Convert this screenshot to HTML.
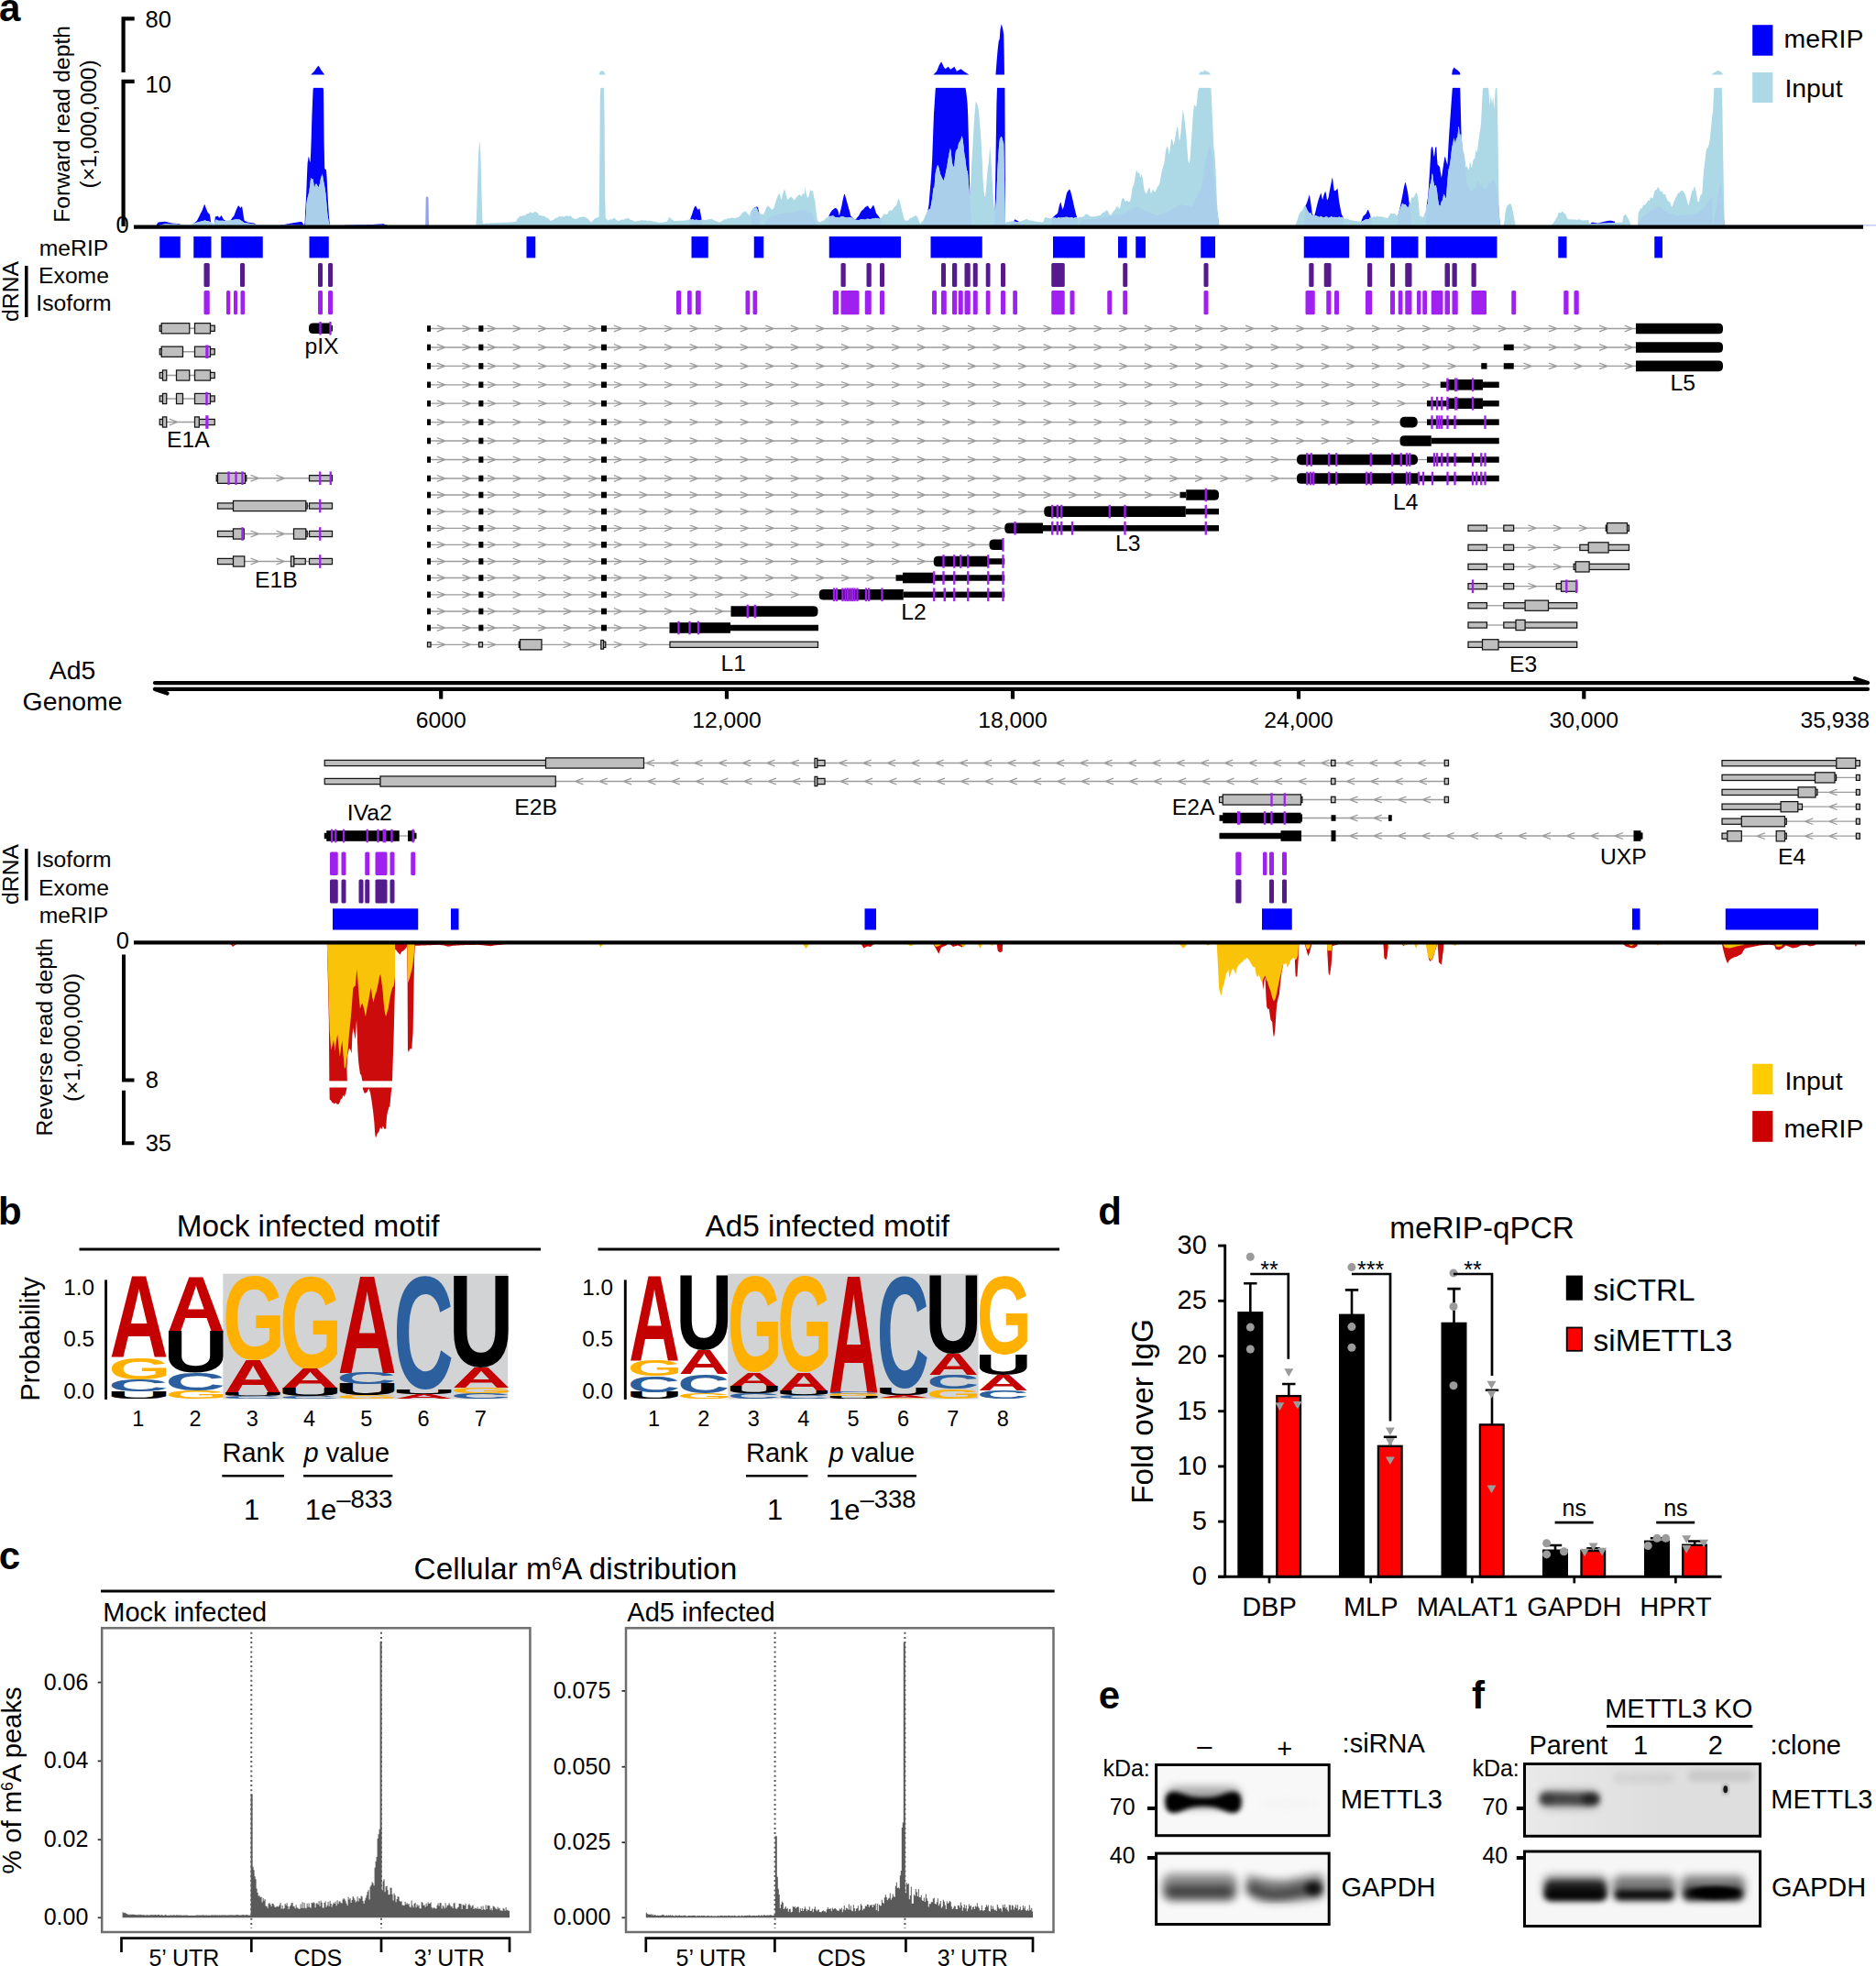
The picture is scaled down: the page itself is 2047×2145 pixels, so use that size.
<!DOCTYPE html>
<html lang="en"><head><meta charset="utf-8"><title>Figure</title>
<style>
html,body{margin:0;padding:0;background:#fff}
svg{display:block;font-family:"Liberation Sans",sans-serif}

</style></head><body>
<svg width="2047" height="2145" viewBox="0 0 2047 2145">
<defs>
<filter id="b2" x="-20%" y="-60%" width="140%" height="220%"><feGaussianBlur stdDeviation="2"/></filter>
<filter id="b25" x="-20%" y="-60%" width="140%" height="220%"><feGaussianBlur stdDeviation="2.4"/></filter>
<filter id="b3" x="-20%" y="-80%" width="140%" height="260%"><feGaussianBlur stdDeviation="3.2"/></filter>
<filter id="b5" x="-20%" y="-100%" width="140%" height="300%"><feGaussianBlur stdDeviation="5"/></filter>
<filter id="b1" x="-5%" y="-5%" width="110%" height="110%"><feGaussianBlur stdDeviation="0.5"/></filter>
</defs>
<g id="fwdcov">
<polygon points="170,246.6 170.6,245.8 171.2,244.86 171.8,243.86 172.4,242.84 173,242.47 173.6,242.41 174.2,242.35 174.8,242.29 175.4,242.23 176,242.17 176.6,242.11 177.2,242.05 177.8,241.99 178.4,241.93 179,241.87 179.6,241.81 180.2,241.79 180.8,241.93 181.4,242.07 182,242.21 182.6,242.35 183.2,242.49 183.8,242.63 184.4,242.77 185,242.91 185.6,243.05 186.2,243.19 186.8,243.33 187.4,243.47 188,243.55 188.6,243.6 189.2,243.65 189.8,243.7 190.4,243.76 191,243.81 191.6,243.86 192.2,243.91 192.8,243.96 193.4,244.01 194,244.06 194.6,244.12 195.2,244.17 195.8,244.22 196.4,244.29 197,245.49 197.6,246.6" fill="#0505fa"/>
<polygon points="207.8,246.6 208.4,246.07 209,245.64 209.6,245.16 210.2,244.66 210.8,244.16 211.4,243.66 212,243.16 212.6,242.66 213.2,242.16 213.8,241.66 214.4,241.13 215,240.61 215.6,239.57 216.2,238.31 216.8,237.18 217.4,236.11 218,234.86 218.6,233.45 219.2,232.2 219.8,231.19 220.4,229.98 221,228.4 221.6,226.82 222.2,225.15 222.8,223.47 223.4,222.97 224,224.82 224.6,226.67 225.2,228.28 225.8,229.74 226.4,231.2 227,232.03 227.6,232.8 228.2,233.33 228.8,233.8 229.4,237.15 230,241.54 230.6,245.94 231.2,246.6" fill="#0505fa"/>
<polygon points="233.6,246.6 234.2,243.53 234.8,236.49 235.4,236.32 236,236.14 236.6,235.99 237.2,235.85 237.8,235.8 238.4,236.52 239,237.24 239.6,237.64 240.2,236.74 240.8,235.84 241.4,234.94 242,235.79 242.6,236.93 243.2,238.03 243.8,239.11 244.4,239.81 245,240.33 245.6,240.62 246.2,240.76 246.8,240.9 247.4,241.05 248,241.2 248.6,241.35 249.2,241.5 249.8,241.65 250.4,241.58 251,240.81 251.6,240.06 252.2,239.44 252.8,238.8 253.4,237.81 254,236.83 254.6,236.31 255.2,235.8 255.8,234.23 256.4,232.53 257,230.91 257.6,229.32 258.2,227.98 258.8,226.74 259.4,225.58 260,224.48 260.6,224.48 261.2,225.42 261.8,226.36 262.4,226.94 263,226.07 263.6,225.19 264.2,225.65 264.8,229.6 265.4,233.51 266,237.22 266.6,240.59 267.2,240.89 267.8,241.18 268.4,241.5 269,241.82 269.6,242.14 270.2,242.46 270.8,242.58 271.4,242.66 272,242.74 272.6,242.82 273.2,242.9 273.8,242.98 274.4,243.06 275,243.14 275.6,243.22 276.2,243.3 276.8,243.38 277.4,243.46 278,243.76 278.6,244.54 279.2,245.32 279.8,246.1 280.4,246.6" fill="#0505fa"/>
<polygon points="302,246.6 302.6,246.36 303.2,246.25 303.8,246.14 304.4,246.02 305,245.91 305.6,245.8 306.2,245.69 306.8,245.58 307.4,245.47 308,245.36 308.6,245.24 309.2,245.13 309.8,245.02 310.4,244.91 311,244.8 311.6,244.69 312.2,244.58 312.8,244.46 313.4,244.35 314,244.24 314.6,244.13 315.2,244.02 315.8,243.91 316.4,243.8 317,243.68 317.6,243.57 318.2,243.47 318.8,243.38 319.4,243.28 320,243.19 320.6,243.1 321.2,243 321.8,242.91 322.4,242.82 323,242.72 323.6,242.63 324.2,242.54 324.8,242.44 325.4,242.35 326,242.26 326.6,242.16 327.2,242.07 327.8,241.98 328.4,241.88 329,241.79 329.6,242.42 330.2,243.34 330.8,244.27 331.4,245.19 332,246.11 332.6,242.99 333.2,230.25 333.8,219.32 334.4,207.11 335,190.64 335.6,177.67 336.2,174.07 336.8,170.47 337.4,172.57 338,176.39 338.6,176.4 339.2,165.66 339.8,148.33 340.4,126.46 341,111.7 341.6,97.56 342.2,95.2 352.4,95.2 353,98.02 353.6,155.11 354.2,183.22 354.8,184.68 355.4,184.91 356,185.13 356.6,193.28 357.2,206.37 357.8,217.62 358.4,227.22 359,236.82 359.6,242.4 360.2,245.35 360.8,246.6" fill="#0505fa"/>
<polygon points="365.6,246.6 366.2,246.42 367.4,246.34 368.6,246.27 369.8,246.19 371,246.12 372.2,246.04 373.4,245.97 374.6,245.89 375.8,245.82 377,245.74 378.2,245.67 379.4,245.59 380.6,245.52 383.6,245.46 386.6,245.4 389.6,245.34 392.6,245.28 395.6,245.22 398.6,245.16 401.6,245.1 404.6,245.04 406.4,244.97 407.6,244.9 408.8,244.83 410,244.76 411.2,244.68 412.4,244.61 413.6,244.54 414.8,244.47 416,244.4 417.2,244.32 417.8,244.29 418.4,244.36 419,244.56 419.6,244.76 420.2,244.96 420.8,245.16 421.4,245.36 422,245.56 422.6,245.76 423.2,245.96 423.8,246.16 424.4,246.36 425,246.6" fill="#0505fa"/>
<polygon points="752,246.6 752.6,243.01 753.2,238.97 753.8,237.18 754.4,235.5 755,233.92 755.6,232.21 756.2,230.32 756.8,228.44 757.4,226.67 758,225.8 758.6,224.94 759.2,224.47 759.8,225.67 760.4,226.87 761,227.95 761.6,229.01 762.2,228.42 762.8,227.84 763.4,227.58 764,230.73 764.6,233.87 765.2,237.02 765.8,241.82 766.4,246.6" fill="#0505fa"/>
<polygon points="819.8,246.6 820.4,231.54 821,228.88 821.6,228.58 822.2,227.87 822.8,227.06 823.4,226.62 824,226.33 824.6,225.94 825.2,225.49 825.8,225.39 826.4,225.58 827,226.65 827.6,228.8 828.2,230.95 828.8,241.26 829.4,246.6" fill="#0505fa"/>
<polygon points="833,246.6 833.6,245.6 834.2,244.62 834.8,243.62 835.4,242.57 836,241.52 836.6,240.48 837.2,239.46 837.8,238.44 838.4,237.95 839,237.74 839.6,237.53 840.2,237.32 840.8,237.11 841.4,236.81 842,236.39 842.6,235.98 843.2,235.83 843.8,235.72 844.4,235.59 845,235.34 845.6,235.09 846.2,234.75 846.8,234.37 847.4,233.98 848.6,233.93 849.2,233.84 849.8,233.63 850.4,233.42 851,233.17 851.6,232.9 852.2,232.63 852.8,232.79 853.4,232.96 854,233.05 854.6,232.83 855.2,232.62 855.8,232.48 857,232.44 857.6,232.5 858.2,232.6 858.8,232.7 859.4,232.64 860,232.54 860.6,232.43 861.2,232.17 861.8,231.91 862.4,231.73 863.6,231.8 865.4,231.76 866,231.61 866.6,231.4 867.2,231.19 867.8,230.99 868.4,230.79 869,230.6 869.6,230.49 870.2,230.38 870.8,230.31 872,230.3 872.6,230.05 873.2,229.65 873.8,229.24 875.6,229.3 876.2,229.48 876.8,229.66 877.4,229.82 878,229.9 878.6,229.98 879.2,230.18 879.8,230.51 880.4,230.85 881,231.18 881.6,231.5 882.2,231.82 882.8,232.02 883.4,232.21 884,232.39 884.6,232.48 885.2,232.58 885.8,233.14 886.4,234.71 887,236.28 887.6,237.63 888.2,238.88 888.8,240.13 889.4,241.41 890,242.68 890.6,243.98 891.2,245.3 891.8,246.6" fill="#0505fa"/>
<polygon points="903.8,246.6 904.4,235.54 905,234.35 905.6,233.17 906.2,232 906.8,231.12 907.4,230.24 908,229.48 908.6,228.93 909.2,228.39 909.8,227.97 910.4,227.62 911,227.29 911.6,226.99 912.2,227.08 912.8,227.61 913.4,228.25 914,229.04 914.6,230.49 915.2,233.46 915.8,235.25 916.4,232.69 917,230.17 917.6,227.88 918.2,225.56 918.8,222.44 919.4,219.31 920,216.45 920.6,214.12 921.2,211.79 921.8,212.07 922.4,214 923,215.97 923.6,218.17 924.2,220.36 924.8,222.58 925.4,224.8 926,226.97 926.6,229.07 927.2,231.33 927.8,233.79 928.4,235.66 929,236.34 929.6,236.96 930.2,237.4 930.8,237.86 931.4,238.44 932,239.02 932.6,239.45 933.2,239.87 933.8,239.14 934.4,238.4 935,237.64 935.6,236.89 936.2,236.33 936.8,235.82 937.4,234.79 938,233.57 938.6,232.5 939.2,231.53 939.8,230.58 940.4,229.63 941,228.99 941.6,228.7 942.2,228.41 942.8,227.57 943.4,226.71 944,226.1 944.6,225.8 945.2,225.49 945.8,225.11 946.4,224.7 947,224.32 947.6,225.41 948.2,226.5 948.8,227.37 949.4,228.21 950,227.8 950.6,227.16 951.2,226.22 951.8,225.2 952.4,224.46 953,223.86 953.6,224.71 954.2,226.61 954.8,228.64 955.4,230.8 956,232.45 956.6,233.36 957.2,234.17 957.8,234.79 958.4,235.48 959,236.41 959.6,237.33 960.2,238.26 960.8,239.65 961.4,246.6" fill="#0505fa"/>
<polygon points="1005.8,246.6 1006.4,245.47 1007,244.2 1007.6,242.86 1008.2,241.51 1008.8,240.12 1009.4,238.71 1010,237.37 1010.6,236.08 1011.2,234.21 1011.8,231.85 1012.4,229.39 1013,226.81 1013.6,222.38 1014.2,214.81 1014.8,207.46 1015.4,200.65 1016,193.28 1016.6,183.53 1017.2,173.04 1017.8,156.25 1018.4,139.46 1019,124.07 1019.6,114.93 1020.2,105.79 1020.8,96.64 1021.4,95.2 1053.2,95.2 1053.8,97.56 1054.4,101.76 1055,106.78 1055.6,112.72 1056.2,125.57 1056.8,149.44 1057.4,173.32 1058,198.2 1058.6,220.88 1059.2,234.67 1059.8,246.6" fill="#0505fa"/>
<polygon points="1085,246.6 1085.6,233.22 1086.2,193.06 1086.8,152.46 1087.4,113.7 1088,95.2 1096.4,95.2 1097,246.6" fill="#0505fa"/>
<polygon points="1103.6,246.6 1104.2,245.36 1104.8,242.43 1105.4,241.78 1106,241.13 1106.6,240.43 1107.2,239.7 1107.8,239.13 1108.4,239.69 1109,240.24 1109.6,240.55 1110.2,240.87 1110.8,241.25 1111.4,241.64 1112,242.03 1112.6,242.42 1113.2,246.43 1113.8,246.6" fill="#0505fa"/>
<polygon points="1146.8,246.6 1147.4,245.13 1148,237.98 1148.6,237.41 1149.2,236.84 1149.8,236.23 1150.4,235.63 1151,235.1 1151.6,234.57 1152.2,234.17 1152.8,233.77 1153.4,233.26 1154,232.74 1154.6,230.21 1155.2,227.38 1155.8,224.55 1156.4,222.66 1157,220.81 1157.6,220.98 1158.2,223.67 1158.8,226.37 1159.4,228.64 1160,227.17 1160.6,225.7 1161.2,223.41 1161.8,220.56 1162.4,217.72 1163,215.01 1163.6,212.33 1164.2,209.97 1164.8,209.17 1165.4,208.37 1166,207.65 1166.6,207.04 1167.2,206.43 1167.8,207.78 1168.4,209.83 1169,211.88 1169.6,214.22 1170.2,216.63 1170.8,219.42 1171.4,222.36 1172,225.05 1172.6,227.61 1173.2,230.12 1173.8,232.59 1174.4,234.84 1175,236.83 1175.6,242.02 1176.2,245.65 1176.8,244.96 1177.4,244.24 1178,243.49 1178.6,242.74 1179.2,242.02 1179.8,241.31 1180.4,240.61 1181,240.53 1181.6,240.46 1182.2,240.36 1182.8,240.24 1183.4,240.13 1184,240.01 1184.6,239.89 1185.2,239.81 1186.4,239.85 1187,239.75 1187.6,239.6 1188.2,239.48 1190.6,239.41 1191.2,239.37 1191.8,239.19 1192.4,239.01 1193,238.89 1193.6,238.81 1194.2,238.74 1196,238.76 1196.6,238.64 1197.2,238.53 1197.8,238.36 1198.4,238.18 1199,238.02 1199.6,237.93 1200.2,237.85 1200.8,237.74 1201.4,237.62 1202,237.51 1203.2,237.58 1203.8,237.55 1204.4,237.41 1205,237.27 1205.6,237.03 1206.2,236.76 1206.8,236.55 1208,236.62 1208.6,236.59 1209.2,236.51 1209.8,236.43 1210.4,236.24 1211,236.04 1211.6,235.85 1212.2,235.65 1212.8,235.45 1213.4,235.35 1214,235.28 1214.6,235.19 1215.2,234.96 1215.8,234.72 1216.4,234.53 1217,234.38 1217.6,234.22 1218.2,234.35 1218.8,234.49 1219.4,234.53 1220,234.32 1220.6,234.11 1221.2,233.94 1221.8,233.78 1222.4,233.64 1223.6,233.65 1224.2,233.52 1224.8,233.25 1225.4,232.98 1226,232.8 1226.6,232.63 1227.2,232.46 1227.8,232.15 1228.4,231.84 1229,231.47 1229.6,230.96 1230.2,230.46 1230.8,230.06 1231.4,229.77 1232,229.48 1232.6,229.19 1233.2,228.9 1233.8,228.61 1234.4,228.29 1235,227.97 1235.6,227.67 1236.2,227.51 1236.8,227.35 1237.4,227.08 1238,226.64 1238.6,226.2 1239.2,225.88 1239.8,225.65 1240.4,225.42 1241,225.52 1241.6,225.7 1242.2,225.88 1242.8,226.52 1243.4,227.15 1244,227.65 1244.6,227.71 1245.2,227.78 1245.8,227.98 1246.4,228.32 1247,228.67 1247.6,229.01 1248.2,229.36 1248.8,229.7 1249.4,230.11 1250,230.52 1250.6,230.89 1251.2,230.95 1251.8,231.01 1252.4,231.25 1253,231.66 1253.6,232.07 1254.2,232.2 1254.8,232.3 1255.4,232.44 1256,232.69 1256.6,232.94 1257.2,233.18 1257.8,233.42 1258.4,233.65 1259,233.74 1259.6,233.84 1260.2,234.05 1260.8,234.42 1261.4,234.78 1262,234.98 1262.6,235.16 1263.2,235.22 1263.8,234.93 1264.4,234.63 1265,234.51 1266.2,234.46 1266.8,234.04 1267.4,233.62 1268,233.31 1268.6,233.15 1269.2,233 1269.8,232.85 1270.4,232.69 1271,232.51 1271.6,232.21 1272.2,231.92 1272.8,231.61 1273.4,231.29 1274,230.97 1274.6,230.79 1275.2,230.62 1275.8,230.38 1276.4,230.04 1277,229.69 1277.6,229.41 1278.2,229.15 1278.8,228.83 1279.4,228.18 1280,227.53 1280.6,227.14 1281.2,226.98 1281.8,226.82 1282.4,226.34 1283,225.83 1283.6,225.37 1284.2,225.02 1284.8,224.67 1285.4,224.49 1286,224.38 1286.6,224.24 1287.2,223.74 1287.8,223.24 1288.4,223.06 1289,223.21 1289.6,223.35 1290.2,223.57 1290.8,223.79 1291.4,224.01 1292,224.21 1292.6,224.41 1293.2,224.39 1293.8,224.27 1294.4,224.16 1295,224.36 1295.6,224.57 1296.2,224.72 1296.8,224.78 1297.4,224.85 1298,224.96 1298.6,225.08 1299.2,225.23 1299.8,225.43 1300.4,225.64 1301,224.93 1301.6,223.62 1302.2,222.31 1302.8,221.12 1303.4,219.97 1304,218.81 1304.6,217.58 1305.2,216.34 1305.8,215.2 1306.4,214.34 1307,213.49 1307.6,212.39 1308.2,211.03 1308.8,209.66 1309.4,208.53 1310,207.5 1310.6,206.47 1311.2,203.27 1311.8,199.82 1312.4,196.26 1313,191.86 1313.6,187.45 1314.2,183.45 1314.8,180.26 1315.4,177.07 1316,174.21 1316.6,171.61 1317.2,169.02 1317.8,166.14 1318.4,162.84 1319,159.55 1319.6,157.77 1320.2,159.81 1320.8,161.86 1321.4,164.08 1322,167.33 1322.6,170.58 1323.2,173.97 1323.8,183.66 1324.4,193.34 1325,202.08 1325.6,210.76 1326.2,216.07 1326.8,220.78 1327.4,225.42 1328,229.95 1328.6,234.47 1329.2,239.07 1329.8,243.69 1330.4,246.6" fill="#0505fa"/>
<polygon points="1422.8,246.6 1423.4,242.53 1424,225.83 1424.6,224.36 1425.2,222.9 1425.8,221.45 1426.4,219.95 1427,218.14 1427.6,216.33 1428.2,214.28 1428.8,212.23 1429.4,215.98 1430,219.84 1430.6,223.75 1431.2,228.5 1431.8,233.26 1432.4,234.37 1433,235.37 1433.6,236.36 1434.2,235.38 1434.8,233.24 1435.4,231.1 1436,228.55 1436.6,225.84 1437.2,223.23 1437.8,221.04 1438.4,218.86 1439,216.83 1439.6,215.21 1440.2,213.54 1440.8,211.64 1441.4,210.24 1442,213.18 1442.6,216.12 1443.2,218.08 1443.8,215.58 1444.4,213.08 1445,211.31 1445.6,209.89 1446.2,208.48 1446.8,210.86 1447.4,214.49 1448,218.12 1448.6,217.67 1449.2,216.38 1449.8,214.28 1450.4,210.5 1451,207.13 1451.6,204.28 1452.2,201.29 1452.8,198.18 1453.4,195.08 1454,193.86 1454.6,199.11 1455.2,204.35 1455.8,207.99 1456.4,207.94 1457,207.89 1457.6,207.84 1458.2,207.05 1458.8,206.23 1459.4,205.42 1460,209.04 1460.6,215.36 1461.2,220.06 1461.8,223.35 1462.4,226.55 1463,229.62 1463.6,232.69 1464.2,234.58 1464.8,235.4 1465.4,236.23 1466,243.91 1466.6,246.6" fill="#0505fa"/>
<polygon points="1484.6,246.6 1485.2,241.72 1485.8,240.28 1486.4,238.84 1487,237.3 1487.6,235.75 1488.2,235.16 1488.8,234.73 1489.4,234.23 1490,233.59 1490.6,232.95 1491.2,231.67 1491.8,230.28 1492.4,228.88 1493,228.95 1493.6,230.47 1494.2,231.98 1494.8,233.69 1495.4,236.34 1496,239 1496.6,242.68 1497.2,246.6" fill="#0505fa"/>
<polygon points="1524.2,246.6 1524.8,245.85 1525.4,235.29 1526,232.9 1526.6,230.51 1527.2,228.13 1527.8,225.73 1528.4,222.79 1529,219.86 1529.6,216.84 1530.2,213.82 1530.8,210.47 1531.4,207.07 1532,203.66 1532.6,201.4 1533.2,199.2 1533.8,199.21 1534.4,202.01 1535,204.77 1535.6,207.46 1536.2,210.61 1536.8,215.01 1537.4,219.42 1538,222.99 1538.6,224.99 1539.2,232.73 1539.8,246.6" fill="#0505fa"/>
<polygon points="1556,246.6 1556.6,225.06 1557.2,221.01 1557.8,216.96 1558.4,212.35 1559,203.03 1559.6,193.71 1560.2,184.38 1560.8,174.08 1561.4,163.48 1562,160.2 1562.6,160.4 1563.2,160.6 1563.8,164.25 1564.4,169.02 1565,171.18 1565.6,165.5 1566.2,160.66 1566.8,160.13 1567.4,160.51 1568,172.26 1568.6,179.52 1569.2,180.15 1569.8,180.75 1570.4,181.3 1571,182.6 1571.6,186.43 1572.2,190.25 1572.8,194.08 1573.4,190.88 1574,186.8 1574.6,182.72 1575.2,178.79 1575.8,174.99 1576.4,171.18 1577,171.26 1577.6,173.68 1578.2,176.1 1578.8,178.29 1579.4,179.94 1580,168.32 1580.6,156.71 1581.2,146.73 1581.8,138.23 1582.4,129.73 1583,121.29 1583.6,112.84 1584.2,104.44 1584.8,96.44 1585.4,95.2 1593.2,95.2 1593.8,117.17 1594.4,142.11 1595,153.37 1595.6,161.78 1596.2,166.45 1596.8,170.46 1597.4,172.19 1598,174.53 1598.6,180.95 1599.2,187.33 1599.8,193.12 1600.4,198.9 1601,200.98 1601.6,202.9 1602.2,204.61 1602.8,205.36 1603.4,206.11 1604,206.99 1604.6,208.1 1605.2,209.21 1605.8,209.19 1606.4,208.44 1607,207.71 1607.6,207.19 1608.2,206.66 1608.8,205.81 1609.4,204.74 1610,203.62 1610.6,202.02 1611.2,200.42 1611.8,199.09 1612.4,197.95 1613,197.03 1613.6,198.71 1614.2,200.38 1614.8,201.33 1615.4,201.74 1616,202.18 1616.6,203.11 1617.2,204.04 1617.8,204.56 1618.4,204.75 1619,204.98 1619.6,205.77 1620.2,206.56 1620.8,206.71 1621.4,206.35 1622,205.99 1622.6,205.03 1623.2,203.89 1623.8,202.75 1624.4,201.5 1625,200.24 1625.6,199.3 1626.2,199.57 1626.8,199.85 1627.4,199.63 1628,198.73 1628.6,197.82 1629.2,197.22 1629.8,196.81 1630.4,196.4 1631,198.18 1631.6,200.35 1632.2,202.52 1632.8,205.54 1633.4,208.91 1634,212.28 1634.6,218.1 1635.2,225.65 1635.8,233.58 1636.4,241.88 1637,246.6" fill="#0505fa"/>
<polygon points="1733,246.6 1733.6,246.21 1734.2,245.61 1734.8,244.97 1735.4,244.29 1736,243.61 1736.6,242.93 1737.2,242.55 1737.8,242.65 1738.4,242.74 1739,242.84 1739.6,242.94 1740.2,243.03 1740.8,243.13 1741.4,243.22 1742,243.32 1742.6,243.42 1743.2,243.51 1743.8,243.38 1744.4,243.24 1745,243.1 1745.6,242.96 1746.2,242.82 1746.8,242.68 1747.4,242.54 1748,242.4 1748.6,242.26 1749.2,242.12 1749.8,241.98 1750.4,241.84 1751,241.71 1751.6,241.59 1752.2,241.47 1752.8,241.35 1753.4,241.23 1754,241.11 1754.6,240.99 1755.2,240.87 1755.8,240.79 1756.4,240.72 1757,240.66 1757.6,240.74 1758.2,240.82 1758.8,240.96 1759.4,241.11 1760,241.26 1760.6,241.41 1761.2,241.56 1761.8,241.71 1762.4,243.29 1763,245.69 1763.6,246.6" fill="#0505fa"/>
<polygon points="1787,246.6 1787.6,245.42 1788.2,244.07 1788.8,242.73 1789.4,241.39 1790,240.05 1790.6,238.71 1791.2,237.87 1791.8,237.34 1792.4,236.81 1793,236.33 1793.6,235.85 1794.2,235.37 1794.8,234.98 1795.4,234.58 1796,234.2 1796.6,233.86 1797.2,233.52 1797.8,233.03 1798.4,232.38 1799,231.73 1799.6,231.18 1800.2,230.68 1800.8,230.17 1801.4,229.98 1802,229.82 1802.6,229.63 1803.2,229.22 1803.8,228.81 1804.4,228.42 1805,228.06 1805.6,227.7 1806.2,227.39 1806.8,227.1 1807.4,226.82 1808,226.48 1808.6,226.12 1809.2,225.77 1809.8,225.53 1810.4,225.29 1811,225.21 1811.6,225.71 1812.2,226.22 1812.8,226.7 1813.4,227.15 1814,227.61 1814.6,228.17 1815.2,228.79 1815.8,229.42 1816.4,229.75 1817,230.03 1817.6,230.33 1818.2,230.85 1818.8,231.37 1819.4,231.85 1820,232.2 1820.6,232.56 1821.2,232.83 1821.8,233.04 1822.4,233.24 1823,233.34 1823.6,233.4 1824.2,233.46 1824.8,233.66 1825.4,233.88 1826,234.08 1826.6,234.17 1827.2,234.26 1827.8,234.44 1828.4,234.78 1829,235.11 1829.6,235.31 1830.2,235.41 1830.8,235.51 1831.4,235.4 1832,235.24 1832.6,235.08 1835.6,235.16 1836.2,235.05 1836.8,234.76 1837.4,234.48 1838,234.46 1838.6,234.57 1839.2,234.68 1839.8,234.53 1840.4,234.36 1841,234.19 1841.6,234.13 1842.2,234.07 1844,234.08 1844.6,233.98 1845.2,233.78 1845.8,233.59 1846.4,233.51 1847.6,233.42 1849.4,233.36 1850.6,233.38 1851.2,233.13 1851.8,232.49 1852.4,231.85 1853,231.43 1853.6,231.14 1854.2,230.86 1854.8,230.4 1855.4,229.92 1856,229.43 1856.6,228.96 1857.2,228.48 1857.8,227.99 1858.4,227.44 1859,226.9 1859.6,226.39 1860.2,225.91 1860.8,225.43 1861.4,224.46 1862,223.29 1862.6,222.15 1863.2,221.17 1863.8,220.19 1864.4,219.15 1865,218.09 1865.6,217.13 1866.2,216.6 1866.8,216.08 1867.4,215.11 1868,213.93 1868.6,246.6" fill="#0505fa"/>
<polygon points="1869.2,246.6 1869.8,242.83 1870.4,239.71 1871,236.59 1871.6,233.47 1872.2,230.1 1872.8,226.1 1873.4,222.1 1874,218.1 1874.6,214.1 1875.2,210.6 1875.8,207.37 1876.4,204.14 1877,200.91 1877.6,200.89 1878.2,202.61 1878.8,207.9 1879.4,216.9 1880,225.9 1880.6,233.95 1881.2,240.64 1881.8,246.6" fill="#0505fa"/>
<polygon points="171.2,246.6 171.8,246.35 172.4,246.2 173,246.05 173.6,245.9 174.2,245.75 174.8,245.6 175.4,245.45 176,245.3 176.6,245.15 177.2,245 177.8,244.85 178.4,244.7 179,244.55 179.6,244.4 180.2,244.27 182.6,244.34 185,244.4 187.4,244.47 189.8,244.53 192.2,244.6 194.6,244.66 197,244.73 199.4,244.8 201.8,244.86 204.2,244.93 206.6,244.99 207.8,244.98 208.4,244.78 209,244.58 209.6,244.38 210.2,244.18 210.8,243.98 211.4,243.78 212,243.58 212.6,243.38 213.2,243.18 213.8,242.98 214.4,242.78 215,242.58 215.6,242.41 216.2,242.26 216.8,242.11 217.4,241.96 218,241.81 218.6,241.66 219.2,241.51 219.8,241.36 220.4,241.21 221,241.06 221.6,240.91 222.2,240.7 222.8,240.43 223.4,240.34 224,240.57 224.6,240.81 225.2,240.95 225.8,241.08 226.4,241.21 227,241.34 227.6,241.47 228.2,241.6 228.8,241.73 229.4,241.98 230,242.28 230.6,242.58 231.2,242.88 231.8,243.18 232.4,243.48 233,243.78 233.6,244.08 234.2,243.42 234.8,241.2 235.4,239.64 236.6,239.7 237.2,240.06 237.8,240.47 238.4,240.7 239,240.77 239.6,240.82 240.8,240.76 242.6,240.75 243.2,240.81 243.8,240.87 244.4,240.93 245,240.99 245.6,240.98 246.2,240.92 246.8,240.86 247.4,240.8 248,240.74 248.6,240.6 249.2,240.45 249.8,240.33 250.4,240.25 251,240.17 252.2,240.09 254,240.05 254.6,239.85 255.2,239.65 256.4,239.58 257,239.34 257.6,239.05 258.2,239.14 258.8,239.39 259.4,239.39 260,239.23 260.6,239.27 261.2,239.47 261.8,239.68 262.4,240.07 263,240.48 263.6,240.9 264.2,241.33 264.8,241.76 265.4,242.2 266,242.63 266.6,243.03 267.2,243.11 267.8,243.2 268.4,243.29 269,243.37 269.6,243.46 270.2,243.55 270.8,243.64 271.4,243.72 272,243.81 272.6,243.9 273.2,243.99 273.8,244.07 274.4,244.16 275,244.25 275.6,244.33 276.2,244.42 276.8,244.51 277.4,244.6 278,244.68 278.6,244.77 279.2,244.86 279.8,244.95 280.4,245.02 284,245.07 287.6,245.13 291.2,245.18 294.8,245.23 298.4,245.28 302,245.33 305.6,245.39 309.2,245.44 312.8,245.49 316.4,245.54 320,245.59 323.6,245.64 327.2,245.7 330.8,245.75 332,245.77 332.6,245.52 333.2,244.62 333.8,234.63 334.4,222.65 335,217.7 335.6,215.63 336.2,213.55 336.8,211.21 337.4,207.65 338,203.94 338.6,198.84 339.2,193.8 339.8,194.7 340.4,195.59 341,195.46 341.6,195.23 342.2,199.29 342.8,204.21 343.4,203.76 344,201.49 344.6,200.63 345.2,200.51 345.8,201.18 346.4,202.45 347,203.71 347.6,204.3 348.2,202.62 348.8,200.73 349.4,197.54 350,194.43 350.6,192.69 351.2,190.95 351.8,189.91 352.4,193.45 353,196.97 353.6,200.14 354.2,203.31 354.8,207.29 355.4,211.3 356,217.85 356.6,224.79 357.2,231.72 357.8,236.67 358.4,239.84 359,243.01 359.6,244.7 360.2,245.42 360.8,245.77 519.2,245.77 519.8,239.87 520.4,223.15 521,200.64 521.6,181.72 522.2,167.25 522.8,158.84 523.4,153.73 524,161.53 524.6,175.71 525.2,198.15 525.8,221.34 526.4,239.83 527,244.2 527.6,244.09 528.2,243.99 528.8,243.88 529.4,243.77 530,243.67 530.6,243.56 531.2,243.5 533,243.43 534.8,243.36 536.6,243.29 538.4,243.22 540.2,243.14 542,243.07 543.8,243 545.6,242.93 547.4,242.86 549.2,242.78 551,242.71 552.8,242.64 554.6,242.57 555.8,242.52 556.4,242.47 557,242.41 557.6,242.35 558.2,242.29 558.8,242.23 559.4,242.17 560,242.11 560.6,242.05 561.2,241.99 561.8,241.93 562.4,241.87 563,241.81 563.6,241.19 564.2,239.27 564.8,237.76 565.4,237.78 566,237.65 566.6,236.49 567.2,235.38 567.8,235.8 568.4,236.22 569,236.1 569.6,235.95 570.2,235.4 570.8,234.78 571.4,234.9 572,235.24 572.6,235.13 573.2,234.81 573.8,234.28 574.4,233.62 575,233.25 575.6,233.18 576.2,233.09 576.8,232.99 577.4,232.59 578,231.59 578.6,230.99 579.2,231.63 579.8,232.2 580.4,232.36 581,232.49 581.6,232.34 582.2,232.18 582.8,231.83 583.4,231.33 584,230.87 584.6,231.3 585.2,231.73 585.8,231.84 586.4,231.94 587,232.78 587.6,233.71 588.2,234.65 588.8,235.05 589.4,235.02 590,235.08 590.6,235.26 591.2,235.38 591.8,235.38 592.4,235.46 593,235.74 593.6,236.02 594.2,236.32 594.8,236.62 595.4,237 596,237.38 597.2,237.43 597.8,238.1 598.4,238.82 599,239.15 599.6,239.26 600.2,240.96 600.8,240.82 601.4,240.65 602,240.45 602.6,240.25 603.2,240.07 603.8,239.89 604.4,239.57 605,239.25 605.6,238.54 606.2,237.83 606.8,237.9 607.4,238.05 608,237.75 608.6,237.34 609.2,236.81 609.8,236.22 610.4,236.06 611,236.15 611.6,236.28 612.2,236.44 612.8,236.33 613.4,235.9 614,235.85 614.6,236.47 615.2,236.79 615.8,236.38 616.4,235.96 617,235.71 617.6,235.5 618.2,235.36 618.8,235.41 619.4,235.46 620,235.67 620.6,235.93 621.2,236 621.8,235.53 622.4,235.06 623,235.63 623.6,236.55 624.2,237.26 624.8,237.87 625.4,238.18 626,238.27 626.6,238.5 627.2,238.88 627.8,239.01 628.4,238.77 629,238.55 629.6,238.4 630.2,238.22 630.8,237.99 631.4,237.74 632,237.33 632.6,236.95 633.2,237.03 633.8,237.1 634.4,236.97 635,236.66 635.6,236.37 636.2,236.48 636.8,236.59 637.4,236.71 638,236.84 638.6,236.98 639.2,237.34 639.8,237.71 640.4,238.04 641,238.33 641.6,238.83 642.2,239.59 642.8,240.28 643.4,240.85 644,241.42 644.6,242.02 645.2,242.42 645.8,241.88 646.4,241.32 647,240.53 647.6,239.74 648.2,239.18 648.8,238.63 649.4,238.18 650,237.75 650.6,237.66 651.2,237.65 651.8,237.58 652.4,237.35 653,237.12 653.6,236.27 654.2,193.69 654.8,105.58 655.4,95.2 659,95.2 659.6,131.05 660.2,214.9 660.8,237.4 661.4,238.41 662,239.26 662.6,240.07 663.2,240.24 663.8,240.38 664.4,240.22 665,239.7 665.6,239.18 666.2,239.32 666.8,239.52 667.4,239.54 668,239.33 668.6,239.12 669.2,238.44 669.8,237.72 670.4,237.58 671,238.25 671.6,238.89 672.2,239.46 672.8,240 673.4,240.41 674,240.78 674.6,240.9 675.2,241 675.8,240.8 676.4,240.6 677,240.35 677.6,240.09 678.2,239.84 678.8,239.62 679.4,239.4 680,239.56 680.6,239.75 681.2,239.55 681.8,238.98 682.4,238.49 683.6,238.54 684.2,238.21 684.8,237.77 685.4,237.67 686,238.19 686.6,238.72 687.2,239.22 687.8,239.73 688.4,240.03 689,239.95 689.6,239.88 690.2,240.25 690.8,240.71 691.4,241.12 692,241.42 692.6,241.72 693.2,241.65 693.8,241.51 694.4,241.37 695,241.23 695.6,241.09 696.2,240.95 696.8,240.81 697.4,240.71 698.6,240.7 699.2,240.48 699.8,240.21 700.4,240.09 701,240.33 701.6,240.56 702.8,240.53 703.4,240.43 704,240.28 704.6,240.21 705.2,240.56 705.8,240.91 706.4,240.9 707,240.79 707.6,240.75 708.2,240.81 708.8,240.87 709.4,240.93 710,240.99 710.6,241.09 711.2,241.21 711.8,241.33 712.4,241.45 713,241.57 713.6,241.69 714.2,241.81 714.8,241.93 715.4,242.05 716,242.17 716.6,242.29 717.2,242.41 717.8,242.53 718.4,242.65 719,242.77 719.6,242.89 720.2,243.01 720.8,242.93 721.4,242.83 722,242.73 722.6,242.63 723.2,242.53 723.8,242.43 724.4,242.33 725,242.23 725.6,242.13 726.2,242.03 726.8,241.93 727.4,241.83 728,241.37 728.6,240.35 729.2,239.22 729.8,237.85 730.4,236.86 731,237.3 731.6,237.78 732.2,238.52 732.8,239.26 733.4,239.66 734,240.06 734.6,240.5 735.2,240.95 738.8,240.9 740.6,240.84 742.4,240.78 744.2,240.72 746,240.66 747.2,240.62 747.8,240.56 748.4,240.45 749,240.35 749.6,240.25 750.2,240.16 750.8,239.97 751.4,239.77 752,239.48 752.6,239.15 753.2,239.23 753.8,239.54 754.4,239.64 755,239.23 755.6,238.82 756.2,239.24 756.8,239.67 757.4,239.86 758,239.94 758.6,239.88 759.2,239.55 759.8,239.24 760.4,239.68 761,240.13 761.6,240.2 762.2,240.13 762.8,240.14 763.4,240.26 764,240.36 764.6,240.1 765.2,239.84 765.8,239.77 767.6,239.71 768.2,239.67 768.8,239.92 769.4,240.17 770,240.13 770.6,239.88 771.2,239.65 771.8,239.49 772.4,239.33 773.6,239.28 774.2,239.22 774.8,239.1 775.4,238.98 776,239.07 776.6,239.16 777.2,239.35 777.8,239.58 778.4,239.86 779,240.23 779.6,240.61 780.2,240.83 780.8,241.02 781.4,241.22 782,241.41 782.6,241.61 783.2,241.8 783.8,242 784.4,242.19 785,242.39 785.6,242.38 786.2,241.99 786.8,241.6 787.4,241.21 788,240.85 788.6,240.64 789.2,240.39 789.8,239.69 790.4,239 791,239.22 791.6,239.45 792.2,239.35 792.8,238.89 793.4,238.43 794,238.33 794.6,238.23 796.4,238.27 797,237.99 797.6,237.71 798.2,237.55 799.4,237.56 800,237.81 800.6,238.07 801.2,238.15 801.8,238.01 802.4,237.87 803,237.73 803.6,237.59 804.2,237.42 804.8,237.2 805.4,236.99 806,236.66 806.6,236.33 807.2,235.83 807.8,235.3 808.4,234.42 809,233.43 809.6,232.85 810.2,232.46 810.8,231.69 811.4,230.67 812,230.48 812.6,231.14 813.2,231.3 813.8,230.73 814.4,230.73 815,231.89 815.6,232.93 816.2,233.59 816.8,234.21 817.4,234.67 818,234.97 818.6,232.81 819.2,230.66 819.8,230.01 820.4,229.4 821,228.12 821.6,226.75 822.2,226.78 822.8,227.16 823.4,227.02 824,226.66 824.6,226.38 825.2,226.16 825.8,226.94 826.4,228.62 827,230.11 827.6,231.37 828.2,232.22 828.8,232.35 829.4,232.61 830,233.24 830.6,233.73 831.2,233.56 831.8,233.44 832.4,233.91 833,234.36 833.6,232.97 834.2,231.59 834.8,230.06 835.4,228.51 836,227.19 836.6,225.92 837.2,225.18 837.8,224.62 838.4,224.85 839,225.49 839.6,226.03 840.2,226.49 840.8,227.11 841.4,227.92 842,228.46 842.6,228.6 843.2,228.48 843.8,227.8 844.4,226.79 845,224.64 845.6,222.53 846.2,220.66 846.8,218.8 847.4,217.07 848,215.35 848.6,213.71 849.2,212.75 849.8,211.79 850.4,210.82 851,212.45 851.6,214.8 852.2,217.16 852.8,217.3 853.4,214.61 854,211.92 854.6,209.84 855.2,208.34 855.8,206.84 856.4,207.49 857,209.62 857.6,211.77 858.2,214.07 858.8,216.38 859.4,218.19 860,217.52 860.6,216.85 861.2,216.2 861.8,215.61 862.4,215.02 863,214.44 863.6,214.89 864.2,215.45 864.8,216.02 865.4,216.76 866,217.63 866.6,218.5 867.2,218.11 867.8,217.01 868.4,215.9 869,215.15 869.6,214.53 870.2,213.91 870.8,213.36 871.4,212.91 872,212.46 872.6,212.06 873.2,212.9 873.8,213.74 874.4,214.35 875,213.12 875.6,211.89 876.2,210.66 876.8,211.26 877.4,212.39 878,208.93 878.6,204.99 879.2,208.23 879.8,211.48 880.4,213.68 881,215.8 881.6,215.38 882.2,214.46 882.8,212.97 883.4,210.31 884,207.65 884.6,206.66 885.2,208.08 885.8,208.82 886.4,208.13 887,208.41 887.6,211.93 888.2,215.3 888.8,217.84 889.4,220.55 890,226.06 890.6,231.57 891.2,235.98 891.8,240.36 892.4,241.14 893,241.45 893.6,241.89 894.2,242.37 894.8,242.29 895.4,241.98 896,241.67 896.6,241.36 897.2,241.05 897.8,240.81 898.4,240.66 899,240.51 899.6,239.87 900.2,239.17 900.8,238.49 901.4,237.85 902,237.3 902.6,237.2 903.2,237.07 903.8,236.66 904.4,236.25 905,235.97 905.6,235.7 906.2,235.71 906.8,235.87 907.4,235.86 908,235.47 908.6,235.08 909.2,235.42 909.8,235.79 910.4,236.22 911,236.69 911.6,237.03 912.8,237 913.4,237.08 914,237.16 914.6,237.28 915.2,237.43 915.8,237.43 916.4,236.91 917,236.39 917.6,236.24 918.2,236.14 919.4,236.15 920,236.24 920.6,236.51 921.2,236.77 921.8,236.9 922.4,237.01 923,237.17 923.6,237.36 924.2,237.45 924.8,237.29 925.4,237.13 926,237.07 926.6,237.02 927.2,237.06 927.8,237.14 928.4,237.25 929,237.39 929.6,237.62 930.2,238.07 930.8,238.47 931.4,238.54 932,238.68 932.6,239.5 933.2,240.31 933.8,240.03 934.4,239.72 935,239.82 935.6,240.13 936.2,240.27 936.8,240.1 937.4,239.92 938,239.71 938.6,239.51 939.2,239.35 939.8,239.23 940.4,239.16 941.6,239.22 942.2,239.39 942.8,239.55 944,239.59 944.6,239.44 945.2,239.09 945.8,238.77 946.4,238.69 947,238.61 947.6,238.77 948.2,238.97 948.8,239.05 949.4,239.04 950,238.98 950.6,238.82 951.2,238.65 951.8,238.51 952.4,238.36 953,238.44 953.6,238.62 954.2,238.53 954.8,238.12 955.4,237.8 956,237.93 956.6,238.05 957.2,238.11 957.8,238.16 958.4,238.34 959,238.6 959.6,238.7 960.2,238.45 960.8,238.2 961.4,237.8 962,237.41 962.6,236.5 963.2,235.57 963.8,234.71 964.4,233.87 965,233.54 965.6,233.34 966.2,233.67 966.8,234.23 967.4,234.16 968,233.69 968.6,232.91 969.2,231.85 969.8,230.82 970.4,229.82 971,229.29 971.6,229.62 972.2,229.85 972.8,229.79 973.4,229.58 974,228.61 974.6,227.65 975.2,226.78 975.8,225.91 976.4,225.41 977,224.91 977.6,224.28 978.2,223.63 978.8,221.69 979.4,219.47 980,217.25 980.6,216.81 981.2,218.27 981.8,219.72 982.4,222.27 983,224.84 983.6,227.31 984.2,229.67 984.8,232.03 985.4,234.39 986,236.65 986.6,238.91 987.2,240.65 987.8,240.41 988.4,240.24 989,240.53 989.6,240.82 990.8,240.76 991.4,240.08 992,239.36 992.6,238.57 993.2,237.76 993.8,237.78 994.4,238.03 995,237.57 995.6,236.76 996.2,236.51 996.8,236.64 997.4,236.28 998,235.46 998.6,235.04 999.2,235.16 999.8,235.43 1000.4,236.03 1001,236.79 1001.6,238.1 1002.2,239.41 1002.8,240.91 1003.4,242.81 1004,244.11 1004.6,243.41 1005.2,242.72 1005.8,242.12 1006.4,241.6 1007,241.08 1007.6,239.83 1008.2,238.4 1008.8,236.94 1009.4,235.46 1010,234.14 1010.6,232.91 1011.2,231.81 1011.8,230.81 1012.4,229.88 1013,229.04 1013.6,228.46 1014.2,228.34 1014.8,227.71 1015.4,225.77 1016,223.47 1016.6,219.62 1017.2,215.66 1017.8,210.82 1018.4,206.03 1019,204.56 1019.6,203.1 1020.2,195.87 1020.8,188.2 1021.4,185.28 1022,183.25 1022.6,181.57 1023.2,180 1023.8,180.8 1024.4,182.8 1025,185.28 1025.6,188.1 1026.2,190.2 1026.8,191.56 1027.4,192.92 1028,194.24 1028.6,195.4 1029.2,196.55 1029.8,196.91 1030.4,194.56 1031,192.21 1031.6,189.66 1032.2,186.68 1032.8,183.69 1033.4,180.71 1034,177.01 1034.6,173.28 1035.2,169.55 1035.8,166.63 1036.4,164.18 1037,161.74 1037.6,165.16 1038.2,171.09 1038.8,177.01 1039.4,179.45 1040,180.9 1040.6,182.34 1041.2,180.69 1041.8,175.04 1042.4,169.39 1043,164.24 1043.6,163.72 1044.2,163.19 1044.8,162.24 1045.4,159.32 1046,156.56 1046.6,155.61 1047.2,154.65 1047.8,153.42 1048.4,152.18 1049,150.1 1049.6,147.94 1050.2,150.25 1050.8,153.54 1051.4,159.02 1052,165.3 1052.6,169.39 1053.2,172.29 1053.8,176.77 1054.4,182.49 1055,185.8 1055.6,186.43 1056.2,189.98 1056.8,198.25 1057.4,205.84 1058,211.81 1058.6,213.23 1059.2,197.83 1059.8,185.83 1060.4,175.16 1061,166.09 1061.6,156.17 1062.2,144.78 1062.8,134.39 1063.4,126.61 1064,118.84 1064.6,111.07 1065.2,111.48 1065.8,112.44 1066.4,113.44 1067,116.6 1067.6,119.76 1068.2,123.33 1068.8,130.88 1069.4,138.44 1070,145.99 1070.6,155 1071.2,164.49 1071.8,175.72 1072.4,192.31 1073,203.09 1073.6,209.56 1074.2,213.54 1074.8,214.87 1075.4,212.63 1076,204.99 1076.6,197.36 1077.2,189.78 1077.8,183.07 1078.4,179.39 1079,175.09 1079.6,166.85 1080.2,159.38 1080.8,167.11 1081.4,174.84 1082,185.2 1082.6,195.66 1083.2,206.61 1083.8,217.64 1084.4,223.7 1085,228.4 1085.6,228.67 1086.2,227.01 1086.8,219.71 1087.4,208.78 1088,196.03 1088.6,181.59 1089.2,170.21 1089.8,162.81 1090.4,155.42 1091,151.3 1091.6,150.34 1092.2,149.37 1092.8,148.87 1093.4,150.62 1094,152.42 1094.6,154.63 1095.2,156.84 1095.8,183.82 1096.4,218.52 1097,243.75 1097.6,242.7 1098.2,242.42 1098.8,242.3 1099.4,242.18 1100,242.06 1100.6,241.94 1101.2,241.82 1101.8,241.7 1102.4,241.58 1103,241.46 1103.6,241.34 1104.2,241.22 1104.8,241.1 1105.4,241.06 1106,241.24 1106.6,241.42 1107.2,241.6 1107.8,241.78 1108.4,241.96 1109,242.14 1109.6,242.32 1110.2,242.5 1110.8,242.33 1111.4,242.14 1112,241.94 1112.6,241.75 1113.2,241.55 1113.8,241.36 1114.4,241.16 1115,240.97 1115.6,240.77 1116.2,240.54 1116.8,240.26 1117.4,239.99 1118,239.77 1118.6,239.54 1119.2,239.25 1119.8,238.9 1120.4,238.77 1121,239.3 1121.6,239.84 1122.2,240.11 1122.8,240.33 1123.4,240.45 1124.6,240.48 1125.2,240.57 1125.8,240.66 1126.4,240.79 1127,240.94 1127.6,241.09 1128.2,241.24 1128.8,241.39 1129.4,241.54 1130,241.69 1130.6,241.8 1131.2,241.86 1131.8,241.92 1132.4,241.98 1133,242.04 1133.6,242.1 1134.2,242.16 1134.8,242.22 1135.4,242.28 1136,242.34 1136.6,242.4 1137.2,242.46 1137.8,242.5 1138.4,241.54 1139,240.58 1139.6,238.85 1140.2,237.06 1140.8,236.91 1141.4,237.08 1142,237.26 1142.6,237.45 1143.2,237.63 1143.8,237.94 1144.4,238.27 1145,238.5 1146.2,238.57 1146.8,238.34 1147.4,238.04 1148,237.79 1148.6,237.65 1149.2,237.5 1149.8,237.55 1150.4,237.6 1151.6,237.59 1152.2,237.66 1152.8,237.89 1153.4,238.1 1154,237.54 1154.6,236.97 1155.2,237.07 1155.8,237.43 1156.4,237.62 1157,237.51 1157.6,237.42 1158.8,237.42 1159.4,237.36 1160,237.26 1160.6,237.18 1161.2,237.11 1161.8,237.02 1162.4,236.87 1163,236.72 1164.2,236.78 1164.8,236.85 1165.4,236.93 1166,237.1 1166.6,237.44 1167.2,237.75 1167.8,237.32 1168.4,236.88 1169,236.88 1169.6,237.02 1170.2,237.29 1170.8,237.71 1171.4,237.99 1172,237.7 1172.6,237.42 1173.2,237.34 1173.8,237.27 1175,237.3 1175.6,237.36 1176.2,237.46 1176.8,237.55 1177.4,237.17 1178,236.8 1178.6,236.79 1179.2,237.04 1179.8,237.17 1180.4,236.89 1181,236.61 1181.6,236.45 1182.2,236.33 1182.8,235.89 1183.4,235.08 1184,234.29 1184.6,233.9 1185.2,233.5 1185.8,233.53 1186.4,233.75 1187,234.02 1187.6,234.55 1188.2,235.07 1188.8,235.48 1189.4,235.84 1190,236.14 1191.8,236.2 1192.4,236.26 1193,236.3 1193.6,236.22 1194.2,236.13 1194.8,236.07 1195.4,236.02 1196,235.95 1196.6,235.8 1197.2,235.64 1197.8,235.5 1198.4,235.37 1199,235.23 1199.6,235.13 1200.2,235.02 1200.8,234.64 1201.4,234.1 1202,233.51 1202.6,232.59 1203.2,231.68 1203.8,231.52 1204.4,231.84 1205,232.03 1205.6,231.04 1206.2,230.06 1206.8,229.61 1207.4,229.52 1208,229.51 1208.6,230.25 1209.2,231.01 1209.8,232.42 1210.4,233.83 1211,234.38 1211.6,234.85 1212.2,234.27 1212.8,233.48 1213.4,232.66 1214,231.82 1214.6,230.91 1215.2,229.95 1215.8,229.45 1216.4,229.28 1217,228.41 1217.6,226.76 1218.2,225.67 1218.8,225.44 1219.4,225.38 1220,225.7 1220.6,226.21 1221.2,227.38 1221.8,228.03 1222.4,225.25 1223,222.47 1223.6,219.84 1224.2,217.21 1224.8,216.55 1225.4,215.98 1226,216.39 1226.6,216.96 1227.2,218.45 1227.8,220.2 1228.4,220.06 1229,219.09 1229.6,218.94 1230.2,219.33 1230.8,219.71 1231.4,220.09 1232,220.17 1232.6,219.84 1233.2,218.92 1233.8,216.86 1234.4,214.07 1235,209.08 1235.6,204.75 1236.2,203.68 1236.8,202.5 1237.4,199.98 1238,197.46 1238.6,193.7 1239.2,189.91 1239.8,186.13 1240.4,185.77 1241,187.26 1241.6,188.75 1242.2,188.8 1242.8,188.29 1243.4,190.07 1244,193.13 1244.6,193.11 1245.2,190.56 1245.8,190.23 1246.4,192.49 1247,195.66 1247.6,200.35 1248.2,205.04 1248.8,208.14 1249.4,209.33 1250,210.52 1250.6,211.48 1251.2,210.61 1251.8,209.73 1252.4,208.04 1253,206.35 1253.6,205.24 1254.2,204.18 1254.8,206.87 1255.4,210.23 1256,210.64 1256.6,210.13 1257.2,208.71 1257.8,206.86 1258.4,206.9 1259,208.3 1259.6,209.14 1260.2,209.41 1260.8,209 1261.4,207.6 1262,206.2 1262.6,204.8 1263.2,203.58 1263.8,202.96 1264.4,202.21 1265,200.65 1265.6,198.96 1266.2,195.29 1266.8,191.63 1267.4,188.83 1268,186.06 1268.6,183.74 1269.2,181.48 1269.8,179.69 1270.4,178.02 1271,173.27 1271.6,167.25 1272.2,163.54 1272.8,161.25 1273.4,160.11 1274,160 1274.6,161.96 1275.2,166.5 1275.8,168.21 1276.4,164.79 1277,160.87 1277.6,155.58 1278.2,151.41 1278.8,152.33 1279.4,153.41 1280,156.11 1280.6,158.79 1281.2,155.75 1281.8,152.71 1282.4,149.68 1283,146.22 1283.6,142.54 1284.2,138.87 1284.8,139 1285.4,140.45 1286,145.48 1286.6,152.4 1287.2,153.17 1287.8,149.2 1288.4,145.24 1289,138.92 1289.6,131.28 1290.2,123.64 1290.8,119.48 1291.4,123.34 1292,127.19 1292.6,131.04 1293.2,136.45 1293.8,141.92 1294.4,147.51 1295,156.21 1295.6,164.92 1296.2,173.62 1296.8,176.72 1297.4,177.42 1298,178.12 1298.6,172.03 1299.2,163.99 1299.8,155.95 1300.4,147.07 1301,137.12 1301.6,127.17 1302.2,120.12 1302.8,115.84 1303.4,113.98 1304,115.39 1304.6,116.28 1305.2,116.13 1305.8,114.12 1306.4,106.56 1307,99.94 1307.6,98.22 1308.2,96.51 1308.8,95.2 1321.4,95.2 1322,109.94 1322.6,123.06 1323.2,135.09 1323.8,147.76 1324.4,160.43 1325,165.97 1325.6,171 1326.2,181.81 1326.8,193.67 1327.4,207.57 1328,222.11 1328.6,230.7 1329.2,236.34 1329.8,241.99 1330.4,245.77 1413.2,245.77 1413.8,244.75 1414.4,243.28 1415,241.78 1415.6,240.21 1416.2,238.21 1416.8,236.2 1417.4,234.2 1418,232.86 1418.6,231.71 1419.2,230.82 1419.8,230.62 1420.4,230.42 1421,229.49 1421.6,228.33 1422.2,227.18 1422.8,226.09 1423.4,225 1424,224.47 1424.6,225.08 1425.2,225.94 1425.8,227.59 1426.4,229.12 1427,230.03 1427.6,230.94 1428.2,231.85 1428.8,232.76 1429.4,232.43 1430,232.08 1430.6,233.1 1431.2,234.27 1431.8,234.79 1432.4,235.15 1433,235.38 1433.6,235.55 1434.2,235.56 1434.8,235.33 1435.4,235.14 1436,235.31 1436.6,235.48 1437.2,235.71 1437.8,235.96 1438.4,236.26 1439,236.62 1439.6,236.88 1440.2,236.32 1440.8,235.77 1441.4,235.93 1442,236.28 1442.6,236.6 1443.2,236.89 1443.8,237.16 1444.4,237.33 1445,237.51 1445.6,237.05 1446.2,236.48 1446.8,236.22 1447.4,236.16 1448,236.34 1448.6,236.94 1449.2,237.5 1450.4,237.55 1451,237.24 1451.6,236.87 1452.2,236.53 1452.8,236.21 1453.4,236.23 1454,236.88 1454.6,237.43 1455.2,237.03 1455.8,236.62 1456.4,236.89 1457,237.28 1457.6,237.3 1458.2,237.09 1458.8,237.01 1459.4,237.16 1460,237.24 1460.6,236.75 1461.2,236.25 1461.8,236.58 1462.4,237.05 1463,237.1 1463.6,236.88 1464.2,236.81 1464.8,237.12 1465.4,237.43 1466,237.89 1466.6,238.35 1467.2,238.62 1467.8,238.77 1468.4,238.82 1469,238.62 1469.6,238.43 1470.2,238.63 1470.8,238.84 1471.4,239.1 1472,239.38 1472.6,239.65 1473.2,239.89 1473.8,240.12 1474.4,240.24 1475,240.36 1475.6,240.48 1476.2,240.61 1476.8,240.72 1477.4,240.79 1478,240.87 1478.6,240.94 1479.2,241.02 1479.8,241.09 1480.4,241.17 1481,241.24 1481.6,241.32 1482.2,241.39 1482.8,241.47 1483.4,241.54 1484,241.62 1484.6,241.69 1485.2,241.76 1485.8,241.52 1486.4,241.28 1487,241.04 1487.6,240.8 1488.2,240.49 1488.8,240.07 1489.4,239.66 1490,239.47 1490.6,239.28 1492.4,239.22 1493,239.09 1493.6,238.89 1494.2,238.12 1494.8,237.35 1495.4,237.26 1496,237.36 1496.6,237.36 1497.2,237.27 1497.8,237.1 1498.4,236.56 1499,236.01 1499.6,236.13 1500.2,236.62 1500.8,236.96 1501.4,236.4 1502,235.84 1502.6,235.81 1503.2,236.09 1503.8,236.32 1504.4,236.22 1505,236.13 1505.6,236.21 1506.2,236.4 1506.8,236.54 1507.4,236.45 1508,236.36 1508.6,236.51 1509.2,236.72 1509.8,236.95 1510.4,237.2 1511,237.44 1511.6,237.5 1512.2,237.54 1512.8,237.68 1513.4,237.96 1514,238.23 1514.6,237.27 1515.2,236.32 1515.8,235.49 1516.4,234.67 1517,233.48 1517.6,232.21 1518.2,232.43 1518.8,233.15 1519.4,233.34 1520,233.26 1520.6,233.1 1521.2,232.89 1521.8,233.08 1522.4,233.71 1523,234.27 1523.6,234.75 1524.2,235.13 1524.8,235.29 1525.4,234.95 1526,232.8 1526.6,230.74 1527.2,229.29 1527.8,227.82 1528.4,225.98 1529,224.15 1529.6,222.88 1530.2,221.64 1530.8,222.07 1531.4,222.75 1532,223.29 1532.6,223.05 1533.2,222.81 1533.8,223.13 1534.4,224.17 1535,225.21 1535.6,225.83 1536.2,226.43 1536.8,225.74 1537.4,223.36 1538,221.68 1538.6,221.33 1539.2,220.36 1539.8,217.58 1540.4,215.28 1541,215.39 1541.6,215.47 1542.2,215.18 1542.8,214.9 1543.4,213.77 1544,212.63 1544.6,211.19 1545.2,209.73 1545.8,210.35 1546.4,211.43 1547,214.59 1547.6,218.52 1548.2,224.97 1548.8,232.84 1549.4,236.06 1550,235.54 1550.6,235.64 1551.2,236.45 1551.8,237.07 1552.4,237.37 1553,237.1 1553.6,235.45 1554.2,233.86 1554.8,232.53 1555.4,230.97 1556,227.63 1556.6,224.36 1557.2,223.51 1557.8,222.66 1558.4,216.55 1559,210.1 1559.6,206.11 1560.2,202.54 1560.8,200.3 1561.4,198.47 1562,194.42 1562.6,189.31 1563.2,190.23 1563.8,195.36 1564.4,199.33 1565,202.15 1565.6,203.26 1566.2,201.94 1566.8,201.97 1567.4,204.8 1568,208.22 1568.6,213.51 1569.2,218.46 1569.8,221.45 1570.4,224.26 1571,224.41 1571.6,224.56 1572.2,222.19 1572.8,219.75 1573.4,218.98 1574,218.43 1574.6,215.48 1575.2,211.94 1575.8,212.04 1576.4,213.62 1577,215.25 1577.6,216.91 1578.2,213.01 1578.8,204.28 1579.4,196.47 1580,189.8 1580.6,184.87 1581.2,183.04 1581.8,180.59 1582.4,176.51 1583,172.17 1583.6,166.65 1584.2,161.38 1584.8,158.52 1585.4,155.66 1586,152.97 1586.6,150.29 1587.2,153.33 1587.8,156.87 1588.4,154.49 1589,150.93 1589.6,150.21 1590.2,150.47 1590.8,145.44 1591.4,137.66 1592,138.65 1592.6,146.27 1593.2,148.78 1593.8,145.82 1594.4,146.48 1595,152.72 1595.6,158.19 1596.2,161.89 1596.8,165.18 1597.4,166.98 1598,169.4 1598.6,175.96 1599.2,182.21 1599.8,181.62 1600.4,181.03 1601,182.26 1601.6,183.58 1602.2,184.39 1602.8,185.11 1603.4,181.29 1604,176.17 1604.6,177.78 1605.2,182.39 1605.8,182.82 1606.4,180.51 1607,177.77 1607.6,174.62 1608.2,173.1 1608.8,173.78 1609.4,172.24 1610,166.44 1610.6,162.76 1611.2,165.36 1611.8,166.66 1612.4,161.39 1613,156.22 1613.6,152.14 1614.2,148.07 1614.8,143.79 1615.4,139.51 1616,134.7 1616.6,122.64 1617.2,110.57 1617.8,98.51 1618.4,95.2 1623.8,95.2 1624.4,98.13 1625,108.33 1625.6,115.17 1626.2,108.59 1626.8,103.32 1627.4,108.46 1628,113.38 1628.6,109.4 1629.2,105.41 1629.8,111.82 1630.4,118.94 1631,109.93 1631.6,98.05 1632.2,95.2 1633.4,95.2 1634,120.83 1634.6,154.29 1635.2,202 1635.8,230.7 1636.4,240.18 1637,245.77 1640.6,245.77 1641.2,244.04 1641.8,238.47 1642.4,232.9 1643,229.81 1643.6,227.33 1644.2,224.84 1644.8,224.42 1645.4,224.27 1646,223.47 1646.6,222.5 1647.2,222.26 1647.8,222.31 1648.4,222.77 1649,223.47 1649.6,225.26 1650.2,228.01 1650.8,230.85 1651.4,233.81 1652,236.95 1652.6,240.38 1653.2,243.82 1653.8,245.77 1692.8,245.77 1693.4,245.39 1694,244.55 1694.6,243.71 1695.2,242.87 1695.8,242.02 1696.4,241.14 1697,240.21 1697.6,239.06 1698.2,237.93 1698.8,237.08 1699.4,236.21 1700,234.24 1700.6,232.27 1701.2,232.05 1701.8,231.94 1702.4,232.17 1703,232.47 1703.6,231.81 1704.2,230.85 1704.8,230.81 1705.4,231.22 1706,231.86 1706.6,232.68 1707.2,233.17 1707.8,233.33 1708.4,234.02 1709,235.51 1709.6,236.88 1710.2,238.03 1710.8,238.97 1711.4,239.19 1712,239.42 1713.2,239.49 1713.8,239.39 1714.4,239.21 1715,239.21 1715.6,239.46 1716.2,239.67 1717.4,239.58 1718,239.45 1718.6,239.3 1719.2,239.49 1719.8,239.93 1720.4,240.15 1721,239.83 1721.6,239.51 1724,239.48 1724.6,239.62 1725.2,239.92 1725.8,240.19 1726.4,240.33 1727,240.47 1728.8,240.5 1729.4,240.37 1730,240.25 1730.6,240.19 1731.8,240.15 1732.4,240.09 1733,240.03 1733.6,241.34 1734.2,243.38 1734.8,244.25 1736,244.2 1737.2,244.14 1738.4,244.09 1739.6,244.03 1740.8,243.98 1742,243.92 1743.2,243.87 1744.4,243.81 1745.6,243.76 1746.8,243.7 1748,243.64 1749.2,243.59 1750.4,243.53 1751.6,243.48 1753.4,243.41 1755.2,243.34 1757,243.27 1758.8,243.2 1760.6,243.12 1762.4,243.05 1763.6,242.99 1764.8,242.91 1766,242.82 1767.2,242.74 1768.4,242.65 1769.6,242.56 1770.2,242.52 1770.8,239.07 1771.4,235.66 1772,235.02 1772.6,234.38 1773.2,233.74 1773.8,234.12 1774.4,234.69 1775,235.62 1775.6,236.65 1776.2,237.7 1776.8,238.75 1777.4,239.9 1778,241.14 1778.6,242.71 1779.2,244.63 1779.8,245.77 1787,245.77 1787.6,231.97 1788.2,231.14 1788.8,230.3 1789.4,229.21 1790,228 1790.6,226.79 1791.2,227.15 1791.8,227.63 1792.4,225.85 1793,223.76 1793.6,223.61 1794.2,223.88 1794.8,223.48 1795.4,222.86 1796,222.2 1796.6,221.49 1797.2,220.71 1797.8,219.53 1798.4,218.34 1799,218.67 1799.6,219.31 1800.2,218.36 1800.8,215.91 1801.4,214.93 1802,215.65 1802.6,216.25 1803.2,216.69 1803.8,215.87 1804.4,212.72 1805,209.64 1805.6,208.53 1806.2,207.41 1806.8,207.07 1807.4,207.02 1808,206.37 1808.6,204.88 1809.2,203.65 1809.8,204.86 1810.4,206.07 1811,207.33 1811.6,208.61 1812.2,209 1812.8,208.41 1813.4,208.19 1814,209.79 1814.6,211.39 1815.2,211.87 1815.8,212.16 1816.4,211.92 1817,211.55 1817.6,213.35 1818.2,215.9 1818.8,217.29 1819.4,218.15 1820,219.09 1820.6,220.08 1821.2,220.34 1821.8,220.05 1822.4,220.99 1823,223.07 1823.6,224.81 1824.2,225.21 1824.8,225.62 1825.4,223.64 1826,221.38 1826.6,219.74 1827.2,218.54 1827.8,217.31 1828.4,215.98 1829,214.68 1829.6,213.46 1830.2,212.28 1830.8,211.32 1831.4,210.44 1832,210.34 1832.6,210.24 1833.2,209.48 1833.8,208.56 1834.4,208.06 1835.6,208.04 1836.2,208.42 1836.8,208.8 1837.4,209.71 1838,210.71 1838.6,212 1839.2,213.54 1839.8,215.26 1840.4,217.63 1841,220 1841.6,222.04 1842.2,224.05 1842.8,223.24 1843.4,220.6 1844,217.96 1844.6,215.33 1845.2,212.71 1845.8,210.08 1846.4,208.46 1847,208.1 1847.6,207.51 1848.2,205.32 1848.8,203.13 1849.4,204.51 1850,206.69 1850.6,208.87 1851.2,212.14 1851.8,215.81 1852.4,219.48 1853,220.45 1853.6,219.98 1854.2,218.69 1854.8,215.83 1855.4,213.02 1856,212.51 1856.6,212 1857.2,211.48 1857.8,203.64 1858.4,195.35 1859,187.06 1859.6,182.12 1860.2,177.72 1860.8,172.69 1861.4,167.13 1862,162.74 1862.6,162.11 1863.2,161.47 1863.8,160.63 1864.4,158.62 1865,156.61 1865.6,152.2 1866.2,147.32 1866.8,141.77 1867.4,135.61 1868,129.45 1868.6,124.22 1869.2,120.14 1869.8,105.39 1870.4,95.26 1878.8,95.26 1879.4,118.06 1880,158.4 1880.6,193.16 1881.2,220.04 1881.8,246.6" fill="#add8e6"/>
<polygon points="171.2,246.6 171.8,246.35 172.4,246.2 173,246.05 173.6,245.9 174.2,245.75 174.8,245.6 175.4,245.45 176,245.3 176.6,245.15 177.2,245 177.8,244.85 178.4,244.7 179,244.55 179.6,244.4 180.2,244.27 182.6,244.34 185,244.4 187.4,244.47 189.8,244.53 192.2,244.6 194.6,244.66 196.4,244.71 197,245.49 197.6,246.6" fill="#a9cfea"/>
<polygon points="207.8,246.6 208.4,246.07 209,245.64 209.6,245.16 210.2,244.66 210.8,244.16 211.4,243.78 212,243.58 212.6,243.38 213.2,243.18 213.8,242.98 214.4,242.78 215,242.58 215.6,242.41 216.2,242.26 216.8,242.11 217.4,241.96 218,241.81 218.6,241.66 219.2,241.51 219.8,241.36 220.4,241.21 221,241.06 221.6,240.91 222.2,240.7 222.8,240.43 223.4,240.34 224,240.57 224.6,240.81 225.2,240.95 225.8,241.08 226.4,241.21 227,241.34 227.6,241.47 228.2,241.6 228.8,241.73 229.4,241.98 230,242.28 230.6,245.94 231.2,246.6" fill="#a9cfea"/>
<polygon points="233.6,246.6 234.2,243.53 234.8,241.2 235.4,239.64 236.6,239.7 237.2,240.06 237.8,240.47 238.4,240.7 239,240.77 239.6,240.82 240.8,240.76 242.6,240.75 243.2,240.81 243.8,240.87 244.4,240.93 245,240.99 245.6,240.98 246.2,240.92 246.8,240.9 247.4,241.05 248,241.2 248.6,241.35 249.2,241.5 249.8,241.65 250.4,241.58 251,240.81 251.6,240.13 254,240.05 254.6,239.85 255.2,239.65 256.4,239.58 257,239.34 257.6,239.05 258.2,239.14 258.8,239.39 259.4,239.39 260,239.23 260.6,239.27 261.2,239.47 261.8,239.68 262.4,240.07 263,240.48 263.6,240.9 264.2,241.33 264.8,241.76 265.4,242.2 266,242.63 266.6,243.03 267.2,243.11 267.8,243.2 268.4,243.29 269,243.37 269.6,243.46 270.2,243.55 270.8,243.64 271.4,243.72 272,243.81 272.6,243.9 273.2,243.99 273.8,244.07 274.4,244.16 275,244.25 275.6,244.33 276.2,244.42 276.8,244.51 277.4,244.6 278,244.68 278.6,244.77 279.2,245.32 279.8,246.1 280.4,246.6" fill="#a9cfea"/>
<polygon points="302,246.6 302.6,246.36 303.2,246.25 303.8,246.14 304.4,246.02 305,245.91 305.6,245.8 306.2,245.69 306.8,245.58 307.4,245.47 315.2,245.52 318.8,245.58 322.4,245.63 326,245.68 329.6,245.73 331.4,245.76 332,246.11 332.6,245.52 333.2,244.62 333.8,234.63 334.4,222.65 335,217.7 335.6,215.63 336.2,213.55 336.8,211.21 337.4,207.65 338,203.94 338.6,198.84 339.2,193.8 339.8,194.7 340.4,195.59 341,195.46 341.6,195.23 342.2,199.29 342.8,204.21 343.4,203.76 344,201.49 344.6,200.63 345.2,200.51 345.8,201.18 346.4,202.45 347,203.71 347.6,204.3 348.2,202.62 348.8,200.73 349.4,197.54 350,194.43 350.6,192.69 351.2,190.95 351.8,189.91 352.4,193.45 353,196.97 353.6,200.14 354.2,203.31 354.8,207.29 355.4,211.3 356,217.85 356.6,224.79 357.2,231.72 357.8,236.67 358.4,239.84 359,243.01 359.6,244.7 360.2,245.42 360.8,246.6" fill="#a9cfea"/>
<polygon points="365.6,246.6 366.2,246.42 367.4,246.34 368.6,246.27 369.8,246.19 371,246.12 372.2,246.04 373.4,245.97 374.6,245.89 375.8,245.82 422.6,245.77 423.2,245.96 423.8,246.16 424.4,246.36 425,246.6" fill="#a9cfea"/>
<polygon points="752,246.6 752.6,243.01 753.2,239.23 753.8,239.54 754.4,239.64 755,239.23 755.6,238.82 756.2,239.24 756.8,239.67 757.4,239.86 758,239.94 758.6,239.88 759.2,239.55 759.8,239.24 760.4,239.68 761,240.13 761.6,240.2 762.2,240.13 762.8,240.14 763.4,240.26 764,240.36 764.6,240.1 765.2,239.84 765.8,241.82 766.4,246.6" fill="#a9cfea"/>
<polygon points="819.8,246.6 820.4,231.54 821,228.88 821.6,228.58 822.2,227.87 822.8,227.16 823.4,227.02 824,226.66 824.6,226.38 825.2,226.16 825.8,226.94 826.4,228.62 827,230.11 827.6,231.37 828.2,232.22 828.8,241.26 829.4,246.6" fill="#a9cfea"/>
<polygon points="833,246.6 833.6,245.6 834.2,244.62 834.8,243.62 835.4,242.57 836,241.52 836.6,240.48 837.2,239.46 837.8,238.44 838.4,237.95 839,237.74 839.6,237.53 840.2,237.32 840.8,237.11 841.4,236.81 842,236.39 842.6,235.98 843.2,235.83 843.8,235.72 844.4,235.59 845,235.34 845.6,235.09 846.2,234.75 846.8,234.37 847.4,233.98 848.6,233.93 849.2,233.84 849.8,233.63 850.4,233.42 851,233.17 851.6,232.9 852.2,232.63 852.8,232.79 853.4,232.96 854,233.05 854.6,232.83 855.2,232.62 855.8,232.48 857,232.44 857.6,232.5 858.2,232.6 858.8,232.7 859.4,232.64 860,232.54 860.6,232.43 861.2,232.17 861.8,231.91 862.4,231.73 863.6,231.8 865.4,231.76 866,231.61 866.6,231.4 867.2,231.19 867.8,230.99 868.4,230.79 869,230.6 869.6,230.49 870.2,230.38 870.8,230.31 872,230.3 872.6,230.05 873.2,229.65 873.8,229.24 875.6,229.3 876.2,229.48 876.8,229.66 877.4,229.82 878,229.9 878.6,229.98 879.2,230.18 879.8,230.51 880.4,230.85 881,231.18 881.6,231.5 882.2,231.82 882.8,232.02 883.4,232.21 884,232.39 884.6,232.48 885.2,232.58 885.8,233.14 886.4,234.71 887,236.28 887.6,237.63 888.2,238.88 888.8,240.13 889.4,241.41 890,242.68 890.6,243.98 891.2,245.3 891.8,246.6" fill="#a9cfea"/>
<polygon points="903.8,246.6 904.4,236.25 905,235.97 905.6,235.7 906.2,235.71 906.8,235.87 907.4,235.86 908,235.47 908.6,235.08 909.2,235.42 909.8,235.79 910.4,236.22 911,236.69 911.6,237.03 912.8,237 913.4,237.08 914,237.16 914.6,237.28 915.2,237.43 915.8,237.43 916.4,236.91 917,236.39 917.6,236.24 918.2,236.14 919.4,236.15 920,236.24 920.6,236.51 921.2,236.77 921.8,236.9 922.4,237.01 923,237.17 923.6,237.36 924.2,237.45 924.8,237.29 925.4,237.13 926,237.07 926.6,237.02 927.2,237.06 927.8,237.14 928.4,237.25 929,237.39 929.6,237.62 930.2,238.07 930.8,238.47 931.4,238.54 932,239.02 932.6,239.5 933.2,240.31 933.8,240.03 934.4,239.72 935,239.82 935.6,240.13 936.2,240.27 936.8,240.1 937.4,239.92 938,239.71 938.6,239.51 939.2,239.35 939.8,239.23 940.4,239.16 941.6,239.22 942.2,239.39 942.8,239.55 944,239.59 944.6,239.44 945.2,239.09 945.8,238.77 946.4,238.69 947,238.61 947.6,238.77 948.2,238.97 948.8,239.05 949.4,239.04 950,238.98 950.6,238.82 951.2,238.65 951.8,238.51 952.4,238.36 953,238.44 953.6,238.62 954.2,238.53 954.8,238.12 955.4,237.8 956,237.93 956.6,238.05 957.2,238.11 957.8,238.16 958.4,238.34 959,238.6 959.6,238.7 960.2,238.45 960.8,239.65 961.4,246.6" fill="#a9cfea"/>
<polygon points="1005.8,246.6 1006.4,245.47 1007,244.2 1007.6,242.86 1008.2,241.51 1008.8,240.12 1009.4,238.71 1010,237.37 1010.6,236.08 1011.2,234.21 1011.8,231.85 1012.4,229.88 1013,229.04 1013.6,228.46 1014.2,228.34 1014.8,227.71 1015.4,225.77 1016,223.47 1016.6,219.62 1017.2,215.66 1017.8,210.82 1018.4,206.03 1019,204.56 1019.6,203.1 1020.2,195.87 1020.8,188.2 1021.4,185.28 1022,183.25 1022.6,181.57 1023.2,180 1023.8,180.8 1024.4,182.8 1025,185.28 1025.6,188.1 1026.2,190.2 1026.8,191.56 1027.4,192.92 1028,194.24 1028.6,195.4 1029.2,196.55 1029.8,196.91 1030.4,194.56 1031,192.21 1031.6,189.66 1032.2,186.68 1032.8,183.69 1033.4,180.71 1034,177.01 1034.6,173.28 1035.2,169.55 1035.8,166.63 1036.4,164.18 1037,161.74 1037.6,165.16 1038.2,171.09 1038.8,177.01 1039.4,179.45 1040,180.9 1040.6,182.34 1041.2,180.69 1041.8,175.04 1042.4,169.39 1043,164.24 1043.6,163.72 1044.2,163.19 1044.8,162.24 1045.4,159.32 1046,156.56 1046.6,155.61 1047.2,154.65 1047.8,153.42 1048.4,152.18 1049,150.1 1049.6,147.94 1050.2,150.25 1050.8,153.54 1051.4,159.02 1052,165.3 1052.6,169.39 1053.2,172.29 1053.8,176.77 1054.4,182.49 1055,185.8 1055.6,186.43 1056.2,189.98 1056.8,198.25 1057.4,205.84 1058,211.81 1058.6,220.88 1059.2,234.67 1059.8,246.6" fill="#a9cfea"/>
<polygon points="1085,246.6 1085.6,233.22 1086.2,227.01 1086.8,219.71 1087.4,208.78 1088,196.03 1088.6,181.59 1089.2,170.21 1089.8,162.81 1090.4,155.42 1091,151.3 1091.6,150.34 1092.2,149.37 1092.8,148.87 1093.4,150.62 1094,152.42 1094.6,154.63 1095.2,156.84 1095.8,183.82 1096.4,218.52 1097,246.6" fill="#a9cfea"/>
<polygon points="1103.6,246.6 1104.2,245.36 1104.8,242.43 1105.4,241.78 1106,241.24 1106.6,241.42 1107.2,241.6 1107.8,241.78 1108.4,241.96 1109,242.14 1109.6,242.32 1110.2,242.5 1110.8,242.33 1111.4,242.14 1112,242.03 1112.6,242.42 1113.2,246.43 1113.8,246.6" fill="#a9cfea"/>
<polygon points="1146.8,246.6 1147.4,245.13 1148,237.98 1148.6,237.65 1149.2,237.5 1149.8,237.55 1150.4,237.6 1151.6,237.59 1152.2,237.66 1152.8,237.89 1153.4,238.1 1154,237.54 1154.6,236.97 1155.2,237.07 1155.8,237.43 1156.4,237.62 1157,237.51 1157.6,237.42 1158.8,237.42 1159.4,237.36 1160,237.26 1160.6,237.18 1161.2,237.11 1161.8,237.02 1162.4,236.87 1163,236.72 1164.2,236.78 1164.8,236.85 1165.4,236.93 1166,237.1 1166.6,237.44 1167.2,237.75 1167.8,237.32 1168.4,236.88 1169,236.88 1169.6,237.02 1170.2,237.29 1170.8,237.71 1171.4,237.99 1172,237.7 1172.6,237.42 1173.2,237.34 1173.8,237.27 1175,237.3 1175.6,242.02 1176.2,245.65 1176.8,244.96 1177.4,244.24 1178,243.49 1178.6,242.74 1179.2,242.02 1179.8,241.31 1180.4,240.61 1181,240.53 1181.6,240.46 1182.2,240.36 1182.8,240.24 1183.4,240.13 1184,240.01 1184.6,239.89 1185.2,239.81 1186.4,239.85 1187,239.75 1187.6,239.6 1188.2,239.48 1190.6,239.41 1191.2,239.37 1191.8,239.19 1192.4,239.01 1193,238.89 1193.6,238.81 1194.2,238.74 1196,238.76 1196.6,238.64 1197.2,238.53 1197.8,238.36 1198.4,238.18 1199,238.02 1199.6,237.93 1200.2,237.85 1200.8,237.74 1201.4,237.62 1202,237.51 1203.2,237.58 1203.8,237.55 1204.4,237.41 1205,237.27 1205.6,237.03 1206.2,236.76 1206.8,236.55 1208,236.62 1208.6,236.59 1209.2,236.51 1209.8,236.43 1210.4,236.24 1211,236.04 1211.6,235.85 1212.2,235.65 1212.8,235.45 1213.4,235.35 1214,235.28 1214.6,235.19 1215.2,234.96 1215.8,234.72 1216.4,234.53 1217,234.38 1217.6,234.22 1218.2,234.35 1218.8,234.49 1219.4,234.53 1220,234.32 1220.6,234.11 1221.2,233.94 1221.8,233.78 1222.4,233.64 1223.6,233.65 1224.2,233.52 1224.8,233.25 1225.4,232.98 1226,232.8 1226.6,232.63 1227.2,232.46 1227.8,232.15 1228.4,231.84 1229,231.47 1229.6,230.96 1230.2,230.46 1230.8,230.06 1231.4,229.77 1232,229.48 1232.6,229.19 1233.2,228.9 1233.8,228.61 1234.4,228.29 1235,227.97 1235.6,227.67 1236.2,227.51 1236.8,227.35 1237.4,227.08 1238,226.64 1238.6,226.2 1239.2,225.88 1239.8,225.65 1240.4,225.42 1241,225.52 1241.6,225.7 1242.2,225.88 1242.8,226.52 1243.4,227.15 1244,227.65 1244.6,227.71 1245.2,227.78 1245.8,227.98 1246.4,228.32 1247,228.67 1247.6,229.01 1248.2,229.36 1248.8,229.7 1249.4,230.11 1250,230.52 1250.6,230.89 1251.2,230.95 1251.8,231.01 1252.4,231.25 1253,231.66 1253.6,232.07 1254.2,232.2 1254.8,232.3 1255.4,232.44 1256,232.69 1256.6,232.94 1257.2,233.18 1257.8,233.42 1258.4,233.65 1259,233.74 1259.6,233.84 1260.2,234.05 1260.8,234.42 1261.4,234.78 1262,234.98 1262.6,235.16 1263.2,235.22 1263.8,234.93 1264.4,234.63 1265,234.51 1266.2,234.46 1266.8,234.04 1267.4,233.62 1268,233.31 1268.6,233.15 1269.2,233 1269.8,232.85 1270.4,232.69 1271,232.51 1271.6,232.21 1272.2,231.92 1272.8,231.61 1273.4,231.29 1274,230.97 1274.6,230.79 1275.2,230.62 1275.8,230.38 1276.4,230.04 1277,229.69 1277.6,229.41 1278.2,229.15 1278.8,228.83 1279.4,228.18 1280,227.53 1280.6,227.14 1281.2,226.98 1281.8,226.82 1282.4,226.34 1283,225.83 1283.6,225.37 1284.2,225.02 1284.8,224.67 1285.4,224.49 1286,224.38 1286.6,224.24 1287.2,223.74 1287.8,223.24 1288.4,223.06 1289,223.21 1289.6,223.35 1290.2,223.57 1290.8,223.79 1291.4,224.01 1292,224.21 1292.6,224.41 1293.2,224.39 1293.8,224.27 1294.4,224.16 1295,224.36 1295.6,224.57 1296.2,224.72 1296.8,224.78 1297.4,224.85 1298,224.96 1298.6,225.08 1299.2,225.23 1299.8,225.43 1300.4,225.64 1301,224.93 1301.6,223.62 1302.2,222.31 1302.8,221.12 1303.4,219.97 1304,218.81 1304.6,217.58 1305.2,216.34 1305.8,215.2 1306.4,214.34 1307,213.49 1307.6,212.39 1308.2,211.03 1308.8,209.66 1309.4,208.53 1310,207.5 1310.6,206.47 1311.2,203.27 1311.8,199.82 1312.4,196.26 1313,191.86 1313.6,187.45 1314.2,183.45 1314.8,180.26 1315.4,177.07 1316,174.21 1316.6,171.61 1317.2,169.02 1317.8,166.14 1318.4,162.84 1319,159.55 1319.6,157.77 1320.2,159.81 1320.8,161.86 1321.4,164.08 1322,167.33 1322.6,170.58 1323.2,173.97 1323.8,183.66 1324.4,193.34 1325,202.08 1325.6,210.76 1326.2,216.07 1326.8,220.78 1327.4,225.42 1328,229.95 1328.6,234.47 1329.2,239.07 1329.8,243.69 1330.4,246.6" fill="#a9cfea"/>
<polygon points="1422.8,246.6 1423.4,242.53 1424,225.83 1424.6,225.08 1425.2,225.94 1425.8,227.59 1426.4,229.12 1427,230.03 1427.6,230.94 1428.2,231.85 1428.8,232.76 1429.4,232.43 1430,232.08 1430.6,233.1 1431.2,234.27 1431.8,234.79 1432.4,235.15 1433,235.38 1433.6,236.36 1434.2,235.56 1434.8,235.33 1435.4,235.14 1436,235.31 1436.6,235.48 1437.2,235.71 1437.8,235.96 1438.4,236.26 1439,236.62 1439.6,236.88 1440.2,236.32 1440.8,235.77 1441.4,235.93 1442,236.28 1442.6,236.6 1443.2,236.89 1443.8,237.16 1444.4,237.33 1445,237.51 1445.6,237.05 1446.2,236.48 1446.8,236.22 1447.4,236.16 1448,236.34 1448.6,236.94 1449.2,237.5 1450.4,237.55 1451,237.24 1451.6,236.87 1452.2,236.53 1452.8,236.21 1453.4,236.23 1454,236.88 1454.6,237.43 1455.2,237.03 1455.8,236.62 1456.4,236.89 1457,237.28 1457.6,237.3 1458.2,237.09 1458.8,237.01 1459.4,237.16 1460,237.24 1460.6,236.75 1461.2,236.25 1461.8,236.58 1462.4,237.05 1463,237.1 1463.6,236.88 1464.2,236.81 1464.8,237.12 1465.4,237.43 1466,243.91 1466.6,246.6" fill="#a9cfea"/>
<polygon points="1484.6,246.6 1485.2,241.76 1485.8,241.52 1486.4,241.28 1487,241.04 1487.6,240.8 1488.2,240.49 1488.8,240.07 1489.4,239.66 1490,239.47 1490.6,239.28 1492.4,239.22 1493,239.09 1493.6,238.89 1494.2,238.12 1494.8,237.35 1495.4,237.26 1496,239 1496.6,242.68 1497.2,246.6" fill="#a9cfea"/>
<polygon points="1524.2,246.6 1524.8,245.85 1525.4,235.29 1526,232.9 1526.6,230.74 1527.2,229.29 1527.8,227.82 1528.4,225.98 1529,224.15 1529.6,222.88 1530.2,221.64 1530.8,222.07 1531.4,222.75 1532,223.29 1532.6,223.05 1533.2,222.81 1533.8,223.13 1534.4,224.17 1535,225.21 1535.6,225.83 1536.2,226.43 1536.8,225.74 1537.4,223.36 1538,222.99 1538.6,224.99 1539.2,232.73 1539.8,246.6" fill="#a9cfea"/>
<polygon points="1556,246.6 1556.6,225.06 1557.2,223.51 1557.8,222.66 1558.4,216.55 1559,210.1 1559.6,206.11 1560.2,202.54 1560.8,200.3 1561.4,198.47 1562,194.42 1562.6,189.31 1563.2,190.23 1563.8,195.36 1564.4,199.33 1565,202.15 1565.6,203.26 1566.2,201.94 1566.8,201.97 1567.4,204.8 1568,208.22 1568.6,213.51 1569.2,218.46 1569.8,221.45 1570.4,224.26 1571,224.41 1571.6,224.56 1572.2,222.19 1572.8,219.75 1573.4,218.98 1574,218.43 1574.6,215.48 1575.2,211.94 1575.8,212.04 1576.4,213.62 1577,215.25 1577.6,216.91 1578.2,213.01 1578.8,204.28 1579.4,196.47 1580,189.8 1580.6,184.87 1581.2,183.04 1581.8,180.59 1582.4,176.51 1583,172.17 1583.6,166.65 1584.2,161.38 1584.8,158.52 1585.4,155.66 1586,152.97 1586.6,150.29 1587.2,153.33 1587.8,156.87 1588.4,154.49 1589,150.93 1589.6,150.21 1590.2,150.47 1590.8,145.44 1591.4,137.66 1592,138.65 1592.6,146.27 1593.2,148.78 1593.8,145.82 1594.4,146.48 1595,153.37 1595.6,161.78 1596.2,166.45 1596.8,170.46 1597.4,172.19 1598,174.53 1598.6,180.95 1599.2,187.33 1599.8,193.12 1600.4,198.9 1601,200.98 1601.6,202.9 1602.2,204.61 1602.8,205.36 1603.4,206.11 1604,206.99 1604.6,208.1 1605.2,209.21 1605.8,209.19 1606.4,208.44 1607,207.71 1607.6,207.19 1608.2,206.66 1608.8,205.81 1609.4,204.74 1610,203.62 1610.6,202.02 1611.2,200.42 1611.8,199.09 1612.4,197.95 1613,197.03 1613.6,198.71 1614.2,200.38 1614.8,201.33 1615.4,201.74 1616,202.18 1616.6,203.11 1617.2,204.04 1617.8,204.56 1618.4,204.75 1619,204.98 1619.6,205.77 1620.2,206.56 1620.8,206.71 1621.4,206.35 1622,205.99 1622.6,205.03 1623.2,203.89 1623.8,202.75 1624.4,201.5 1625,200.24 1625.6,199.3 1626.2,199.57 1626.8,199.85 1627.4,199.63 1628,198.73 1628.6,197.82 1629.2,197.22 1629.8,196.81 1630.4,196.4 1631,198.18 1631.6,200.35 1632.2,202.52 1632.8,205.54 1633.4,208.91 1634,212.28 1634.6,218.1 1635.2,225.65 1635.8,233.58 1636.4,241.88 1637,246.6" fill="#a9cfea"/>
<polygon points="1733,246.6 1733.6,246.21 1734.2,245.61 1734.8,244.97 1735.4,244.29 1736,244.2 1737.2,244.14 1738.4,244.09 1739.6,244.03 1740.8,243.98 1742,243.92 1743.2,243.87 1744.4,243.81 1745.6,243.76 1746.8,243.7 1748,243.64 1749.2,243.59 1750.4,243.53 1751.6,243.48 1753.4,243.41 1755.2,243.34 1757,243.27 1758.8,243.2 1760.6,243.12 1761.8,243.08 1762.4,243.29 1763,245.69 1763.6,246.6" fill="#a9cfea"/>
<polygon points="1787,246.6 1787.6,245.42 1788.2,244.07 1788.8,242.73 1789.4,241.39 1790,240.05 1790.6,238.71 1791.2,237.87 1791.8,237.34 1792.4,236.81 1793,236.33 1793.6,235.85 1794.2,235.37 1794.8,234.98 1795.4,234.58 1796,234.2 1796.6,233.86 1797.2,233.52 1797.8,233.03 1798.4,232.38 1799,231.73 1799.6,231.18 1800.2,230.68 1800.8,230.17 1801.4,229.98 1802,229.82 1802.6,229.63 1803.2,229.22 1803.8,228.81 1804.4,228.42 1805,228.06 1805.6,227.7 1806.2,227.39 1806.8,227.1 1807.4,226.82 1808,226.48 1808.6,226.12 1809.2,225.77 1809.8,225.53 1810.4,225.29 1811,225.21 1811.6,225.71 1812.2,226.22 1812.8,226.7 1813.4,227.15 1814,227.61 1814.6,228.17 1815.2,228.79 1815.8,229.42 1816.4,229.75 1817,230.03 1817.6,230.33 1818.2,230.85 1818.8,231.37 1819.4,231.85 1820,232.2 1820.6,232.56 1821.2,232.83 1821.8,233.04 1822.4,233.24 1823,233.34 1823.6,233.4 1824.2,233.46 1824.8,233.66 1825.4,233.88 1826,234.08 1826.6,234.17 1827.2,234.26 1827.8,234.44 1828.4,234.78 1829,235.11 1829.6,235.31 1830.2,235.41 1830.8,235.51 1831.4,235.4 1832,235.24 1832.6,235.08 1835.6,235.16 1836.2,235.05 1836.8,234.76 1837.4,234.48 1838,234.46 1838.6,234.57 1839.2,234.68 1839.8,234.53 1840.4,234.36 1841,234.19 1841.6,234.13 1842.2,234.07 1844,234.08 1844.6,233.98 1845.2,233.78 1845.8,233.59 1846.4,233.51 1847.6,233.42 1849.4,233.36 1850.6,233.38 1851.2,233.13 1851.8,232.49 1852.4,231.85 1853,231.43 1853.6,231.14 1854.2,230.86 1854.8,230.4 1855.4,229.92 1856,229.43 1856.6,228.96 1857.2,228.48 1857.8,227.99 1858.4,227.44 1859,226.9 1859.6,226.39 1860.2,225.91 1860.8,225.43 1861.4,224.46 1862,223.29 1862.6,222.15 1863.2,221.17 1863.8,220.19 1864.4,219.15 1865,218.09 1865.6,217.13 1866.2,216.6 1866.8,216.08 1867.4,215.11 1868,213.93 1868.6,246.6" fill="#a9cfea"/>
<polygon points="1869.2,246.6 1869.8,242.83 1870.4,239.71 1871,236.59 1871.6,233.47 1872.2,230.1 1872.8,226.1 1873.4,222.1 1874,218.1 1874.6,214.1 1875.2,210.6 1875.8,207.37 1876.4,204.14 1877,200.91 1877.6,200.89 1878.2,202.61 1878.8,207.9 1879.4,216.9 1880,225.9 1880.6,233.95 1881.2,240.64 1881.8,246.6" fill="#a9cfea"/>
<polygon points="464.21,246.77 464.71,215.46 465.96,214.21 467.47,215.46 467.97,246.77" fill="#93a3e8"/>
<line x1="1880" y1="245.9" x2="2047" y2="245.9" stroke="#8fa0ee" stroke-width="0.8"/>
<rect x="140" y="81.3" width="1907" height="14.5" fill="#fff"/>
<polygon points="339.19,81.4 339.19,81.42 342.95,77.67 345.46,73.91 347.46,71.4 349.22,74.16 350.47,76.41 354.23,81.42 354.23,81.4" fill="#0505fa"/>
<polygon points="1018.39,81.4 1018.39,81.42 1022.15,77.67 1024.65,71.4 1027.16,67.14 1029.66,72.65 1031.42,75.16 1034.67,72.65 1037.18,75.66 1041.44,72.65 1043.94,77.67 1048.45,75.16 1052.21,78.17 1054.72,79.67 1057.22,81.42 1057.22,81.4" fill="#0505fa"/>
<polygon points="1086.43,81.4 1086.43,81.42 1087.69,65.14 1088.69,53.86 1089.69,45.1 1090.69,42.59 1091.44,32.57 1092.7,26.31 1094.2,31.32 1095.2,37.58 1095.7,60.13 1095.95,81.42 1095.95,81.4" fill="#0505fa"/>
<polygon points="1584.14,81.4 1584.14,81.42 1584.89,76.41 1586.65,73.41 1588.4,75.16 1590.4,76.41 1592.91,78.92 1593.41,81.42 1593.41,81.4" fill="#0505fa"/>
<polygon points="653.36,81.4 653.36,81.42 654.62,78.17 656.87,77.16 659.13,78.17 660.63,81.42 660.63,81.4" fill="#add8e6"/>
<polygon points="1307.65,81.4 1307.65,81.42 1310.66,77.67 1312.66,78.67 1314.42,75.91 1316.42,78.17 1318.18,77.67 1321.18,81.42 1321.18,81.4" fill="#add8e6"/>
<polygon points="1867.04,81.4 1867.04,81.95 1870.18,79.17 1874.81,76.77 1877.95,78.62 1880.91,81.95 1880.91,81.4" fill="#add8e6"/>
</g>
<line x1="146" y1="247.6" x2="2033" y2="247.6" stroke="#000" stroke-width="4.2"/>
<path d="M146.7,20.3 H134.6 V78.9 M146.7,88.8 H134.6 V247" fill="none" stroke="#000" stroke-width="4.2"/>
<text x="158.5" y="29.8" font-size="25.5">80</text>
<text x="158.5" y="100.6" font-size="25.5">10</text>
<text x="126.6" y="253.8" font-size="25.5">0</text>
<text text-anchor="middle" transform="translate(75.8,135.4) rotate(-90)" font-size="24.6">Forward read depth</text>
<text text-anchor="middle" transform="translate(105.3,135.4) rotate(-90)" font-size="24.6">(×1,000,000)</text>
<text x="-0.9" y="23" font-weight="bold" font-size="42">a</text>
<rect x="1912.2" y="27.2" width="22.2" height="33.5" fill="#0000ff"/>
<rect x="1912.2" y="79" width="22.2" height="33" fill="#add8e6"/>
<text x="1946.6" y="51.6" font-size="28.4">meRIP</text>
<text x="1947.4" y="106.3" font-size="28.4">Input</text>
<g id="fwtracks">
<rect x="174.25" y="258" width="22.5" height="23.4" fill="#0000ff"/>
<rect x="211.25" y="258" width="19.25" height="23.4" fill="#0000ff"/>
<rect x="241.25" y="258" width="45.5" height="23.4" fill="#0000ff"/>
<rect x="337.5" y="258" width="21.25" height="23.4" fill="#0000ff"/>
<rect x="574.5" y="258" width="9.75" height="23.4" fill="#0000ff"/>
<rect x="754.5" y="258" width="18.25" height="23.4" fill="#0000ff"/>
<rect x="822.75" y="258" width="10.5" height="23.4" fill="#0000ff"/>
<rect x="904.75" y="258" width="78.25" height="23.4" fill="#0000ff"/>
<rect x="1015.5" y="258" width="56.25" height="23.4" fill="#0000ff"/>
<rect x="1149" y="258" width="34.75" height="23.4" fill="#0000ff"/>
<rect x="1220" y="258" width="9.75" height="23.4" fill="#0000ff"/>
<rect x="1239.25" y="258" width="10.75" height="23.4" fill="#0000ff"/>
<rect x="1310.25" y="258" width="15.75" height="23.4" fill="#0000ff"/>
<rect x="1422.75" y="258" width="49.5" height="23.4" fill="#0000ff"/>
<rect x="1490" y="258" width="20.25" height="23.4" fill="#0000ff"/>
<rect x="1518" y="258" width="29.5" height="23.4" fill="#0000ff"/>
<rect x="1555.75" y="258" width="77.75" height="23.4" fill="#0000ff"/>
<rect x="1700.25" y="258" width="9.25" height="23.4" fill="#0000ff"/>
<rect x="1805.25" y="258" width="8.75" height="23.4" fill="#0000ff"/>
<rect x="222.5" y="287" width="6.25" height="26" fill="#551a8b" rx="1.5"/>
<rect x="262" y="287" width="5" height="26" fill="#551a8b" rx="1.5"/>
<rect x="347" y="287" width="5" height="26" fill="#551a8b" rx="1.5"/>
<rect x="358" y="287" width="5" height="26" fill="#551a8b" rx="1.5"/>
<rect x="917.5" y="287" width="5.25" height="26" fill="#551a8b" rx="1.5"/>
<rect x="945.5" y="287" width="5.25" height="26" fill="#551a8b" rx="1.5"/>
<rect x="960" y="287" width="5" height="26" fill="#551a8b" rx="1.5"/>
<rect x="1027" y="287" width="5" height="26" fill="#551a8b" rx="1.5"/>
<rect x="1039" y="287" width="5.25" height="26" fill="#551a8b" rx="1.5"/>
<rect x="1052.5" y="287" width="6.25" height="26" fill="#551a8b" rx="1.5"/>
<rect x="1061.75" y="287" width="5" height="26" fill="#551a8b" rx="1.5"/>
<rect x="1075.75" y="287" width="4.75" height="26" fill="#551a8b" rx="1.5"/>
<rect x="1092" y="287" width="5" height="26" fill="#551a8b" rx="1.5"/>
<rect x="1147.25" y="287" width="14.5" height="26" fill="#551a8b" rx="1.5"/>
<rect x="1225.25" y="287" width="5" height="26" fill="#551a8b" rx="1.5"/>
<rect x="1313.5" y="287" width="5" height="26" fill="#551a8b" rx="1.5"/>
<rect x="1428.25" y="287" width="5.25" height="26" fill="#551a8b" rx="1.5"/>
<rect x="1444.75" y="287" width="7.75" height="26" fill="#551a8b" rx="1.5"/>
<rect x="1492" y="287" width="5.25" height="26" fill="#551a8b" rx="1.5"/>
<rect x="1517" y="287" width="5" height="26" fill="#551a8b" rx="1.5"/>
<rect x="1533.25" y="287" width="7.25" height="26" fill="#551a8b" rx="1.5"/>
<rect x="1576.5" y="287" width="5.5" height="26" fill="#551a8b" rx="1.5"/>
<rect x="1584.5" y="287" width="5.25" height="26" fill="#551a8b" rx="1.5"/>
<rect x="1605.5" y="287" width="5.25" height="26" fill="#551a8b" rx="1.5"/>
<rect x="222.5" y="317" width="6.25" height="26.2" fill="#a020f0" rx="1.5"/>
<rect x="247" y="317" width="4.25" height="26.2" fill="#a020f0" rx="1.5"/>
<rect x="255" y="317" width="4" height="26.2" fill="#a020f0" rx="1.5"/>
<rect x="262.5" y="317" width="4.5" height="26.2" fill="#a020f0" rx="1.5"/>
<rect x="347" y="317" width="5" height="26.2" fill="#a020f0" rx="1.5"/>
<rect x="358" y="317" width="5" height="26.2" fill="#a020f0" rx="1.5"/>
<rect x="738" y="317" width="5.25" height="26.2" fill="#a020f0" rx="1.5"/>
<rect x="750" y="317" width="4.75" height="26.2" fill="#a020f0" rx="1.5"/>
<rect x="759" y="317" width="5.75" height="26.2" fill="#a020f0" rx="1.5"/>
<rect x="813.5" y="317" width="4.75" height="26.2" fill="#a020f0" rx="1.5"/>
<rect x="821.5" y="317" width="4.75" height="26.2" fill="#a020f0" rx="1.5"/>
<rect x="908.75" y="317" width="6.25" height="26.2" fill="#a020f0" rx="1.5"/>
<rect x="917.5" y="317" width="20" height="26.2" fill="#a020f0" rx="1.5"/>
<rect x="943.75" y="317" width="7" height="26.2" fill="#a020f0" rx="1.5"/>
<rect x="960" y="317" width="5" height="26.2" fill="#a020f0" rx="1.5"/>
<rect x="1017" y="317" width="5" height="26.2" fill="#a020f0" rx="1.5"/>
<rect x="1027" y="317" width="5.75" height="26.2" fill="#a020f0" rx="1.5"/>
<rect x="1039" y="317" width="5.25" height="26.2" fill="#a020f0" rx="1.5"/>
<rect x="1045.75" y="317" width="5" height="26.2" fill="#a020f0" rx="1.5"/>
<rect x="1052.5" y="317" width="6.25" height="26.2" fill="#a020f0" rx="1.5"/>
<rect x="1061.75" y="317" width="5" height="26.2" fill="#a020f0" rx="1.5"/>
<rect x="1075.75" y="317" width="4.75" height="26.2" fill="#a020f0" rx="1.5"/>
<rect x="1092" y="317" width="5" height="26.2" fill="#a020f0" rx="1.5"/>
<rect x="1105.25" y="317" width="4.75" height="26.2" fill="#a020f0" rx="1.5"/>
<rect x="1147.25" y="317" width="14.5" height="26.2" fill="#a020f0" rx="1.5"/>
<rect x="1167.5" y="317" width="5" height="26.2" fill="#a020f0" rx="1.5"/>
<rect x="1208.25" y="317" width="5" height="26.2" fill="#a020f0" rx="1.5"/>
<rect x="1225.25" y="317" width="5" height="26.2" fill="#a020f0" rx="1.5"/>
<rect x="1313.5" y="317" width="5" height="26.2" fill="#a020f0" rx="1.5"/>
<rect x="1424.5" y="317" width="10.25" height="26.2" fill="#a020f0" rx="1.5"/>
<rect x="1447.25" y="317" width="5.25" height="26.2" fill="#a020f0" rx="1.5"/>
<rect x="1456" y="317" width="5" height="26.2" fill="#a020f0" rx="1.5"/>
<rect x="1490" y="317" width="7.25" height="26.2" fill="#a020f0" rx="1.5"/>
<rect x="1517" y="317" width="5" height="26.2" fill="#a020f0" rx="1.5"/>
<rect x="1525.75" y="317" width="4.75" height="26.2" fill="#a020f0" rx="1.5"/>
<rect x="1533.25" y="317" width="7.25" height="26.2" fill="#a020f0" rx="1.5"/>
<rect x="1546" y="317" width="4.5" height="26.2" fill="#a020f0" rx="1.5"/>
<rect x="1552.25" y="317" width="4.75" height="26.2" fill="#a020f0" rx="1.5"/>
<rect x="1561.75" y="317" width="12.75" height="26.2" fill="#a020f0" rx="1.5"/>
<rect x="1576.5" y="317" width="5.5" height="26.2" fill="#a020f0" rx="1.5"/>
<rect x="1584.5" y="317" width="6.25" height="26.2" fill="#a020f0" rx="1.5"/>
<rect x="1605.5" y="317" width="16.5" height="26.2" fill="#a020f0" rx="1.5"/>
<rect x="1649.25" y="317" width="5" height="26.2" fill="#a020f0" rx="1.5"/>
<rect x="1706.25" y="317" width="5.25" height="26.2" fill="#a020f0" rx="1.5"/>
<rect x="1717.5" y="317" width="5.25" height="26.2" fill="#a020f0" rx="1.5"/>
</g>
<text x="80.5" y="278.8" text-anchor="middle" font-size="24.7">meRIP</text>
<text x="80.5" y="308.8" text-anchor="middle" font-size="24.7">Exome</text>
<text x="80.5" y="339.3" text-anchor="middle" font-size="24.7">Isoform</text>
<text text-anchor="middle" transform="translate(20,318) rotate(-90)" font-size="24.7">dRNA</text>
<line x1="28.8" y1="290" x2="28.8" y2="346" stroke="#000" stroke-width="3.5"/>
<g id="late">
<path d="M468,358.5 H1785 M476.9,355.2 L485.9,358.5 L476.9,361.8 M504.47,355.2 L513.47,358.5 L504.47,361.8 M532.04,355.2 L541.04,358.5 L532.04,361.8 M559.61,355.2 L568.61,358.5 L559.61,361.8 M587.18,355.2 L596.18,358.5 L587.18,361.8 M614.75,355.2 L623.75,358.5 L614.75,361.8 M642.32,355.2 L651.32,358.5 L642.32,361.8 M669.89,355.2 L678.89,358.5 L669.89,361.8 M697.46,355.2 L706.46,358.5 L697.46,361.8 M725.03,355.2 L734.03,358.5 L725.03,361.8 M752.6,355.2 L761.6,358.5 L752.6,361.8 M780.17,355.2 L789.17,358.5 L780.17,361.8 M807.74,355.2 L816.74,358.5 L807.74,361.8 M835.31,355.2 L844.31,358.5 L835.31,361.8 M862.88,355.2 L871.88,358.5 L862.88,361.8 M890.45,355.2 L899.45,358.5 L890.45,361.8 M918.02,355.2 L927.02,358.5 L918.02,361.8 M945.59,355.2 L954.59,358.5 L945.59,361.8 M973.16,355.2 L982.16,358.5 L973.16,361.8 M1000.73,355.2 L1009.73,358.5 L1000.73,361.8 M1028.3,355.2 L1037.3,358.5 L1028.3,361.8 M1055.87,355.2 L1064.87,358.5 L1055.87,361.8 M1083.44,355.2 L1092.44,358.5 L1083.44,361.8 M1111.01,355.2 L1120.01,358.5 L1111.01,361.8 M1138.58,355.2 L1147.58,358.5 L1138.58,361.8 M1166.15,355.2 L1175.15,358.5 L1166.15,361.8 M1193.72,355.2 L1202.72,358.5 L1193.72,361.8 M1221.29,355.2 L1230.29,358.5 L1221.29,361.8 M1248.86,355.2 L1257.86,358.5 L1248.86,361.8 M1276.43,355.2 L1285.43,358.5 L1276.43,361.8 M1304,355.2 L1313,358.5 L1304,361.8 M1331.57,355.2 L1340.57,358.5 L1331.57,361.8 M1359.14,355.2 L1368.14,358.5 L1359.14,361.8 M1386.71,355.2 L1395.71,358.5 L1386.71,361.8 M1414.28,355.2 L1423.28,358.5 L1414.28,361.8 M1441.85,355.2 L1450.85,358.5 L1441.85,361.8 M1469.42,355.2 L1478.42,358.5 L1469.42,361.8 M1496.99,355.2 L1505.99,358.5 L1496.99,361.8 M1524.56,355.2 L1533.56,358.5 L1524.56,361.8 M1552.13,355.2 L1561.13,358.5 L1552.13,361.8 M1579.7,355.2 L1588.7,358.5 L1579.7,361.8 M1607.27,355.2 L1616.27,358.5 L1607.27,361.8 M1634.84,355.2 L1643.84,358.5 L1634.84,361.8 M1662.41,355.2 L1671.41,358.5 L1662.41,361.8 M1689.98,355.2 L1698.98,358.5 L1689.98,361.8 M1717.55,355.2 L1726.55,358.5 L1717.55,361.8 M1745.12,355.2 L1754.12,358.5 L1745.12,361.8 M1772.69,355.2 L1781.69,358.5 L1772.69,361.8" fill="none" stroke="#9c9c9c" stroke-width="1.3" stroke-linejoin="miter"/>
<rect x="466" y="355.2" width="4" height="6.6" fill="#000"/>
<rect x="522.3" y="355.2" width="5.1" height="6.6" fill="#000"/>
<rect x="656" y="355.2" width="6" height="6.6" fill="#000"/>
<path d="M1785,352.7 H1875.13 Q1880,352.7 1880,357.57 V359.43 Q1880,364.3 1875.13,364.3 H1785 Z" fill="#000"/>
<path d="M468,379 H1785 M476.9,375.7 L485.9,379 L476.9,382.3 M504.47,375.7 L513.47,379 L504.47,382.3 M532.04,375.7 L541.04,379 L532.04,382.3 M559.61,375.7 L568.61,379 L559.61,382.3 M587.18,375.7 L596.18,379 L587.18,382.3 M614.75,375.7 L623.75,379 L614.75,382.3 M642.32,375.7 L651.32,379 L642.32,382.3 M669.89,375.7 L678.89,379 L669.89,382.3 M697.46,375.7 L706.46,379 L697.46,382.3 M725.03,375.7 L734.03,379 L725.03,382.3 M752.6,375.7 L761.6,379 L752.6,382.3 M780.17,375.7 L789.17,379 L780.17,382.3 M807.74,375.7 L816.74,379 L807.74,382.3 M835.31,375.7 L844.31,379 L835.31,382.3 M862.88,375.7 L871.88,379 L862.88,382.3 M890.45,375.7 L899.45,379 L890.45,382.3 M918.02,375.7 L927.02,379 L918.02,382.3 M945.59,375.7 L954.59,379 L945.59,382.3 M973.16,375.7 L982.16,379 L973.16,382.3 M1000.73,375.7 L1009.73,379 L1000.73,382.3 M1028.3,375.7 L1037.3,379 L1028.3,382.3 M1055.87,375.7 L1064.87,379 L1055.87,382.3 M1083.44,375.7 L1092.44,379 L1083.44,382.3 M1111.01,375.7 L1120.01,379 L1111.01,382.3 M1138.58,375.7 L1147.58,379 L1138.58,382.3 M1166.15,375.7 L1175.15,379 L1166.15,382.3 M1193.72,375.7 L1202.72,379 L1193.72,382.3 M1221.29,375.7 L1230.29,379 L1221.29,382.3 M1248.86,375.7 L1257.86,379 L1248.86,382.3 M1276.43,375.7 L1285.43,379 L1276.43,382.3 M1304,375.7 L1313,379 L1304,382.3 M1331.57,375.7 L1340.57,379 L1331.57,382.3 M1359.14,375.7 L1368.14,379 L1359.14,382.3 M1386.71,375.7 L1395.71,379 L1386.71,382.3 M1414.28,375.7 L1423.28,379 L1414.28,382.3 M1441.85,375.7 L1450.85,379 L1441.85,382.3 M1469.42,375.7 L1478.42,379 L1469.42,382.3 M1496.99,375.7 L1505.99,379 L1496.99,382.3 M1524.56,375.7 L1533.56,379 L1524.56,382.3 M1552.13,375.7 L1561.13,379 L1552.13,382.3 M1579.7,375.7 L1588.7,379 L1579.7,382.3 M1607.27,375.7 L1616.27,379 L1607.27,382.3 M1662.41,375.7 L1671.41,379 L1662.41,382.3 M1689.98,375.7 L1698.98,379 L1689.98,382.3 M1717.55,375.7 L1726.55,379 L1717.55,382.3 M1745.12,375.7 L1754.12,379 L1745.12,382.3 M1772.69,375.7 L1781.69,379 L1772.69,382.3" fill="none" stroke="#9c9c9c" stroke-width="1.3" stroke-linejoin="miter"/>
<rect x="466" y="375.7" width="4" height="6.6" fill="#000"/>
<rect x="522.3" y="375.7" width="5.1" height="6.6" fill="#000"/>
<rect x="656" y="375.7" width="6" height="6.6" fill="#000"/>
<rect x="1640.75" y="375.75" width="11" height="6.5" fill="#000"/>
<path d="M1785,373.2 H1875.13 Q1880,373.2 1880,378.07 V379.93 Q1880,384.8 1875.13,384.8 H1785 Z" fill="#000"/>
<path d="M468,399.4 H1785 M476.9,396.1 L485.9,399.4 L476.9,402.7 M504.47,396.1 L513.47,399.4 L504.47,402.7 M532.04,396.1 L541.04,399.4 L532.04,402.7 M559.61,396.1 L568.61,399.4 L559.61,402.7 M587.18,396.1 L596.18,399.4 L587.18,402.7 M614.75,396.1 L623.75,399.4 L614.75,402.7 M642.32,396.1 L651.32,399.4 L642.32,402.7 M669.89,396.1 L678.89,399.4 L669.89,402.7 M697.46,396.1 L706.46,399.4 L697.46,402.7 M725.03,396.1 L734.03,399.4 L725.03,402.7 M752.6,396.1 L761.6,399.4 L752.6,402.7 M780.17,396.1 L789.17,399.4 L780.17,402.7 M807.74,396.1 L816.74,399.4 L807.74,402.7 M835.31,396.1 L844.31,399.4 L835.31,402.7 M862.88,396.1 L871.88,399.4 L862.88,402.7 M890.45,396.1 L899.45,399.4 L890.45,402.7 M918.02,396.1 L927.02,399.4 L918.02,402.7 M945.59,396.1 L954.59,399.4 L945.59,402.7 M973.16,396.1 L982.16,399.4 L973.16,402.7 M1000.73,396.1 L1009.73,399.4 L1000.73,402.7 M1028.3,396.1 L1037.3,399.4 L1028.3,402.7 M1055.87,396.1 L1064.87,399.4 L1055.87,402.7 M1083.44,396.1 L1092.44,399.4 L1083.44,402.7 M1111.01,396.1 L1120.01,399.4 L1111.01,402.7 M1138.58,396.1 L1147.58,399.4 L1138.58,402.7 M1166.15,396.1 L1175.15,399.4 L1166.15,402.7 M1193.72,396.1 L1202.72,399.4 L1193.72,402.7 M1221.29,396.1 L1230.29,399.4 L1221.29,402.7 M1248.86,396.1 L1257.86,399.4 L1248.86,402.7 M1276.43,396.1 L1285.43,399.4 L1276.43,402.7 M1304,396.1 L1313,399.4 L1304,402.7 M1331.57,396.1 L1340.57,399.4 L1331.57,402.7 M1359.14,396.1 L1368.14,399.4 L1359.14,402.7 M1386.71,396.1 L1395.71,399.4 L1386.71,402.7 M1414.28,396.1 L1423.28,399.4 L1414.28,402.7 M1441.85,396.1 L1450.85,399.4 L1441.85,402.7 M1469.42,396.1 L1478.42,399.4 L1469.42,402.7 M1496.99,396.1 L1505.99,399.4 L1496.99,402.7 M1524.56,396.1 L1533.56,399.4 L1524.56,402.7 M1552.13,396.1 L1561.13,399.4 L1552.13,402.7 M1579.7,396.1 L1588.7,399.4 L1579.7,402.7 M1662.41,396.1 L1671.41,399.4 L1662.41,402.7 M1689.98,396.1 L1698.98,399.4 L1689.98,402.7 M1717.55,396.1 L1726.55,399.4 L1717.55,402.7 M1745.12,396.1 L1754.12,399.4 L1745.12,402.7 M1772.69,396.1 L1781.69,399.4 L1772.69,402.7" fill="none" stroke="#9c9c9c" stroke-width="1.3" stroke-linejoin="miter"/>
<rect x="466" y="396.1" width="4" height="6.6" fill="#000"/>
<rect x="522.3" y="396.1" width="5.1" height="6.6" fill="#000"/>
<rect x="656" y="396.1" width="6" height="6.6" fill="#000"/>
<rect x="1616.25" y="396.15" width="6.25" height="6.5" fill="#000"/>
<rect x="1640.75" y="396.15" width="11" height="6.5" fill="#000"/>
<path d="M1785,393.6 H1875.13 Q1880,393.6 1880,398.47 V400.33 Q1880,405.2 1875.13,405.2 H1785 Z" fill="#000"/>
<path d="M468,419.8 H1571.75 M476.9,416.5 L485.9,419.8 L476.9,423.1 M504.47,416.5 L513.47,419.8 L504.47,423.1 M532.04,416.5 L541.04,419.8 L532.04,423.1 M559.61,416.5 L568.61,419.8 L559.61,423.1 M587.18,416.5 L596.18,419.8 L587.18,423.1 M614.75,416.5 L623.75,419.8 L614.75,423.1 M642.32,416.5 L651.32,419.8 L642.32,423.1 M669.89,416.5 L678.89,419.8 L669.89,423.1 M697.46,416.5 L706.46,419.8 L697.46,423.1 M725.03,416.5 L734.03,419.8 L725.03,423.1 M752.6,416.5 L761.6,419.8 L752.6,423.1 M780.17,416.5 L789.17,419.8 L780.17,423.1 M807.74,416.5 L816.74,419.8 L807.74,423.1 M835.31,416.5 L844.31,419.8 L835.31,423.1 M862.88,416.5 L871.88,419.8 L862.88,423.1 M890.45,416.5 L899.45,419.8 L890.45,423.1 M918.02,416.5 L927.02,419.8 L918.02,423.1 M945.59,416.5 L954.59,419.8 L945.59,423.1 M973.16,416.5 L982.16,419.8 L973.16,423.1 M1000.73,416.5 L1009.73,419.8 L1000.73,423.1 M1028.3,416.5 L1037.3,419.8 L1028.3,423.1 M1055.87,416.5 L1064.87,419.8 L1055.87,423.1 M1083.44,416.5 L1092.44,419.8 L1083.44,423.1 M1111.01,416.5 L1120.01,419.8 L1111.01,423.1 M1138.58,416.5 L1147.58,419.8 L1138.58,423.1 M1166.15,416.5 L1175.15,419.8 L1166.15,423.1 M1193.72,416.5 L1202.72,419.8 L1193.72,423.1 M1221.29,416.5 L1230.29,419.8 L1221.29,423.1 M1248.86,416.5 L1257.86,419.8 L1248.86,423.1 M1276.43,416.5 L1285.43,419.8 L1276.43,423.1 M1304,416.5 L1313,419.8 L1304,423.1 M1331.57,416.5 L1340.57,419.8 L1331.57,423.1 M1359.14,416.5 L1368.14,419.8 L1359.14,423.1 M1386.71,416.5 L1395.71,419.8 L1386.71,423.1 M1414.28,416.5 L1423.28,419.8 L1414.28,423.1 M1441.85,416.5 L1450.85,419.8 L1441.85,423.1 M1469.42,416.5 L1478.42,419.8 L1469.42,423.1 M1496.99,416.5 L1505.99,419.8 L1496.99,423.1 M1524.56,416.5 L1533.56,419.8 L1524.56,423.1 M1552.13,416.5 L1561.13,419.8 L1552.13,423.1" fill="none" stroke="#9c9c9c" stroke-width="1.3" stroke-linejoin="miter"/>
<rect x="466" y="416.5" width="4" height="6.6" fill="#000"/>
<rect x="522.3" y="416.5" width="5.1" height="6.6" fill="#000"/>
<rect x="656" y="416.5" width="6" height="6.6" fill="#000"/>
<rect x="1571.75" y="416.55" width="7" height="6.5" fill="#000"/>
<rect x="1578.75" y="414" width="39.25" height="11.6" fill="#000"/>
<rect x="1618" y="416.55" width="17.75" height="6.5" fill="#000"/>
<rect x="1578.35" y="412.5" width="2.3" height="14.6" fill="#a020f0"/>
<rect x="1587" y="412.5" width="3.5" height="14.6" fill="#a020f0"/>
<rect x="1605.85" y="412.5" width="2.3" height="14.6" fill="#a020f0"/>
<path d="M468,440.2 H1557 M476.9,436.9 L485.9,440.2 L476.9,443.5 M504.47,436.9 L513.47,440.2 L504.47,443.5 M532.04,436.9 L541.04,440.2 L532.04,443.5 M559.61,436.9 L568.61,440.2 L559.61,443.5 M587.18,436.9 L596.18,440.2 L587.18,443.5 M614.75,436.9 L623.75,440.2 L614.75,443.5 M642.32,436.9 L651.32,440.2 L642.32,443.5 M669.89,436.9 L678.89,440.2 L669.89,443.5 M697.46,436.9 L706.46,440.2 L697.46,443.5 M725.03,436.9 L734.03,440.2 L725.03,443.5 M752.6,436.9 L761.6,440.2 L752.6,443.5 M780.17,436.9 L789.17,440.2 L780.17,443.5 M807.74,436.9 L816.74,440.2 L807.74,443.5 M835.31,436.9 L844.31,440.2 L835.31,443.5 M862.88,436.9 L871.88,440.2 L862.88,443.5 M890.45,436.9 L899.45,440.2 L890.45,443.5 M918.02,436.9 L927.02,440.2 L918.02,443.5 M945.59,436.9 L954.59,440.2 L945.59,443.5 M973.16,436.9 L982.16,440.2 L973.16,443.5 M1000.73,436.9 L1009.73,440.2 L1000.73,443.5 M1028.3,436.9 L1037.3,440.2 L1028.3,443.5 M1055.87,436.9 L1064.87,440.2 L1055.87,443.5 M1083.44,436.9 L1092.44,440.2 L1083.44,443.5 M1111.01,436.9 L1120.01,440.2 L1111.01,443.5 M1138.58,436.9 L1147.58,440.2 L1138.58,443.5 M1166.15,436.9 L1175.15,440.2 L1166.15,443.5 M1193.72,436.9 L1202.72,440.2 L1193.72,443.5 M1221.29,436.9 L1230.29,440.2 L1221.29,443.5 M1248.86,436.9 L1257.86,440.2 L1248.86,443.5 M1276.43,436.9 L1285.43,440.2 L1276.43,443.5 M1304,436.9 L1313,440.2 L1304,443.5 M1331.57,436.9 L1340.57,440.2 L1331.57,443.5 M1359.14,436.9 L1368.14,440.2 L1359.14,443.5 M1386.71,436.9 L1395.71,440.2 L1386.71,443.5 M1414.28,436.9 L1423.28,440.2 L1414.28,443.5 M1441.85,436.9 L1450.85,440.2 L1441.85,443.5 M1469.42,436.9 L1478.42,440.2 L1469.42,443.5 M1496.99,436.9 L1505.99,440.2 L1496.99,443.5 M1524.56,436.9 L1533.56,440.2 L1524.56,443.5" fill="none" stroke="#9c9c9c" stroke-width="1.3" stroke-linejoin="miter"/>
<rect x="466" y="436.9" width="4" height="6.6" fill="#000"/>
<rect x="522.3" y="436.9" width="5.1" height="6.6" fill="#000"/>
<rect x="656" y="436.9" width="6" height="6.6" fill="#000"/>
<rect x="1557" y="436.95" width="21.75" height="6.5" fill="#000"/>
<rect x="1578.75" y="434.4" width="39.25" height="11.6" fill="#000"/>
<rect x="1618" y="436.95" width="17.75" height="6.5" fill="#000"/>
<rect x="1561.35" y="432.9" width="2.3" height="14.6" fill="#a020f0"/>
<rect x="1566.85" y="432.9" width="2.3" height="14.6" fill="#a020f0"/>
<rect x="1572.1" y="432.9" width="2.3" height="14.6" fill="#a020f0"/>
<rect x="1578.35" y="432.9" width="2.3" height="14.6" fill="#a020f0"/>
<rect x="1587" y="432.9" width="3.5" height="14.6" fill="#a020f0"/>
<rect x="1605.85" y="432.9" width="2.3" height="14.6" fill="#a020f0"/>
<path d="M468,460.6 H1527.5 M476.9,457.3 L485.9,460.6 L476.9,463.9 M504.47,457.3 L513.47,460.6 L504.47,463.9 M532.04,457.3 L541.04,460.6 L532.04,463.9 M559.61,457.3 L568.61,460.6 L559.61,463.9 M587.18,457.3 L596.18,460.6 L587.18,463.9 M614.75,457.3 L623.75,460.6 L614.75,463.9 M642.32,457.3 L651.32,460.6 L642.32,463.9 M669.89,457.3 L678.89,460.6 L669.89,463.9 M697.46,457.3 L706.46,460.6 L697.46,463.9 M725.03,457.3 L734.03,460.6 L725.03,463.9 M752.6,457.3 L761.6,460.6 L752.6,463.9 M780.17,457.3 L789.17,460.6 L780.17,463.9 M807.74,457.3 L816.74,460.6 L807.74,463.9 M835.31,457.3 L844.31,460.6 L835.31,463.9 M862.88,457.3 L871.88,460.6 L862.88,463.9 M890.45,457.3 L899.45,460.6 L890.45,463.9 M918.02,457.3 L927.02,460.6 L918.02,463.9 M945.59,457.3 L954.59,460.6 L945.59,463.9 M973.16,457.3 L982.16,460.6 L973.16,463.9 M1000.73,457.3 L1009.73,460.6 L1000.73,463.9 M1028.3,457.3 L1037.3,460.6 L1028.3,463.9 M1055.87,457.3 L1064.87,460.6 L1055.87,463.9 M1083.44,457.3 L1092.44,460.6 L1083.44,463.9 M1111.01,457.3 L1120.01,460.6 L1111.01,463.9 M1138.58,457.3 L1147.58,460.6 L1138.58,463.9 M1166.15,457.3 L1175.15,460.6 L1166.15,463.9 M1193.72,457.3 L1202.72,460.6 L1193.72,463.9 M1221.29,457.3 L1230.29,460.6 L1221.29,463.9 M1248.86,457.3 L1257.86,460.6 L1248.86,463.9 M1276.43,457.3 L1285.43,460.6 L1276.43,463.9 M1304,457.3 L1313,460.6 L1304,463.9 M1331.57,457.3 L1340.57,460.6 L1331.57,463.9 M1359.14,457.3 L1368.14,460.6 L1359.14,463.9 M1386.71,457.3 L1395.71,460.6 L1386.71,463.9 M1414.28,457.3 L1423.28,460.6 L1414.28,463.9 M1441.85,457.3 L1450.85,460.6 L1441.85,463.9 M1469.42,457.3 L1478.42,460.6 L1469.42,463.9 M1496.99,457.3 L1505.99,460.6 L1496.99,463.9" fill="none" stroke="#9c9c9c" stroke-width="1.3" stroke-linejoin="miter"/>
<line x1="1546.75" y1="460.6" x2="1557" y2="460.6" stroke="#9c9c9c" stroke-width="1.3"/>
<rect x="466" y="457.3" width="4" height="6.6" fill="#000"/>
<rect x="522.3" y="457.3" width="5.1" height="6.6" fill="#000"/>
<rect x="656" y="457.3" width="6" height="6.6" fill="#000"/>
<rect x="1527.5" y="454.8" width="19.25" height="11.6" fill="#000" rx="4.87"/>
<rect x="1557" y="457.35" width="78.75" height="6.5" fill="#000"/>
<rect x="1561.35" y="453.3" width="2.3" height="14.6" fill="#a020f0"/>
<rect x="1566.85" y="453.3" width="2.3" height="14.6" fill="#a020f0"/>
<rect x="1569.35" y="453.3" width="2.3" height="14.6" fill="#a020f0"/>
<rect x="1572.1" y="453.3" width="2.3" height="14.6" fill="#a020f0"/>
<rect x="1578.35" y="453.3" width="2.3" height="14.6" fill="#a020f0"/>
<rect x="1586.35" y="453.3" width="2.3" height="14.6" fill="#a020f0"/>
<rect x="1619.35" y="453.3" width="2.3" height="14.6" fill="#a020f0"/>
<path d="M468,481 H1527.5 M476.9,477.7 L485.9,481 L476.9,484.3 M504.47,477.7 L513.47,481 L504.47,484.3 M532.04,477.7 L541.04,481 L532.04,484.3 M559.61,477.7 L568.61,481 L559.61,484.3 M587.18,477.7 L596.18,481 L587.18,484.3 M614.75,477.7 L623.75,481 L614.75,484.3 M642.32,477.7 L651.32,481 L642.32,484.3 M669.89,477.7 L678.89,481 L669.89,484.3 M697.46,477.7 L706.46,481 L697.46,484.3 M725.03,477.7 L734.03,481 L725.03,484.3 M752.6,477.7 L761.6,481 L752.6,484.3 M780.17,477.7 L789.17,481 L780.17,484.3 M807.74,477.7 L816.74,481 L807.74,484.3 M835.31,477.7 L844.31,481 L835.31,484.3 M862.88,477.7 L871.88,481 L862.88,484.3 M890.45,477.7 L899.45,481 L890.45,484.3 M918.02,477.7 L927.02,481 L918.02,484.3 M945.59,477.7 L954.59,481 L945.59,484.3 M973.16,477.7 L982.16,481 L973.16,484.3 M1000.73,477.7 L1009.73,481 L1000.73,484.3 M1028.3,477.7 L1037.3,481 L1028.3,484.3 M1055.87,477.7 L1064.87,481 L1055.87,484.3 M1083.44,477.7 L1092.44,481 L1083.44,484.3 M1111.01,477.7 L1120.01,481 L1111.01,484.3 M1138.58,477.7 L1147.58,481 L1138.58,484.3 M1166.15,477.7 L1175.15,481 L1166.15,484.3 M1193.72,477.7 L1202.72,481 L1193.72,484.3 M1221.29,477.7 L1230.29,481 L1221.29,484.3 M1248.86,477.7 L1257.86,481 L1248.86,484.3 M1276.43,477.7 L1285.43,481 L1276.43,484.3 M1304,477.7 L1313,481 L1304,484.3 M1331.57,477.7 L1340.57,481 L1331.57,484.3 M1359.14,477.7 L1368.14,481 L1359.14,484.3 M1386.71,477.7 L1395.71,481 L1386.71,484.3 M1414.28,477.7 L1423.28,481 L1414.28,484.3 M1441.85,477.7 L1450.85,481 L1441.85,484.3 M1469.42,477.7 L1478.42,481 L1469.42,484.3 M1496.99,477.7 L1505.99,481 L1496.99,484.3" fill="none" stroke="#9c9c9c" stroke-width="1.3" stroke-linejoin="miter"/>
<rect x="466" y="477.7" width="4" height="6.6" fill="#000"/>
<rect x="522.3" y="477.7" width="5.1" height="6.6" fill="#000"/>
<rect x="656" y="477.7" width="6" height="6.6" fill="#000"/>
<path d="M1532.37,475.2 H1561.75 V486.8 H1532.37 Q1527.5,486.8 1527.5,481.93 V480.07 Q1527.5,475.2 1532.37,475.2 Z" fill="#000"/>
<rect x="1561.75" y="477.75" width="74" height="6.5" fill="#000"/>
<path d="M468,501.5 H1415 M476.9,498.2 L485.9,501.5 L476.9,504.8 M504.47,498.2 L513.47,501.5 L504.47,504.8 M532.04,498.2 L541.04,501.5 L532.04,504.8 M559.61,498.2 L568.61,501.5 L559.61,504.8 M587.18,498.2 L596.18,501.5 L587.18,504.8 M614.75,498.2 L623.75,501.5 L614.75,504.8 M642.32,498.2 L651.32,501.5 L642.32,504.8 M669.89,498.2 L678.89,501.5 L669.89,504.8 M697.46,498.2 L706.46,501.5 L697.46,504.8 M725.03,498.2 L734.03,501.5 L725.03,504.8 M752.6,498.2 L761.6,501.5 L752.6,504.8 M780.17,498.2 L789.17,501.5 L780.17,504.8 M807.74,498.2 L816.74,501.5 L807.74,504.8 M835.31,498.2 L844.31,501.5 L835.31,504.8 M862.88,498.2 L871.88,501.5 L862.88,504.8 M890.45,498.2 L899.45,501.5 L890.45,504.8 M918.02,498.2 L927.02,501.5 L918.02,504.8 M945.59,498.2 L954.59,501.5 L945.59,504.8 M973.16,498.2 L982.16,501.5 L973.16,504.8 M1000.73,498.2 L1009.73,501.5 L1000.73,504.8 M1028.3,498.2 L1037.3,501.5 L1028.3,504.8 M1055.87,498.2 L1064.87,501.5 L1055.87,504.8 M1083.44,498.2 L1092.44,501.5 L1083.44,504.8 M1111.01,498.2 L1120.01,501.5 L1111.01,504.8 M1138.58,498.2 L1147.58,501.5 L1138.58,504.8 M1166.15,498.2 L1175.15,501.5 L1166.15,504.8 M1193.72,498.2 L1202.72,501.5 L1193.72,504.8 M1221.29,498.2 L1230.29,501.5 L1221.29,504.8 M1248.86,498.2 L1257.86,501.5 L1248.86,504.8 M1276.43,498.2 L1285.43,501.5 L1276.43,504.8 M1304,498.2 L1313,501.5 L1304,504.8 M1331.57,498.2 L1340.57,501.5 L1331.57,504.8 M1359.14,498.2 L1368.14,501.5 L1359.14,504.8 M1386.71,498.2 L1395.71,501.5 L1386.71,504.8" fill="none" stroke="#9c9c9c" stroke-width="1.3" stroke-linejoin="miter"/>
<line x1="1547" y1="501.5" x2="1557" y2="501.5" stroke="#9c9c9c" stroke-width="1.3"/>
<rect x="466" y="498.2" width="4" height="6.6" fill="#000"/>
<rect x="522.3" y="498.2" width="5.1" height="6.6" fill="#000"/>
<rect x="656" y="498.2" width="6" height="6.6" fill="#000"/>
<rect x="1415" y="495.7" width="132" height="11.6" fill="#000" rx="4.87"/>
<rect x="1557" y="498.25" width="78.75" height="6.5" fill="#000"/>
<rect x="1425.1" y="494.2" width="2.3" height="14.6" fill="#a020f0"/>
<rect x="1429.6" y="494.2" width="2.3" height="14.6" fill="#a020f0"/>
<rect x="1448.85" y="494.2" width="2.3" height="14.6" fill="#a020f0"/>
<rect x="1457.1" y="494.2" width="2.3" height="14.6" fill="#a020f0"/>
<rect x="1494.6" y="494.2" width="2.3" height="14.6" fill="#a020f0"/>
<rect x="1518.1" y="494.2" width="2.3" height="14.6" fill="#a020f0"/>
<rect x="1527.6" y="494.2" width="2.3" height="14.6" fill="#a020f0"/>
<rect x="1533.85" y="494.2" width="2.3" height="14.6" fill="#a020f0"/>
<rect x="1537.1" y="494.2" width="2.3" height="14.6" fill="#a020f0"/>
<rect x="1563.85" y="494.2" width="2.3" height="14.6" fill="#a020f0"/>
<rect x="1566.85" y="494.2" width="2.3" height="14.6" fill="#a020f0"/>
<rect x="1572.1" y="494.2" width="2.3" height="14.6" fill="#a020f0"/>
<rect x="1578.35" y="494.2" width="2.3" height="14.6" fill="#a020f0"/>
<rect x="1586.35" y="494.2" width="2.3" height="14.6" fill="#a020f0"/>
<rect x="1605.85" y="494.2" width="2.3" height="14.6" fill="#a020f0"/>
<rect x="1615.1" y="494.2" width="2.3" height="14.6" fill="#a020f0"/>
<rect x="1619.35" y="494.2" width="2.3" height="14.6" fill="#a020f0"/>
<path d="M468,522 H1415 M476.9,518.7 L485.9,522 L476.9,525.3 M504.47,518.7 L513.47,522 L504.47,525.3 M532.04,518.7 L541.04,522 L532.04,525.3 M559.61,518.7 L568.61,522 L559.61,525.3 M587.18,518.7 L596.18,522 L587.18,525.3 M614.75,518.7 L623.75,522 L614.75,525.3 M642.32,518.7 L651.32,522 L642.32,525.3 M669.89,518.7 L678.89,522 L669.89,525.3 M697.46,518.7 L706.46,522 L697.46,525.3 M725.03,518.7 L734.03,522 L725.03,525.3 M752.6,518.7 L761.6,522 L752.6,525.3 M780.17,518.7 L789.17,522 L780.17,525.3 M807.74,518.7 L816.74,522 L807.74,525.3 M835.31,518.7 L844.31,522 L835.31,525.3 M862.88,518.7 L871.88,522 L862.88,525.3 M890.45,518.7 L899.45,522 L890.45,525.3 M918.02,518.7 L927.02,522 L918.02,525.3 M945.59,518.7 L954.59,522 L945.59,525.3 M973.16,518.7 L982.16,522 L973.16,525.3 M1000.73,518.7 L1009.73,522 L1000.73,525.3 M1028.3,518.7 L1037.3,522 L1028.3,525.3 M1055.87,518.7 L1064.87,522 L1055.87,525.3 M1083.44,518.7 L1092.44,522 L1083.44,525.3 M1111.01,518.7 L1120.01,522 L1111.01,525.3 M1138.58,518.7 L1147.58,522 L1138.58,525.3 M1166.15,518.7 L1175.15,522 L1166.15,525.3 M1193.72,518.7 L1202.72,522 L1193.72,525.3 M1221.29,518.7 L1230.29,522 L1221.29,525.3 M1248.86,518.7 L1257.86,522 L1248.86,525.3 M1276.43,518.7 L1285.43,522 L1276.43,525.3 M1304,518.7 L1313,522 L1304,525.3 M1331.57,518.7 L1340.57,522 L1331.57,525.3 M1359.14,518.7 L1368.14,522 L1359.14,525.3 M1386.71,518.7 L1395.71,522 L1386.71,525.3" fill="none" stroke="#9c9c9c" stroke-width="1.3" stroke-linejoin="miter"/>
<rect x="466" y="518.7" width="4" height="6.6" fill="#000"/>
<rect x="522.3" y="518.7" width="5.1" height="6.6" fill="#000"/>
<rect x="656" y="518.7" width="6" height="6.6" fill="#000"/>
<path d="M1419.87,516.2 H1547 V527.8 H1419.87 Q1415,527.8 1415,522.93 V521.07 Q1415,516.2 1419.87,516.2 Z" fill="#000"/>
<rect x="1547" y="518.75" width="88.75" height="6.5" fill="#000"/>
<rect x="1425.1" y="514.7" width="2.3" height="14.6" fill="#a020f0"/>
<rect x="1428.85" y="514.7" width="2.3" height="14.6" fill="#a020f0"/>
<rect x="1432.1" y="514.7" width="2.3" height="14.6" fill="#a020f0"/>
<rect x="1448.85" y="514.7" width="2.3" height="14.6" fill="#a020f0"/>
<rect x="1457.1" y="514.7" width="2.3" height="14.6" fill="#a020f0"/>
<rect x="1490.1" y="514.7" width="2.3" height="14.6" fill="#a020f0"/>
<rect x="1494.6" y="514.7" width="2.3" height="14.6" fill="#a020f0"/>
<rect x="1518.1" y="514.7" width="2.3" height="14.6" fill="#a020f0"/>
<rect x="1533.85" y="514.7" width="2.3" height="14.6" fill="#a020f0"/>
<rect x="1537.1" y="514.7" width="2.3" height="14.6" fill="#a020f0"/>
<rect x="1546.85" y="514.7" width="2.3" height="14.6" fill="#a020f0"/>
<rect x="1551.85" y="514.7" width="2.3" height="14.6" fill="#a020f0"/>
<rect x="1561.85" y="514.7" width="2.3" height="14.6" fill="#a020f0"/>
<rect x="1578.35" y="514.7" width="2.3" height="14.6" fill="#a020f0"/>
<rect x="1586.35" y="514.7" width="2.3" height="14.6" fill="#a020f0"/>
<rect x="1605.85" y="514.7" width="2.3" height="14.6" fill="#a020f0"/>
<rect x="1610.1" y="514.7" width="2.3" height="14.6" fill="#a020f0"/>
<rect x="1615.1" y="514.7" width="2.3" height="14.6" fill="#a020f0"/>
<rect x="1619.35" y="514.7" width="2.3" height="14.6" fill="#a020f0"/>
<path d="M468,540 H1287.5 M476.9,536.7 L485.9,540 L476.9,543.3 M504.47,536.7 L513.47,540 L504.47,543.3 M532.04,536.7 L541.04,540 L532.04,543.3 M559.61,536.7 L568.61,540 L559.61,543.3 M587.18,536.7 L596.18,540 L587.18,543.3 M614.75,536.7 L623.75,540 L614.75,543.3 M642.32,536.7 L651.32,540 L642.32,543.3 M669.89,536.7 L678.89,540 L669.89,543.3 M697.46,536.7 L706.46,540 L697.46,543.3 M725.03,536.7 L734.03,540 L725.03,543.3 M752.6,536.7 L761.6,540 L752.6,543.3 M780.17,536.7 L789.17,540 L780.17,543.3 M807.74,536.7 L816.74,540 L807.74,543.3 M835.31,536.7 L844.31,540 L835.31,543.3 M862.88,536.7 L871.88,540 L862.88,543.3 M890.45,536.7 L899.45,540 L890.45,543.3 M918.02,536.7 L927.02,540 L918.02,543.3 M945.59,536.7 L954.59,540 L945.59,543.3 M973.16,536.7 L982.16,540 L973.16,543.3 M1000.73,536.7 L1009.73,540 L1000.73,543.3 M1028.3,536.7 L1037.3,540 L1028.3,543.3 M1055.87,536.7 L1064.87,540 L1055.87,543.3 M1083.44,536.7 L1092.44,540 L1083.44,543.3 M1111.01,536.7 L1120.01,540 L1111.01,543.3 M1138.58,536.7 L1147.58,540 L1138.58,543.3 M1166.15,536.7 L1175.15,540 L1166.15,543.3 M1193.72,536.7 L1202.72,540 L1193.72,543.3 M1221.29,536.7 L1230.29,540 L1221.29,543.3 M1248.86,536.7 L1257.86,540 L1248.86,543.3 M1276.43,536.7 L1285.43,540 L1276.43,543.3" fill="none" stroke="#9c9c9c" stroke-width="1.3" stroke-linejoin="miter"/>
<rect x="466" y="536.7" width="4" height="6.6" fill="#000"/>
<rect x="522.3" y="536.7" width="5.1" height="6.6" fill="#000"/>
<rect x="656" y="536.7" width="6" height="6.6" fill="#000"/>
<rect x="1287.5" y="536.75" width="6.75" height="6.5" fill="#000"/>
<path d="M1294.25,534.2 H1325.13 Q1330,534.2 1330,539.07 V540.93 Q1330,545.8 1325.13,545.8 H1294.25 Z" fill="#000"/>
<rect x="1314.6" y="532.7" width="2.3" height="14.6" fill="#a020f0"/>
<path d="M468,558.1 H1139.25 M476.9,554.8 L485.9,558.1 L476.9,561.4 M504.47,554.8 L513.47,558.1 L504.47,561.4 M532.04,554.8 L541.04,558.1 L532.04,561.4 M559.61,554.8 L568.61,558.1 L559.61,561.4 M587.18,554.8 L596.18,558.1 L587.18,561.4 M614.75,554.8 L623.75,558.1 L614.75,561.4 M642.32,554.8 L651.32,558.1 L642.32,561.4 M669.89,554.8 L678.89,558.1 L669.89,561.4 M697.46,554.8 L706.46,558.1 L697.46,561.4 M725.03,554.8 L734.03,558.1 L725.03,561.4 M752.6,554.8 L761.6,558.1 L752.6,561.4 M780.17,554.8 L789.17,558.1 L780.17,561.4 M807.74,554.8 L816.74,558.1 L807.74,561.4 M835.31,554.8 L844.31,558.1 L835.31,561.4 M862.88,554.8 L871.88,558.1 L862.88,561.4 M890.45,554.8 L899.45,558.1 L890.45,561.4 M918.02,554.8 L927.02,558.1 L918.02,561.4 M945.59,554.8 L954.59,558.1 L945.59,561.4 M973.16,554.8 L982.16,558.1 L973.16,561.4 M1000.73,554.8 L1009.73,558.1 L1000.73,561.4 M1028.3,554.8 L1037.3,558.1 L1028.3,561.4 M1055.87,554.8 L1064.87,558.1 L1055.87,561.4 M1083.44,554.8 L1092.44,558.1 L1083.44,561.4 M1111.01,554.8 L1120.01,558.1 L1111.01,561.4" fill="none" stroke="#9c9c9c" stroke-width="1.3" stroke-linejoin="miter"/>
<rect x="466" y="554.8" width="4" height="6.6" fill="#000"/>
<rect x="522.3" y="554.8" width="5.1" height="6.6" fill="#000"/>
<rect x="656" y="554.8" width="6" height="6.6" fill="#000"/>
<path d="M1144.12,552.3 H1293.75 V563.9 H1144.12 Q1139.25,563.9 1139.25,559.03 V557.17 Q1139.25,552.3 1144.12,552.3 Z" fill="#000"/>
<rect x="1293.75" y="554.85" width="36.25" height="6.5" fill="#000"/>
<rect x="1147.1" y="550.8" width="2.3" height="14.6" fill="#a020f0"/>
<rect x="1152.6" y="550.8" width="2.3" height="14.6" fill="#a020f0"/>
<rect x="1157.1" y="550.8" width="2.3" height="14.6" fill="#a020f0"/>
<rect x="1209.6" y="550.8" width="2.3" height="14.6" fill="#a020f0"/>
<rect x="1226.35" y="550.8" width="2.3" height="14.6" fill="#a020f0"/>
<rect x="1314.6" y="550.8" width="2.3" height="14.6" fill="#a020f0"/>
<path d="M468,576.3 H1096.25 M476.9,573 L485.9,576.3 L476.9,579.6 M504.47,573 L513.47,576.3 L504.47,579.6 M532.04,573 L541.04,576.3 L532.04,579.6 M559.61,573 L568.61,576.3 L559.61,579.6 M587.18,573 L596.18,576.3 L587.18,579.6 M614.75,573 L623.75,576.3 L614.75,579.6 M642.32,573 L651.32,576.3 L642.32,579.6 M669.89,573 L678.89,576.3 L669.89,579.6 M697.46,573 L706.46,576.3 L697.46,579.6 M725.03,573 L734.03,576.3 L725.03,579.6 M752.6,573 L761.6,576.3 L752.6,579.6 M780.17,573 L789.17,576.3 L780.17,579.6 M807.74,573 L816.74,576.3 L807.74,579.6 M835.31,573 L844.31,576.3 L835.31,579.6 M862.88,573 L871.88,576.3 L862.88,579.6 M890.45,573 L899.45,576.3 L890.45,579.6 M918.02,573 L927.02,576.3 L918.02,579.6 M945.59,573 L954.59,576.3 L945.59,579.6 M973.16,573 L982.16,576.3 L973.16,579.6 M1000.73,573 L1009.73,576.3 L1000.73,579.6 M1028.3,573 L1037.3,576.3 L1028.3,579.6 M1055.87,573 L1064.87,576.3 L1055.87,579.6 M1083.44,573 L1092.44,576.3 L1083.44,579.6" fill="none" stroke="#9c9c9c" stroke-width="1.3" stroke-linejoin="miter"/>
<rect x="466" y="573" width="4" height="6.6" fill="#000"/>
<rect x="522.3" y="573" width="5.1" height="6.6" fill="#000"/>
<rect x="656" y="573" width="6" height="6.6" fill="#000"/>
<path d="M1101.12,570.5 H1138 V582.1 H1101.12 Q1096.25,582.1 1096.25,577.23 V575.37 Q1096.25,570.5 1101.12,570.5 Z" fill="#000"/>
<rect x="1138" y="573.05" width="192" height="6.5" fill="#000"/>
<rect x="1106.35" y="569" width="2.3" height="14.6" fill="#a020f0"/>
<rect x="1147.1" y="569" width="2.3" height="14.6" fill="#a020f0"/>
<rect x="1152.6" y="569" width="2.3" height="14.6" fill="#a020f0"/>
<rect x="1157.1" y="569" width="2.3" height="14.6" fill="#a020f0"/>
<rect x="1168.85" y="569" width="2.3" height="14.6" fill="#a020f0"/>
<rect x="1226.35" y="569" width="2.3" height="14.6" fill="#a020f0"/>
<rect x="1314.6" y="569" width="2.3" height="14.6" fill="#a020f0"/>
<path d="M468,594.3 H1079.5 M476.9,591 L485.9,594.3 L476.9,597.6 M504.47,591 L513.47,594.3 L504.47,597.6 M532.04,591 L541.04,594.3 L532.04,597.6 M559.61,591 L568.61,594.3 L559.61,597.6 M587.18,591 L596.18,594.3 L587.18,597.6 M614.75,591 L623.75,594.3 L614.75,597.6 M642.32,591 L651.32,594.3 L642.32,597.6 M669.89,591 L678.89,594.3 L669.89,597.6 M697.46,591 L706.46,594.3 L697.46,597.6 M725.03,591 L734.03,594.3 L725.03,597.6 M752.6,591 L761.6,594.3 L752.6,597.6 M780.17,591 L789.17,594.3 L780.17,597.6 M807.74,591 L816.74,594.3 L807.74,597.6 M835.31,591 L844.31,594.3 L835.31,597.6 M862.88,591 L871.88,594.3 L862.88,597.6 M890.45,591 L899.45,594.3 L890.45,597.6 M918.02,591 L927.02,594.3 L918.02,597.6 M945.59,591 L954.59,594.3 L945.59,597.6 M973.16,591 L982.16,594.3 L973.16,597.6 M1000.73,591 L1009.73,594.3 L1000.73,597.6 M1028.3,591 L1037.3,594.3 L1028.3,597.6 M1055.87,591 L1064.87,594.3 L1055.87,597.6" fill="none" stroke="#9c9c9c" stroke-width="1.3" stroke-linejoin="miter"/>
<rect x="466" y="591" width="4" height="6.6" fill="#000"/>
<rect x="522.3" y="591" width="5.1" height="6.6" fill="#000"/>
<rect x="656" y="591" width="6" height="6.6" fill="#000"/>
<path d="M1084.37,588.5 H1095 V600.1 H1084.37 Q1079.5,600.1 1079.5,595.23 V593.37 Q1079.5,588.5 1084.37,588.5 Z" fill="#000"/>
<rect x="1093.35" y="587" width="2.3" height="14.6" fill="#a020f0"/>
<path d="M468,612.5 H1018.75 M476.9,609.2 L485.9,612.5 L476.9,615.8 M504.47,609.2 L513.47,612.5 L504.47,615.8 M532.04,609.2 L541.04,612.5 L532.04,615.8 M559.61,609.2 L568.61,612.5 L559.61,615.8 M587.18,609.2 L596.18,612.5 L587.18,615.8 M614.75,609.2 L623.75,612.5 L614.75,615.8 M642.32,609.2 L651.32,612.5 L642.32,615.8 M669.89,609.2 L678.89,612.5 L669.89,615.8 M697.46,609.2 L706.46,612.5 L697.46,615.8 M725.03,609.2 L734.03,612.5 L725.03,615.8 M752.6,609.2 L761.6,612.5 L752.6,615.8 M780.17,609.2 L789.17,612.5 L780.17,615.8 M807.74,609.2 L816.74,612.5 L807.74,615.8 M835.31,609.2 L844.31,612.5 L835.31,615.8 M862.88,609.2 L871.88,612.5 L862.88,615.8 M890.45,609.2 L899.45,612.5 L890.45,615.8 M918.02,609.2 L927.02,612.5 L918.02,615.8 M945.59,609.2 L954.59,612.5 L945.59,615.8 M973.16,609.2 L982.16,612.5 L973.16,615.8 M1000.73,609.2 L1009.73,612.5 L1000.73,615.8" fill="none" stroke="#9c9c9c" stroke-width="1.3" stroke-linejoin="miter"/>
<rect x="466" y="609.2" width="4" height="6.6" fill="#000"/>
<rect x="522.3" y="609.2" width="5.1" height="6.6" fill="#000"/>
<rect x="656" y="609.2" width="6" height="6.6" fill="#000"/>
<path d="M1023.62,606.7 H1078.75 V618.3 H1023.62 Q1018.75,618.3 1018.75,613.43 V611.57 Q1018.75,606.7 1023.62,606.7 Z" fill="#000"/>
<rect x="1078.75" y="609.25" width="17.5" height="6.5" fill="#000"/>
<rect x="1028.35" y="605.2" width="2.3" height="14.6" fill="#a020f0"/>
<rect x="1040.1" y="605.2" width="2.3" height="14.6" fill="#a020f0"/>
<rect x="1047.1" y="605.2" width="2.3" height="14.6" fill="#a020f0"/>
<rect x="1055.1" y="605.2" width="2.3" height="14.6" fill="#a020f0"/>
<rect x="1077.1" y="605.2" width="2.3" height="14.6" fill="#a020f0"/>
<rect x="1093.35" y="605.2" width="2.3" height="14.6" fill="#a020f0"/>
<path d="M468,630.5 H977.5 M476.9,627.2 L485.9,630.5 L476.9,633.8 M504.47,627.2 L513.47,630.5 L504.47,633.8 M532.04,627.2 L541.04,630.5 L532.04,633.8 M559.61,627.2 L568.61,630.5 L559.61,633.8 M587.18,627.2 L596.18,630.5 L587.18,633.8 M614.75,627.2 L623.75,630.5 L614.75,633.8 M642.32,627.2 L651.32,630.5 L642.32,633.8 M669.89,627.2 L678.89,630.5 L669.89,633.8 M697.46,627.2 L706.46,630.5 L697.46,633.8 M725.03,627.2 L734.03,630.5 L725.03,633.8 M752.6,627.2 L761.6,630.5 L752.6,633.8 M780.17,627.2 L789.17,630.5 L780.17,633.8 M807.74,627.2 L816.74,630.5 L807.74,633.8 M835.31,627.2 L844.31,630.5 L835.31,633.8 M862.88,627.2 L871.88,630.5 L862.88,633.8 M890.45,627.2 L899.45,630.5 L890.45,633.8 M918.02,627.2 L927.02,630.5 L918.02,633.8 M945.59,627.2 L954.59,630.5 L945.59,633.8" fill="none" stroke="#9c9c9c" stroke-width="1.3" stroke-linejoin="miter"/>
<rect x="466" y="627.2" width="4" height="6.6" fill="#000"/>
<rect x="522.3" y="627.2" width="5.1" height="6.6" fill="#000"/>
<rect x="656" y="627.2" width="6" height="6.6" fill="#000"/>
<rect x="977.5" y="627.25" width="7.5" height="6.5" fill="#000"/>
<rect x="985" y="624.7" width="33.25" height="11.6" fill="#000"/>
<rect x="1018.25" y="627.25" width="78" height="6.5" fill="#000"/>
<rect x="1018.1" y="623.2" width="2.3" height="14.6" fill="#a020f0"/>
<rect x="1028.35" y="623.2" width="2.3" height="14.6" fill="#a020f0"/>
<rect x="1040.1" y="623.2" width="2.3" height="14.6" fill="#a020f0"/>
<rect x="1055.1" y="623.2" width="2.3" height="14.6" fill="#a020f0"/>
<rect x="1077.1" y="623.2" width="2.3" height="14.6" fill="#a020f0"/>
<rect x="1093.35" y="623.2" width="2.3" height="14.6" fill="#a020f0"/>
<path d="M468,648.8 H893.75 M476.9,645.5 L485.9,648.8 L476.9,652.1 M504.47,645.5 L513.47,648.8 L504.47,652.1 M532.04,645.5 L541.04,648.8 L532.04,652.1 M559.61,645.5 L568.61,648.8 L559.61,652.1 M587.18,645.5 L596.18,648.8 L587.18,652.1 M614.75,645.5 L623.75,648.8 L614.75,652.1 M642.32,645.5 L651.32,648.8 L642.32,652.1 M669.89,645.5 L678.89,648.8 L669.89,652.1 M697.46,645.5 L706.46,648.8 L697.46,652.1 M725.03,645.5 L734.03,648.8 L725.03,652.1 M752.6,645.5 L761.6,648.8 L752.6,652.1 M780.17,645.5 L789.17,648.8 L780.17,652.1 M807.74,645.5 L816.74,648.8 L807.74,652.1 M835.31,645.5 L844.31,648.8 L835.31,652.1 M862.88,645.5 L871.88,648.8 L862.88,652.1" fill="none" stroke="#9c9c9c" stroke-width="1.3" stroke-linejoin="miter"/>
<rect x="466" y="645.5" width="4" height="6.6" fill="#000"/>
<rect x="522.3" y="645.5" width="5.1" height="6.6" fill="#000"/>
<rect x="656" y="645.5" width="6" height="6.6" fill="#000"/>
<path d="M898.62,643 H985.75 V654.6 H898.62 Q893.75,654.6 893.75,649.73 V647.87 Q893.75,643 898.62,643 Z" fill="#000"/>
<rect x="985.75" y="645.55" width="110.5" height="6.5" fill="#000"/>
<rect x="908.85" y="641.5" width="2.3" height="14.6" fill="#a020f0"/>
<rect x="911.85" y="641.5" width="2.3" height="14.6" fill="#a020f0"/>
<rect x="918.35" y="641.5" width="2.3" height="14.6" fill="#a020f0"/>
<rect x="921.35" y="641.5" width="2.3" height="14.6" fill="#a020f0"/>
<rect x="923.85" y="641.5" width="2.3" height="14.6" fill="#a020f0"/>
<rect x="926.35" y="641.5" width="2.3" height="14.6" fill="#a020f0"/>
<rect x="928.85" y="641.5" width="2.3" height="14.6" fill="#a020f0"/>
<rect x="931.35" y="641.5" width="2.3" height="14.6" fill="#a020f0"/>
<rect x="934.35" y="641.5" width="2.3" height="14.6" fill="#a020f0"/>
<rect x="943.85" y="641.5" width="2.3" height="14.6" fill="#a020f0"/>
<rect x="946.85" y="641.5" width="2.3" height="14.6" fill="#a020f0"/>
<rect x="961.35" y="641.5" width="2.3" height="14.6" fill="#a020f0"/>
<rect x="1018.1" y="641.5" width="2.3" height="14.6" fill="#a020f0"/>
<rect x="1029.5" y="641.5" width="2.5" height="14.6" fill="#a020f0"/>
<rect x="1040.1" y="641.5" width="2.3" height="14.6" fill="#a020f0"/>
<rect x="1055.1" y="641.5" width="2.3" height="14.6" fill="#a020f0"/>
<rect x="1077.1" y="641.5" width="2.3" height="14.6" fill="#a020f0"/>
<rect x="1093.35" y="641.5" width="2.3" height="14.6" fill="#a020f0"/>
<path d="M468,667 H797.5 M476.9,663.7 L485.9,667 L476.9,670.3 M504.47,663.7 L513.47,667 L504.47,670.3 M532.04,663.7 L541.04,667 L532.04,670.3 M559.61,663.7 L568.61,667 L559.61,670.3 M587.18,663.7 L596.18,667 L587.18,670.3 M614.75,663.7 L623.75,667 L614.75,670.3 M642.32,663.7 L651.32,667 L642.32,670.3 M669.89,663.7 L678.89,667 L669.89,670.3 M697.46,663.7 L706.46,667 L697.46,670.3 M725.03,663.7 L734.03,667 L725.03,670.3 M752.6,663.7 L761.6,667 L752.6,670.3 M780.17,663.7 L789.17,667 L780.17,670.3" fill="none" stroke="#9c9c9c" stroke-width="1.3" stroke-linejoin="miter"/>
<rect x="466" y="663.7" width="4" height="6.6" fill="#000"/>
<rect x="522.3" y="663.7" width="5.1" height="6.6" fill="#000"/>
<rect x="656" y="663.7" width="6" height="6.6" fill="#000"/>
<path d="M797.5,661.2 H887.63 Q892.5,661.2 892.5,666.07 V667.93 Q892.5,672.8 887.63,672.8 H797.5 Z" fill="#000"/>
<rect x="814.6" y="659.7" width="2.3" height="14.6" fill="#a020f0"/>
<rect x="822.6" y="659.7" width="2.3" height="14.6" fill="#a020f0"/>
<path d="M468,685 H730.5 M476.9,681.7 L485.9,685 L476.9,688.3 M504.47,681.7 L513.47,685 L504.47,688.3 M532.04,681.7 L541.04,685 L532.04,688.3 M559.61,681.7 L568.61,685 L559.61,688.3 M587.18,681.7 L596.18,685 L587.18,688.3 M614.75,681.7 L623.75,685 L614.75,688.3 M642.32,681.7 L651.32,685 L642.32,688.3 M669.89,681.7 L678.89,685 L669.89,688.3 M697.46,681.7 L706.46,685 L697.46,688.3" fill="none" stroke="#9c9c9c" stroke-width="1.3" stroke-linejoin="miter"/>
<rect x="466" y="681.7" width="4" height="6.6" fill="#000"/>
<rect x="522.3" y="681.7" width="5.1" height="6.6" fill="#000"/>
<rect x="656" y="681.7" width="6" height="6.6" fill="#000"/>
<rect x="730.5" y="679.2" width="66.5" height="11.6" fill="#000"/>
<rect x="797" y="681.75" width="96" height="6.5" fill="#000"/>
<rect x="739.35" y="677.7" width="2.3" height="14.6" fill="#a020f0"/>
<rect x="751.35" y="677.7" width="2.3" height="14.6" fill="#a020f0"/>
<rect x="760.85" y="677.7" width="2.3" height="14.6" fill="#a020f0"/>
<path d="M468,703.3 H731 M476.9,700 L485.9,703.3 L476.9,706.6 M504.47,700 L513.47,703.3 L504.47,706.6 M532.04,700 L541.04,703.3 L532.04,706.6 M614.75,700 L623.75,703.3 L614.75,706.6 M642.32,700 L651.32,703.3 L642.32,706.6 M669.89,700 L678.89,703.3 L669.89,706.6 M697.46,700 L706.46,703.3 L697.46,706.6" fill="none" stroke="#9c9c9c" stroke-width="1.3" stroke-linejoin="miter"/>
<rect x="466.5" y="700.7" width="3.5" height="5.2" fill="#bebebe" stroke="#141414" stroke-width="1.25"/>
<rect x="522.5" y="700.7" width="4" height="5.2" fill="#bebebe" stroke="#141414" stroke-width="1.25"/>
<rect x="566.3" y="700.2" width="1.7" height="6.2" fill="#bebebe" stroke="#141414" stroke-width="1.25"/>
<rect x="567.5" y="697.7" width="23.5" height="11.2" fill="#bebebe" stroke="#141414" stroke-width="1.25"/>
<rect x="658" y="700.2" width="2.8" height="6.2" fill="#bebebe" stroke="#141414" stroke-width="1.25"/>
<rect x="655.8" y="698.45" width="2.7" height="9.7" fill="#bebebe" stroke="#141414" stroke-width="1.25"/>
<rect x="731" y="700.2" width="161.5" height="6.2" fill="#bebebe" stroke="#141414" stroke-width="1.25"/>
</g>
<text x="1822.5" y="426.3" font-size="24.7">L5</text>
<text x="1520" y="555.5" font-size="24.7">L4</text>
<text x="1217" y="600.8" font-size="24.7">L3</text>
<text x="983.3" y="676.3" font-size="24.7">L2</text>
<text x="786.5" y="731.5" font-size="24.7">L1</text>
<text x="1647" y="732.6" font-size="24.7">E3</text>
<text x="332.5" y="386.3" font-size="24.7">pIX</text>
<text x="182" y="487.5" font-size="24.7">E1A</text>
<text x="278" y="640.8" font-size="24.7">E1B</text>
<g id="e1a">
<path d="M176,358.25 H232" fill="none" stroke="#9c9c9c" stroke-width="1.3" stroke-linejoin="miter"/>
<rect x="174.25" y="355.15" width="2.75" height="6.2" fill="#bebebe" stroke="#141414" stroke-width="1.25"/>
<rect x="176.25" y="352.65" width="30.5" height="11.2" fill="#bebebe" stroke="#141414" stroke-width="1.25"/>
<rect x="229" y="355.15" width="5.25" height="6.2" fill="#bebebe" stroke="#141414" stroke-width="1.25"/>
<rect x="212.5" y="352.65" width="17" height="11.2" fill="#bebebe" stroke="#141414" stroke-width="1.25"/>
<path d="M176,383.75 H232" fill="none" stroke="#9c9c9c" stroke-width="1.3" stroke-linejoin="miter"/>
<rect x="174.25" y="380.65" width="2.75" height="6.2" fill="#bebebe" stroke="#141414" stroke-width="1.25"/>
<rect x="176.25" y="378.15" width="23.25" height="11.2" fill="#bebebe" stroke="#141414" stroke-width="1.25"/>
<rect x="229" y="380.65" width="5.25" height="6.2" fill="#bebebe" stroke="#141414" stroke-width="1.25"/>
<rect x="212.5" y="378.15" width="17" height="11.2" fill="#bebebe" stroke="#141414" stroke-width="1.25"/>
<rect x="224.25" y="376.45" width="3.25" height="14.6" fill="#a020f0"/>
<path d="M176,409.5 H232" fill="none" stroke="#9c9c9c" stroke-width="1.3" stroke-linejoin="miter"/>
<rect x="174.25" y="406.4" width="3.75" height="6.2" fill="#bebebe" stroke="#141414" stroke-width="1.25"/>
<rect x="177.5" y="403.9" width="4.25" height="11.2" fill="#bebebe" stroke="#141414" stroke-width="1.25"/>
<rect x="192.5" y="403.9" width="14.25" height="11.2" fill="#bebebe" stroke="#141414" stroke-width="1.25"/>
<rect x="229" y="406.4" width="5.25" height="6.2" fill="#bebebe" stroke="#141414" stroke-width="1.25"/>
<rect x="212.5" y="403.9" width="17" height="11.2" fill="#bebebe" stroke="#141414" stroke-width="1.25"/>
<path d="M176,435 H232" fill="none" stroke="#9c9c9c" stroke-width="1.3" stroke-linejoin="miter"/>
<rect x="174.25" y="431.9" width="3.75" height="6.2" fill="#bebebe" stroke="#141414" stroke-width="1.25"/>
<rect x="177.5" y="429.4" width="4.25" height="11.2" fill="#bebebe" stroke="#141414" stroke-width="1.25"/>
<rect x="192.5" y="429.4" width="7" height="11.2" fill="#bebebe" stroke="#141414" stroke-width="1.25"/>
<rect x="229" y="431.9" width="5.25" height="6.2" fill="#bebebe" stroke="#141414" stroke-width="1.25"/>
<rect x="212.5" y="429.4" width="17" height="11.2" fill="#bebebe" stroke="#141414" stroke-width="1.25"/>
<rect x="224.25" y="427.7" width="2.5" height="14.6" fill="#a020f0"/>
<path d="M176,460.5 H232 M184.75,457.2 L193.75,460.5 L184.75,463.8" fill="none" stroke="#9c9c9c" stroke-width="1.3" stroke-linejoin="miter"/>
<rect x="174.25" y="457.4" width="3.75" height="6.2" fill="#bebebe" stroke="#141414" stroke-width="1.25"/>
<rect x="177.5" y="454.9" width="4.25" height="11.2" fill="#bebebe" stroke="#141414" stroke-width="1.25"/>
<rect x="217" y="457.4" width="17.25" height="6.2" fill="#bebebe" stroke="#141414" stroke-width="1.25"/>
<rect x="212.5" y="454.9" width="4.8" height="11.2" fill="#bebebe" stroke="#141414" stroke-width="1.25"/>
<rect x="224.25" y="453.2" width="3.25" height="14.6" fill="#a020f0"/>
</g>
<path d="M341.87,352.45 H360.5 V364.05 H341.87 Q337,364.05 337,359.18 V357.32 Q337,352.45 341.87,352.45 Z" fill="#000"/>
<rect x="360" y="355" width="3" height="6.5" fill="#000"/>
<rect x="348.35" y="350.95" width="2.3" height="14.6" fill="#a020f0"/>
<rect x="359.35" y="350.95" width="2.3" height="14.6" fill="#a020f0"/>
<g id="e1b">
<path d="M268,521.75 H338 M273.5,518.45 L282.5,521.75 L273.5,525.05 M301.5,518.45 L310.5,521.75 L301.5,525.05" fill="none" stroke="#9c9c9c" stroke-width="1.3" stroke-linejoin="miter"/>
<rect x="236.2" y="518.65" width="2.3" height="6.2" fill="#bebebe" stroke="#141414" stroke-width="1.25"/>
<rect x="266.5" y="518.65" width="2.3" height="6.2" fill="#bebebe" stroke="#141414" stroke-width="1.25"/>
<rect x="237.5" y="516.15" width="30" height="11.2" fill="#bebebe" stroke="#141414" stroke-width="1.25"/>
<rect x="337.5" y="518.65" width="25" height="6.2" fill="#bebebe" stroke="#141414" stroke-width="1.25"/>
<rect x="248.35" y="514.45" width="2.3" height="14.6" fill="#a020f0"/>
<rect x="256.35" y="514.45" width="2.3" height="14.6" fill="#a020f0"/>
<rect x="263.35" y="514.45" width="2.3" height="14.6" fill="#a020f0"/>
<rect x="348.1" y="514.45" width="2.3" height="14.6" fill="#a020f0"/>
<rect x="359.6" y="514.45" width="2.3" height="14.6" fill="#a020f0"/>
<path d="M334,552 H338" fill="none" stroke="#9c9c9c" stroke-width="1.3" stroke-linejoin="miter"/>
<rect x="237.5" y="548.9" width="17.5" height="6.2" fill="#bebebe" stroke="#141414" stroke-width="1.25"/>
<rect x="333" y="548.9" width="2.2" height="6.2" fill="#bebebe" stroke="#141414" stroke-width="1.25"/>
<rect x="254.5" y="546.4" width="79.25" height="11.2" fill="#bebebe" stroke="#141414" stroke-width="1.25"/>
<rect x="337.5" y="548.9" width="25" height="6.2" fill="#bebebe" stroke="#141414" stroke-width="1.25"/>
<rect x="348.1" y="544.7" width="2.3" height="14.6" fill="#a020f0"/>
<path d="M266,582.5 H338 M273.5,579.2 L282.5,582.5 L273.5,585.8 M301.5,579.2 L310.5,582.5 L301.5,585.8" fill="none" stroke="#9c9c9c" stroke-width="1.3" stroke-linejoin="miter"/>
<rect x="237.5" y="579.4" width="17.5" height="6.2" fill="#bebebe" stroke="#141414" stroke-width="1.25"/>
<rect x="254.5" y="576.9" width="11.75" height="11.2" fill="#bebebe" stroke="#141414" stroke-width="1.25"/>
<rect x="333" y="579.4" width="2.2" height="6.2" fill="#bebebe" stroke="#141414" stroke-width="1.25"/>
<rect x="320.5" y="576.9" width="13.25" height="11.2" fill="#bebebe" stroke="#141414" stroke-width="1.25"/>
<rect x="337.5" y="579.4" width="25" height="6.2" fill="#bebebe" stroke="#141414" stroke-width="1.25"/>
<rect x="263.35" y="575.2" width="2.3" height="14.6" fill="#a020f0"/>
<rect x="348.1" y="575.2" width="2.3" height="14.6" fill="#a020f0"/>
<path d="M266,612.5 H338 M273.5,609.2 L282.5,612.5 L273.5,615.8 M301.5,609.2 L310.5,612.5 L301.5,615.8" fill="none" stroke="#9c9c9c" stroke-width="1.3" stroke-linejoin="miter"/>
<rect x="237.5" y="609.4" width="17.5" height="6.2" fill="#bebebe" stroke="#141414" stroke-width="1.25"/>
<rect x="254.5" y="606.9" width="12.25" height="11.2" fill="#bebebe" stroke="#141414" stroke-width="1.25"/>
<rect x="320.5" y="609.4" width="12.75" height="6.2" fill="#bebebe" stroke="#141414" stroke-width="1.25"/>
<rect x="317.5" y="606.9" width="3.25" height="11.2" fill="#bebebe" stroke="#141414" stroke-width="1.25"/>
<rect x="337.5" y="609.4" width="25" height="6.2" fill="#bebebe" stroke="#141414" stroke-width="1.25"/>
<rect x="348.1" y="605.2" width="2.3" height="14.6" fill="#a020f0"/>
</g>
<g id="e3">
<path d="M1620,576.2 H1753 M1667.4,572.9 L1676.4,576.2 L1667.4,579.5 M1695,572.9 L1704,576.2 L1695,579.5 M1722.8,572.9 L1731.8,576.2 L1722.8,579.5" fill="none" stroke="#9c9c9c" stroke-width="1.3" stroke-linejoin="miter"/>
<rect x="1602" y="573.1" width="20.4" height="6.2" fill="#bebebe" stroke="#141414" stroke-width="1.25"/>
<rect x="1640.8" y="573.1" width="10.8" height="6.2" fill="#bebebe" stroke="#141414" stroke-width="1.25"/>
<rect x="1752.3" y="573.1" width="2.2" height="6.2" fill="#bebebe" stroke="#141414" stroke-width="1.25"/>
<rect x="1774.5" y="573.1" width="3" height="6.2" fill="#bebebe" stroke="#141414" stroke-width="1.25"/>
<rect x="1753.6" y="570.6" width="21.9" height="11.2" fill="#bebebe" stroke="#141414" stroke-width="1.25"/>
<path d="M1620,597.4 H1724 M1667.4,594.1 L1676.4,597.4 L1667.4,600.7 M1695,594.1 L1704,597.4 L1695,600.7" fill="none" stroke="#9c9c9c" stroke-width="1.3" stroke-linejoin="miter"/>
<rect x="1602" y="594.3" width="20.4" height="6.2" fill="#bebebe" stroke="#141414" stroke-width="1.25"/>
<rect x="1640.8" y="594.3" width="10.8" height="6.2" fill="#bebebe" stroke="#141414" stroke-width="1.25"/>
<rect x="1723.9" y="594.3" width="10.1" height="6.2" fill="#bebebe" stroke="#141414" stroke-width="1.25"/>
<rect x="1754" y="594.3" width="23.5" height="6.2" fill="#bebebe" stroke="#141414" stroke-width="1.25"/>
<rect x="1733.2" y="591.8" width="21.9" height="11.2" fill="#bebebe" stroke="#141414" stroke-width="1.25"/>
<path d="M1620,618.4 H1718 M1667.4,615.1 L1676.4,618.4 L1667.4,621.7 M1695,615.1 L1704,618.4 L1695,621.7" fill="none" stroke="#9c9c9c" stroke-width="1.3" stroke-linejoin="miter"/>
<rect x="1602" y="615.3" width="20.4" height="6.2" fill="#bebebe" stroke="#141414" stroke-width="1.25"/>
<rect x="1640.8" y="615.3" width="10.8" height="6.2" fill="#bebebe" stroke="#141414" stroke-width="1.25"/>
<rect x="1717.2" y="615.3" width="2.8" height="6.2" fill="#bebebe" stroke="#141414" stroke-width="1.25"/>
<rect x="1733" y="615.3" width="44.5" height="6.2" fill="#bebebe" stroke="#141414" stroke-width="1.25"/>
<rect x="1719.2" y="612.8" width="14.9" height="11.2" fill="#bebebe" stroke="#141414" stroke-width="1.25"/>
<path d="M1620,639.7 H1699 M1667.4,636.4 L1676.4,639.7 L1667.4,643" fill="none" stroke="#9c9c9c" stroke-width="1.3" stroke-linejoin="miter"/>
<rect x="1602" y="636.6" width="20.4" height="6.2" fill="#bebebe" stroke="#141414" stroke-width="1.25"/>
<rect x="1640.8" y="636.6" width="10.8" height="6.2" fill="#bebebe" stroke="#141414" stroke-width="1.25"/>
<rect x="1698.3" y="636.6" width="5.7" height="6.2" fill="#bebebe" stroke="#141414" stroke-width="1.25"/>
<rect x="1703.5" y="634.1" width="17.2" height="11.2" fill="#bebebe" stroke="#141414" stroke-width="1.25"/>
<rect x="1605.85" y="632.4" width="2.3" height="14.6" fill="#a020f0"/>
<rect x="1708.15" y="632.4" width="2.3" height="14.6" fill="#a020f0"/>
<rect x="1718.95" y="632.4" width="2.3" height="14.6" fill="#a020f0"/>
<path d="M1620,660.7 H1642" fill="none" stroke="#9c9c9c" stroke-width="1.3" stroke-linejoin="miter"/>
<rect x="1602" y="657.6" width="20.4" height="6.2" fill="#bebebe" stroke="#141414" stroke-width="1.25"/>
<rect x="1640.8" y="657.6" width="24.2" height="6.2" fill="#bebebe" stroke="#141414" stroke-width="1.25"/>
<rect x="1688.5" y="657.6" width="32.2" height="6.2" fill="#bebebe" stroke="#141414" stroke-width="1.25"/>
<rect x="1664.1" y="655.1" width="25.4" height="11.2" fill="#bebebe" stroke="#141414" stroke-width="1.25"/>
<path d="M1620,682 H1642" fill="none" stroke="#9c9c9c" stroke-width="1.3" stroke-linejoin="miter"/>
<rect x="1602" y="678.9" width="20.4" height="6.2" fill="#bebebe" stroke="#141414" stroke-width="1.25"/>
<rect x="1640.8" y="678.9" width="14.2" height="6.2" fill="#bebebe" stroke="#141414" stroke-width="1.25"/>
<rect x="1663" y="678.9" width="57.7" height="6.2" fill="#bebebe" stroke="#141414" stroke-width="1.25"/>
<rect x="1654" y="676.4" width="10.1" height="11.2" fill="#bebebe" stroke="#141414" stroke-width="1.25"/>
<rect x="1602" y="700.2" width="16" height="6.2" fill="#bebebe" stroke="#141414" stroke-width="1.25"/>
<rect x="1634" y="700.2" width="86.7" height="6.2" fill="#bebebe" stroke="#141414" stroke-width="1.25"/>
<rect x="1617.5" y="697.7" width="17.5" height="11.2" fill="#bebebe" stroke="#141414" stroke-width="1.25"/>
</g>
<path d="M169,745.1 H2038 M2038,745.1 L2024,740.2" fill="none" stroke="#000" stroke-width="4.2" stroke-linecap="round" stroke-linejoin="round"/>
<path d="M2038,751.95 H169 M169,751.95 L182.5,756.6" fill="none" stroke="#000" stroke-width="4.2" stroke-linecap="round" stroke-linejoin="round"/>
<line x1="481.2" y1="751.95" x2="481.2" y2="762.6" stroke="#000" stroke-width="4.2"/>
<text x="481.2" y="793.9" text-anchor="middle" font-size="24.7">6000</text>
<line x1="793" y1="751.95" x2="793" y2="762.6" stroke="#000" stroke-width="4.2"/>
<text x="793" y="793.9" text-anchor="middle" font-size="24.7">12,000</text>
<line x1="1105" y1="751.95" x2="1105" y2="762.6" stroke="#000" stroke-width="4.2"/>
<text x="1105" y="793.9" text-anchor="middle" font-size="24.7">18,000</text>
<line x1="1417" y1="751.95" x2="1417" y2="762.6" stroke="#000" stroke-width="4.2"/>
<text x="1417" y="793.9" text-anchor="middle" font-size="24.7">24,000</text>
<line x1="1728.3" y1="751.95" x2="1728.3" y2="762.6" stroke="#000" stroke-width="4.2"/>
<text x="1728.3" y="793.9" text-anchor="middle" font-size="24.7">30,000</text>
<text x="2040" y="793.9" text-anchor="end" font-size="24.7">35,938</text>
<text x="79" y="741" text-anchor="middle" font-size="28.4">Ad5</text>
<text x="79" y="775" text-anchor="middle" font-size="28.4">Genome</text>
<g id="revtx">
<path d="M702,832.5 H1578 M714,829.2 L705,832.5 L714,835.8 M740.3,829.2 L731.3,832.5 L740.3,835.8 M766.6,829.2 L757.6,832.5 L766.6,835.8 M792.9,829.2 L783.9,832.5 L792.9,835.8 M819.2,829.2 L810.2,832.5 L819.2,835.8 M845.5,829.2 L836.5,832.5 L845.5,835.8 M871.8,829.2 L862.8,832.5 L871.8,835.8 M924.4,829.2 L915.4,832.5 L924.4,835.8 M950.7,829.2 L941.7,832.5 L950.7,835.8 M977,829.2 L968,832.5 L977,835.8 M1003.3,829.2 L994.3,832.5 L1003.3,835.8 M1029.6,829.2 L1020.6,832.5 L1029.6,835.8 M1055.9,829.2 L1046.9,832.5 L1055.9,835.8 M1082.2,829.2 L1073.2,832.5 L1082.2,835.8 M1108.5,829.2 L1099.5,832.5 L1108.5,835.8 M1134.8,829.2 L1125.8,832.5 L1134.8,835.8 M1161.1,829.2 L1152.1,832.5 L1161.1,835.8 M1187.4,829.2 L1178.4,832.5 L1187.4,835.8 M1213.7,829.2 L1204.7,832.5 L1213.7,835.8 M1240,829.2 L1231,832.5 L1240,835.8 M1266.3,829.2 L1257.3,832.5 L1266.3,835.8 M1292.6,829.2 L1283.6,832.5 L1292.6,835.8 M1318.9,829.2 L1309.9,832.5 L1318.9,835.8 M1345.2,829.2 L1336.2,832.5 L1345.2,835.8 M1371.5,829.2 L1362.5,832.5 L1371.5,835.8 M1397.8,829.2 L1388.8,832.5 L1397.8,835.8 M1424.1,829.2 L1415.1,832.5 L1424.1,835.8 M1450.4,829.2 L1441.4,832.5 L1450.4,835.8 M1476.7,829.2 L1467.7,832.5 L1476.7,835.8 M1503,829.2 L1494,832.5 L1503,835.8 M1529.3,829.2 L1520.3,832.5 L1529.3,835.8 M1555.6,829.2 L1546.6,832.5 L1555.6,835.8" fill="none" stroke="#9c9c9c" stroke-width="1.3" stroke-linejoin="miter"/>
<rect x="354.25" y="829.4" width="241.75" height="6.2" fill="#bebebe" stroke="#141414" stroke-width="1.25"/>
<rect x="595.5" y="826.9" width="107" height="11.2" fill="#bebebe" stroke="#141414" stroke-width="1.25"/>
<rect x="891" y="829.4" width="9" height="6.2" fill="#bebebe" stroke="#141414" stroke-width="1.25"/>
<rect x="889" y="827.4" width="2.8" height="10.2" fill="#bebebe" stroke="#141414" stroke-width="1.25"/>
<rect x="1452.5" y="829.3" width="4.5" height="6.4" fill="#bebebe" stroke="#141414" stroke-width="1.25"/>
<rect x="1576.25" y="829.3" width="4.25" height="6.4" fill="#bebebe" stroke="#141414" stroke-width="1.25"/>
<path d="M606,852.5 H1578 M636.5,849.2 L627.5,852.5 L636.5,855.8 M662.8,849.2 L653.8,852.5 L662.8,855.8 M689.1,849.2 L680.1,852.5 L689.1,855.8 M715.4,849.2 L706.4,852.5 L715.4,855.8 M741.7,849.2 L732.7,852.5 L741.7,855.8 M768,849.2 L759,852.5 L768,855.8 M794.3,849.2 L785.3,852.5 L794.3,855.8 M820.6,849.2 L811.6,852.5 L820.6,855.8 M846.9,849.2 L837.9,852.5 L846.9,855.8 M873.2,849.2 L864.2,852.5 L873.2,855.8 M925.8,849.2 L916.8,852.5 L925.8,855.8 M952.1,849.2 L943.1,852.5 L952.1,855.8 M978.4,849.2 L969.4,852.5 L978.4,855.8 M1004.7,849.2 L995.7,852.5 L1004.7,855.8 M1031,849.2 L1022,852.5 L1031,855.8 M1057.3,849.2 L1048.3,852.5 L1057.3,855.8 M1083.6,849.2 L1074.6,852.5 L1083.6,855.8 M1109.9,849.2 L1100.9,852.5 L1109.9,855.8 M1136.2,849.2 L1127.2,852.5 L1136.2,855.8 M1162.5,849.2 L1153.5,852.5 L1162.5,855.8 M1188.8,849.2 L1179.8,852.5 L1188.8,855.8 M1215.1,849.2 L1206.1,852.5 L1215.1,855.8 M1241.4,849.2 L1232.4,852.5 L1241.4,855.8 M1267.7,849.2 L1258.7,852.5 L1267.7,855.8 M1294,849.2 L1285,852.5 L1294,855.8 M1320.3,849.2 L1311.3,852.5 L1320.3,855.8 M1346.6,849.2 L1337.6,852.5 L1346.6,855.8 M1372.9,849.2 L1363.9,852.5 L1372.9,855.8 M1399.2,849.2 L1390.2,852.5 L1399.2,855.8 M1425.5,849.2 L1416.5,852.5 L1425.5,855.8 M1478.1,849.2 L1469.1,852.5 L1478.1,855.8 M1504.4,849.2 L1495.4,852.5 L1504.4,855.8 M1530.7,849.2 L1521.7,852.5 L1530.7,855.8 M1557,849.2 L1548,852.5 L1557,855.8" fill="none" stroke="#9c9c9c" stroke-width="1.3" stroke-linejoin="miter"/>
<rect x="354.25" y="849.4" width="61.25" height="6.2" fill="#bebebe" stroke="#141414" stroke-width="1.25"/>
<rect x="415" y="846.9" width="191.25" height="11.2" fill="#bebebe" stroke="#141414" stroke-width="1.25"/>
<rect x="891" y="849.4" width="9" height="6.2" fill="#bebebe" stroke="#141414" stroke-width="1.25"/>
<rect x="889" y="847.4" width="2.8" height="10.2" fill="#bebebe" stroke="#141414" stroke-width="1.25"/>
<rect x="1452.5" y="849.3" width="4.5" height="6.4" fill="#bebebe" stroke="#141414" stroke-width="1.25"/>
<rect x="1576.25" y="849.3" width="4.25" height="6.4" fill="#bebebe" stroke="#141414" stroke-width="1.25"/>
<path d="M1420,872.5 H1578 M1481.5,869.2 L1472.5,872.5 L1481.5,875.8 M1507.75,869.2 L1498.75,872.5 L1507.75,875.8 M1534.5,869.2 L1525.5,872.5 L1534.5,875.8 M1561,869.2 L1552,872.5 L1561,875.8" fill="none" stroke="#9c9c9c" stroke-width="1.3" stroke-linejoin="miter"/>
<rect x="1330.5" y="869.4" width="4.5" height="6.2" fill="#bebebe" stroke="#141414" stroke-width="1.25"/>
<rect x="1419" y="869.4" width="1.9" height="6.2" fill="#bebebe" stroke="#141414" stroke-width="1.25"/>
<rect x="1334.25" y="866.9" width="85.25" height="11.2" fill="#bebebe" stroke="#141414" stroke-width="1.25"/>
<rect x="1386.35" y="865.2" width="2.3" height="14.6" fill="#a020f0"/>
<rect x="1400.6" y="865.2" width="2.3" height="14.6" fill="#a020f0"/>
<rect x="1452.5" y="869.3" width="4.5" height="6.4" fill="#bebebe" stroke="#141414" stroke-width="1.25"/>
<rect x="1576.25" y="869.3" width="4.25" height="6.4" fill="#bebebe" stroke="#141414" stroke-width="1.25"/>
<path d="M1420,892.5 H1516 M1481.5,889.2 L1472.5,892.5 L1481.5,895.8 M1507.75,889.2 L1498.75,892.5 L1507.75,895.8" fill="none" stroke="#9c9c9c" stroke-width="1.3" stroke-linejoin="miter"/>
<rect x="1330.5" y="889.25" width="4.5" height="6.5" fill="#000"/>
<rect x="1334.25" y="886.7" width="85.25" height="11.6" fill="#000"/>
<rect x="1419" y="888.4" width="2" height="8.2" fill="#000"/>
<rect x="1350" y="885.2" width="3.25" height="14.6" fill="#a020f0"/>
<rect x="1378.85" y="885.2" width="2.3" height="14.6" fill="#a020f0"/>
<rect x="1386.35" y="885.2" width="2.3" height="14.6" fill="#a020f0"/>
<rect x="1400.6" y="885.2" width="2.3" height="14.6" fill="#a020f0"/>
<rect x="1452.5" y="889.2" width="5" height="6.6" fill="#000"/>
<rect x="1515" y="889.2" width="3.75" height="6.6" fill="#000"/>
<path d="M1420,912 H1783 M1481.5,908.7 L1472.5,912 L1481.5,915.3 M1507.8,908.7 L1498.8,912 L1507.8,915.3 M1534.1,908.7 L1525.1,912 L1534.1,915.3 M1560.4,908.7 L1551.4,912 L1560.4,915.3 M1586.7,908.7 L1577.7,912 L1586.7,915.3 M1613,908.7 L1604,912 L1613,915.3 M1639.3,908.7 L1630.3,912 L1639.3,915.3 M1665.6,908.7 L1656.6,912 L1665.6,915.3 M1691.9,908.7 L1682.9,912 L1691.9,915.3 M1718.2,908.7 L1709.2,912 L1718.2,915.3 M1744.5,908.7 L1735.5,912 L1744.5,915.3 M1770.8,908.7 L1761.8,912 L1770.8,915.3" fill="none" stroke="#9c9c9c" stroke-width="1.3" stroke-linejoin="miter"/>
<rect x="1330.5" y="908.75" width="67.5" height="6.5" fill="#000"/>
<rect x="1397.5" y="906.2" width="22.5" height="11.6" fill="#000"/>
<rect x="1452.5" y="906" width="5" height="12" fill="#000"/>
<rect x="1782.5" y="906.2" width="8" height="11.6" fill="#000"/>
<rect x="1790" y="908.4" width="2.5" height="7.2" fill="#000"/>
<line x1="435" y1="912" x2="446" y2="912" stroke="#9c9c9c" stroke-width="1.3"/>
<rect x="353.75" y="908.75" width="3.25" height="6.5" fill="#000"/>
<rect x="356.25" y="906.2" width="79.5" height="11.6" fill="#000"/>
<rect x="445" y="906.2" width="7.5" height="11.6" fill="#000"/>
<rect x="452" y="908.75" width="2.5" height="6.5" fill="#000"/>
<rect x="360.85" y="904.7" width="2.3" height="14.6" fill="#a020f0"/>
<rect x="365.1" y="904.7" width="2.3" height="14.6" fill="#a020f0"/>
<rect x="373.85" y="904.7" width="2.3" height="14.6" fill="#a020f0"/>
<rect x="399.6" y="904.7" width="2.3" height="14.6" fill="#a020f0"/>
<rect x="411.35" y="904.7" width="2.3" height="14.6" fill="#a020f0"/>
<rect x="417.5" y="904.7" width="3.75" height="14.6" fill="#a020f0"/>
<rect x="426.35" y="904.7" width="2.3" height="14.6" fill="#a020f0"/>
<rect x="449.6" y="904.7" width="2.3" height="14.6" fill="#a020f0"/>
<rect x="1879" y="829.6" width="125.5" height="6.2" fill="#bebebe" stroke="#141414" stroke-width="1.25"/>
<rect x="2024" y="829.6" width="5.4" height="6.2" fill="#bebebe" stroke="#141414" stroke-width="1.25"/>
<rect x="2003.8" y="827.1" width="21" height="11.2" fill="#bebebe" stroke="#141414" stroke-width="1.25"/>
<path d="M2002,848.4 H2026" fill="none" stroke="#9c9c9c" stroke-width="1.3" stroke-linejoin="miter"/>
<rect x="1879" y="845.3" width="102" height="6.2" fill="#bebebe" stroke="#141414" stroke-width="1.25"/>
<rect x="2001" y="845.3" width="2.6" height="6.2" fill="#bebebe" stroke="#141414" stroke-width="1.25"/>
<rect x="1980.5" y="842.8" width="21.5" height="11.2" fill="#bebebe" stroke="#141414" stroke-width="1.25"/>
<rect x="2025.4" y="845.4" width="4" height="6" fill="#bebebe" stroke="#141414" stroke-width="1.25"/>
<path d="M1982,864.4 H2026 M2004.6,861.1 L1995.6,864.4 L2004.6,867.7" fill="none" stroke="#9c9c9c" stroke-width="1.3" stroke-linejoin="miter"/>
<rect x="1879" y="861.3" width="84" height="6.2" fill="#bebebe" stroke="#141414" stroke-width="1.25"/>
<rect x="1980" y="861.3" width="3" height="6.2" fill="#bebebe" stroke="#141414" stroke-width="1.25"/>
<rect x="1962.1" y="858.8" width="18.9" height="11.2" fill="#bebebe" stroke="#141414" stroke-width="1.25"/>
<rect x="2025.4" y="861.4" width="4" height="6" fill="#bebebe" stroke="#141414" stroke-width="1.25"/>
<path d="M1966,880.2 H2026 M2004.6,876.9 L1995.6,880.2 L2004.6,883.5" fill="none" stroke="#9c9c9c" stroke-width="1.3" stroke-linejoin="miter"/>
<rect x="1879" y="877.1" width="65" height="6.2" fill="#bebebe" stroke="#141414" stroke-width="1.25"/>
<rect x="1961" y="877.1" width="5.5" height="6.2" fill="#bebebe" stroke="#141414" stroke-width="1.25"/>
<rect x="1943.1" y="874.6" width="18.7" height="11.2" fill="#bebebe" stroke="#141414" stroke-width="1.25"/>
<rect x="2025.4" y="877.2" width="4" height="6" fill="#bebebe" stroke="#141414" stroke-width="1.25"/>
<path d="M1949,896.2 H2026 M1978.4,892.9 L1969.4,896.2 L1978.4,899.5 M2004.6,892.9 L1995.6,896.2 L2004.6,899.5" fill="none" stroke="#9c9c9c" stroke-width="1.3" stroke-linejoin="miter"/>
<rect x="1879" y="893.1" width="22" height="6.2" fill="#bebebe" stroke="#141414" stroke-width="1.25"/>
<rect x="1946.5" y="893.1" width="2.8" height="6.2" fill="#bebebe" stroke="#141414" stroke-width="1.25"/>
<rect x="1900.3" y="890.6" width="47.2" height="11.2" fill="#bebebe" stroke="#141414" stroke-width="1.25"/>
<rect x="2025.4" y="893.2" width="4" height="6" fill="#bebebe" stroke="#141414" stroke-width="1.25"/>
<path d="M1900,912.2 H2026 M1925.9,908.9 L1916.9,912.2 L1925.9,915.5 M1978.4,908.9 L1969.4,912.2 L1978.4,915.5 M2004.6,908.9 L1995.6,912.2 L2004.6,915.5" fill="none" stroke="#9c9c9c" stroke-width="1.3" stroke-linejoin="miter"/>
<rect x="1879" y="909.1" width="6.5" height="6.2" fill="#bebebe" stroke="#141414" stroke-width="1.25"/>
<rect x="1884.8" y="906.6" width="15.5" height="11.2" fill="#bebebe" stroke="#141414" stroke-width="1.25"/>
<rect x="1946.5" y="909.1" width="2.8" height="6.2" fill="#bebebe" stroke="#141414" stroke-width="1.25"/>
<rect x="1938.2" y="906.6" width="9.3" height="11.2" fill="#bebebe" stroke="#141414" stroke-width="1.25"/>
<rect x="2025.4" y="909.2" width="4" height="6" fill="#bebebe" stroke="#141414" stroke-width="1.25"/>
</g>
<text x="378.8" y="894.5" font-size="24.7">IVa2</text>
<text x="561.3" y="888.8" font-size="24.7">E2B</text>
<text x="1278.8" y="888.8" font-size="24.7">E2A</text>
<text x="1746" y="942.6" font-size="24.7">UXP</text>
<text x="1940" y="942.6" font-size="24.7">E4</text>
<g id="rvtracks">
<rect x="360" y="929.5" width="8.75" height="25.5" fill="#a020f0" rx="1.5"/>
<rect x="372.5" y="929.5" width="5" height="25.5" fill="#a020f0" rx="1.5"/>
<rect x="398.25" y="929.5" width="5" height="25.5" fill="#a020f0" rx="1.5"/>
<rect x="409.5" y="929.5" width="13" height="25.5" fill="#a020f0" rx="1.5"/>
<rect x="425.5" y="929.5" width="5" height="25.5" fill="#a020f0" rx="1.5"/>
<rect x="448.25" y="929.5" width="5" height="25.5" fill="#a020f0" rx="1.5"/>
<rect x="1348.25" y="929.5" width="6.25" height="25.5" fill="#a020f0" rx="1.5"/>
<rect x="1378" y="929.5" width="4.5" height="25.5" fill="#a020f0" rx="1.5"/>
<rect x="1385" y="929.5" width="5" height="25.5" fill="#a020f0" rx="1.5"/>
<rect x="1399" y="929.5" width="5" height="25.5" fill="#a020f0" rx="1.5"/>
<rect x="360" y="959.5" width="8.75" height="26" fill="#551a8b" rx="1.5"/>
<rect x="372.5" y="959.5" width="5" height="26" fill="#551a8b" rx="1.5"/>
<rect x="391.5" y="959.5" width="5" height="26" fill="#551a8b" rx="1.5"/>
<rect x="398.25" y="959.5" width="5" height="26" fill="#551a8b" rx="1.5"/>
<rect x="409.5" y="959.5" width="13" height="26" fill="#551a8b" rx="1.5"/>
<rect x="425.5" y="959.5" width="5" height="26" fill="#551a8b" rx="1.5"/>
<rect x="1348.25" y="959.5" width="6.25" height="26" fill="#551a8b" rx="1.5"/>
<rect x="1385" y="959.5" width="5" height="26" fill="#551a8b" rx="1.5"/>
<rect x="1399" y="959.5" width="5" height="26" fill="#551a8b" rx="1.5"/>
<rect x="363" y="991.3" width="93.25" height="23.2" fill="#0000ff"/>
<rect x="492" y="991.3" width="8.5" height="23.2" fill="#0000ff"/>
<rect x="943.5" y="991.3" width="12.5" height="23.2" fill="#0000ff"/>
<rect x="1377" y="991.3" width="32.75" height="23.2" fill="#0000ff"/>
<rect x="1781" y="991.3" width="8.5" height="23.2" fill="#0000ff"/>
<rect x="1882.8" y="991.3" width="101.2" height="23.2" fill="#0000ff"/>
</g>
<text x="80.5" y="946" text-anchor="middle" font-size="24.7">Isoform</text>
<text x="80.5" y="976.5" text-anchor="middle" font-size="24.7">Exome</text>
<text x="80.5" y="1006.5" text-anchor="middle" font-size="24.7">meRIP</text>
<text text-anchor="middle" transform="translate(20,954) rotate(-90)" font-size="24.7">dRNA</text>
<line x1="28.8" y1="926" x2="28.8" y2="982.5" stroke="#000" stroke-width="3.5"/>
<g id="revcov">
<polygon points="356.8,1028.4 356.8,1028.42 357.65,1061.28 358.85,1112.73 359.36,1181.18 359.7,1199.58 361.41,1200.92 362.69,1203.31 363.97,1203.58 365.1,1204.53 366.24,1203.06 367.38,1204.55 368.66,1204.75 369.94,1204.49 371.64,1199.85 373.35,1198.13 374.63,1194.65 375.91,1196.72 377.61,1191.12 378.98,1184.75 378.81,1177.96 378.46,1164.91 379.32,1151.12 381.02,1143.75 382.39,1145.13 383.58,1149.38 384.43,1129.87 385.29,1121.17 386.65,1128.17 387.85,1134.27 388.7,1118.22 389.04,1112.53 389.72,1129.07 390.41,1147.36 391.26,1159.4 392.96,1171.67 394.24,1173.34 395.52,1180.71 395.86,1188.12 397.57,1192.54 398.93,1192.66 400.64,1191.36 402.35,1187.61 404.05,1192.37 405.76,1202.49 407.12,1212.65 408.32,1223.85 409.17,1236.77 410.02,1241.8 411.73,1236.65 413.43,1234.86 415.14,1229.79 416.42,1232.15 417.7,1228.61 419.4,1231.71 421.11,1231.38 421.96,1219.29 422.81,1213.6 424.52,1207.78 425.37,1207.08 426.57,1193.7 427.59,1185.87 427.93,1181.06 428.78,1155 429.64,1130.25 430.49,1095.48 431,1077.67 431,1035.57 432.2,1036.43 433.48,1038.21 434.75,1039.81 436.46,1041.62 437.48,1039.86 438.51,1038.08 439.62,1037.63 440.72,1036.87 442,1035.47 443.28,1033.88 444.14,1032.17 444.65,1072.76 444.99,1145.05 445.84,1148.16 446.7,1145.49 447.55,1144.36 448.4,1144.21 449.25,1144.73 450.11,1132.79 450.62,1126.69 451.13,1094.78 451.47,1078.22 452.15,1044.06 452.84,1032.17 453.52,1031.83 454.74,1031.78 455.95,1031.74 457.17,1031.69 458.39,1031.64 459.61,1031.59 460.83,1031.54 462.05,1031.49 463.27,1031.44 464.48,1031.4 465.7,1031.35 466.92,1031.3 468.14,1031.25 469.36,1031.2 470.58,1031.15 471.79,1031.1 473.01,1031.05 474.23,1031.01 475.45,1030.96 476.67,1030.91 477.89,1030.86 479.1,1030.81 480.38,1030.98 481.66,1031.15 482.94,1031.32 484.22,1031.49 485.5,1031.83 486.78,1032.17 488.06,1032.52 489.34,1032.86 490.62,1032.6 491.9,1032.35 493.18,1032.09 494.46,1031.83 495.74,1031.75 497.01,1031.66 498.29,1031.58 499.57,1031.49 500.85,1031.41 502.13,1031.32 503.41,1031.24 504.69,1031.15 506,1031.13 507.32,1031.1 508.63,1031.07 509.94,1031.05 511.25,1031.02 512.56,1030.99 513.88,1030.97 515.19,1030.94 516.5,1030.92 517.81,1030.89 519.12,1030.86 520.44,1030.84 521.75,1030.81 523.11,1030.95 524.48,1031.08 525.84,1031.22 527.21,1031.36 528.57,1031.49 529.94,1031.63 531.3,1031.77 532.67,1031.9 534.03,1032.04 535.39,1032.17 536.76,1031.97 538.12,1031.77 539.49,1031.56 540.85,1031.36 542.22,1031.15 543.58,1031.01 544.95,1030.88 546.31,1030.74 547.68,1030.61 549.04,1030.47 550.41,1030.33 551.77,1030.2 553.13,1030.06 554.5,1029.92 555.86,1029.79 557.18,1029.71 558.49,1029.63 559.8,1029.55 561.11,1029.47 562.42,1029.39 563.74,1029.31 565.05,1029.24 566.36,1029.16 567.67,1029.08 568.98,1029 570.3,1028.92 571.61,1028.84 572.92,1028.76 572.92,1028.42 572.92,1028.4" fill="#cc0c0c"/>
<polygon points="356.8,1028.4 356.8,1028.42 357.31,1044.32 358,1060.86 358.85,1096.48 359.7,1125.15 360.55,1136.68 361.41,1145.68 362.77,1139.63 363.97,1134.54 365.67,1147.11 367.04,1134.42 368.23,1128.84 369.59,1142.23 370.79,1152.99 371.98,1143.64 373.35,1135.6 374.71,1152.79 375.91,1166.35 377.1,1163.9 378.46,1154.57 379.83,1143.1 381.02,1127.48 382.39,1114.73 383.58,1101.41 384.43,1089.43 385.29,1078.23 386.65,1076.29 387.85,1075.53 388.7,1064.2 389.55,1057.72 390.41,1069.75 391.26,1082.18 392.11,1092.52 392.96,1100.83 394.16,1096.58 395.52,1094.82 397.23,1101.09 398.93,1109.17 400.64,1099.16 402.35,1090.77 403.71,1082.62 404.9,1078.11 406.1,1087.4 407.46,1093.79 409.17,1085.89 410.87,1081.56 412.58,1073.8 413.94,1065.89 415.14,1062.45 416.33,1071.07 417.7,1082.07 418.55,1092.75 419.4,1101.09 420.26,1106.14 421.11,1108.97 422.47,1104.14 423.67,1100.47 425.37,1089.33 427.08,1081.28 428.27,1077.61 429.64,1075.7 430.49,1070.08 431,1065.69 431,1028.42 431,1028.4" fill="#f9c30a"/>
<polygon points="444.31,1028.4 444.31,1028.42 444.65,1052.87 444.99,1072.76 446.35,1068.75 447.55,1064.93 448.91,1059.65 450.11,1054.47 450.96,1047.5 451.81,1040.63 452.67,1028.42 452.67,1028.4" fill="#f9c30a"/>
<polygon points="250.53,1028.4 250.53,1028.42 253.94,1033.03 257.36,1030.47 259.06,1028.42 259.06,1028.4" fill="#cc0c0c"/>
<polygon points="253.09,1028.4 253.09,1028.42 254.8,1031.32 256.5,1028.42 256.5,1028.4" fill="#f9c30a"/>
<polygon points="1376.23,1028.4 1376.23,1028.42 1377.08,1066.45 1378.27,1080.17 1379.3,1071.03 1380.49,1066.16 1381.34,1085.94 1382.2,1098.49 1383.39,1101.03 1384.75,1100.82 1385.61,1107.23 1386.46,1112.68 1387.31,1113.96 1388.17,1114.82 1389.02,1126.3 1389.87,1131.67 1390.72,1128.41 1391.58,1120.28 1392.43,1105.36 1393.28,1095.44 1394.65,1088.91 1395.84,1084.92 1397.04,1072.75 1398.4,1061.39 1400.11,1052.92 1401.81,1028.42 1401.81,1028.4" fill="#cc0c0c"/>
<polygon points="1412.05,1028.4 1412.05,1028.42 1412.9,1047.53 1413.41,1061.17 1413.75,1065.44 1415.46,1065.44 1416.14,1054.35 1416.82,1044.12 1417.51,1028.42 1417.51,1028.4" fill="#cc0c0c"/>
<polygon points="1423.13,1028.4 1423.13,1028.42 1425.69,1037.29 1427.4,1043.26 1429.1,1039 1431.66,1028.42 1431.66,1028.4" fill="#cc0c0c"/>
<polygon points="1447.87,1028.4 1447.87,1028.42 1448.21,1037.29 1449.57,1061.17 1450.94,1064.58 1452.64,1052.64 1453.84,1032.17 1459.81,1030.13 1461.51,1028.42 1461.51,1028.4" fill="#cc0c0c"/>
<polygon points="1509.96,1028.4 1509.96,1028.42 1510.64,1044.12 1511.83,1046.67 1513.54,1044.12 1515.25,1028.42 1515.25,1028.4" fill="#cc0c0c"/>
<polygon points="1528.89,1028.4 1528.89,1028.42 1531.45,1032.52 1534.86,1028.42 1534.86,1028.4" fill="#cc0c0c"/>
<polygon points="1556.18,1028.4 1556.18,1028.42 1559.08,1046.67 1560.79,1048.89 1563.01,1046.67 1568.12,1030.47 1568.98,1028.42 1568.98,1028.4" fill="#cc0c0c"/>
<polygon points="1327.61,1028.4 1327.61,1028.42 1328.46,1044.29 1329.32,1061.43 1330.17,1078.93 1331.54,1083.74 1332.73,1086.23 1333.92,1078.14 1335.29,1074.47 1336.65,1068.2 1337.85,1062.32 1339.04,1061.07 1340.41,1058.09 1341.26,1066.61 1342.11,1064.77 1343.82,1059.16 1345.52,1055.97 1346.89,1059.41 1348.08,1063.05 1349.79,1055.96 1351.49,1052.81 1352.52,1052.19 1353.54,1050.65 1354.65,1050.22 1355.76,1049.46 1357.04,1047.87 1358.32,1046.67 1359.59,1046.15 1360.87,1044.66 1362.15,1046.71 1363.43,1048.11 1364.71,1050.76 1365.99,1053.07 1367.7,1055.22 1369.4,1055.61 1370.26,1061.27 1371.11,1064.64 1372.47,1065.76 1373.67,1062.9 1375.37,1068.22 1377.08,1071.97 1378.78,1067.18 1380.49,1064.45 1381.68,1068.71 1383.05,1070.91 1384.75,1076.88 1386.46,1081.41 1388.17,1088.23 1389.87,1092.6 1391.58,1089.63 1393.28,1083.03 1394.99,1074 1396.7,1065.95 1398.4,1059.34 1400.11,1052.17 1401.81,1051.71 1403.52,1050.87 1404.88,1055.42 1406.08,1053.35 1407.27,1049.88 1408.64,1047.32 1410.34,1045.99 1412.05,1044.39 1413.41,1047.55 1414.61,1046.47 1415.46,1044.3 1416.31,1042.35 1417.16,1028.42 1417.16,1028.4" fill="#f9c30a"/>
<polygon points="1286.67,1028.4 1286.67,1028.42 1289.23,1031.83 1291.79,1034.22 1294.01,1031.83 1296.06,1028.42 1296.06,1028.4" fill="#f9c30a"/>
<polygon points="1313.97,1028.4 1313.97,1028.42 1318.23,1031.83 1322.49,1028.42 1322.49,1028.4" fill="#f9c30a"/>
<polygon points="1423.65,1028.4 1423.65,1028.42 1425.69,1035.59 1428.25,1035.59 1430.81,1028.42 1430.81,1028.4" fill="#f9c30a"/>
<polygon points="1447.87,1028.4 1447.87,1028.42 1448.38,1037.29 1452.99,1037.29 1453.67,1028.42 1453.67,1028.4" fill="#f9c30a"/>
<polygon points="1509.96,1028.4 1509.96,1028.42 1510.64,1033.03 1514.73,1033.03 1515.25,1028.42 1515.25,1028.4" fill="#f9c30a"/>
<polygon points="1542.54,1028.4 1542.54,1028.42 1545.1,1034.73 1547.65,1028.42 1547.65,1028.4" fill="#f9c30a"/>
<polygon points="1556.7,1028.4 1556.7,1028.42 1559.59,1044.97 1562.15,1046.16 1566.93,1032.17 1567.61,1028.42 1567.61,1028.4" fill="#f9c30a"/>
<polygon points="938.75,1028.75 942.5,1034.5 946.25,1032.5 950,1033 955,1028.75" fill="#cc0c0c"/>
<polygon points="1017.5,1028.75 1021.25,1035 1024.25,1040.75 1027,1033.75 1032.5,1031.5 1035,1028.75" fill="#cc0c0c"/>
<polygon points="1035,1028.75 1040,1033 1045,1031.5 1050,1033.5 1055,1028.75" fill="#cc0c0c"/>
<polygon points="1087.5,1028.75 1088.75,1037.5 1091.25,1039.25 1093.75,1038 1094.25,1028.75" fill="#cc0c0c"/>
<polygon points="875,1028.75 879.5,1035 883.75,1028.75" fill="#f9c30a"/>
<polygon points="987.5,1028.75 993.75,1032.5 1000,1028.75" fill="#f9c30a"/>
<polygon points="1017.5,1028.75 1021.25,1033 1025,1032 1028.75,1028.75" fill="#f9c30a"/>
<polygon points="1046.25,1028.75 1051.25,1033.5 1055,1028.75" fill="#f9c30a"/>
<polygon points="1066.25,1028.75 1069.5,1035 1072.5,1028.75" fill="#f9c30a"/>
<polygon points="1078.75,1028.75 1082.5,1032 1085,1028.75" fill="#f9c30a"/>
<polygon points="1286.25,1028.75 1290.5,1034.5 1295,1028.75" fill="#f9c30a"/>
<polygon points="652.5,1028.75 655.5,1034 658.5,1028.75" fill="#f9c30a"/>
<polygon points="1570,1028.75 1570.5,1050 1572.5,1052.5 1574.5,1040 1575.5,1028.75" fill="#cc0c0c"/>
<polygon points="1770,1028.75 1773.75,1032.5 1778.75,1034 1782.5,1034.5 1786.25,1032.5 1787.5,1028.75" fill="#cc0c0c"/>
<polygon points="1878.75,1028.75 1880,1035 1881.25,1040 1883,1046.25 1885,1051.25 1887,1047.5 1888.75,1046.25 1892,1044.5 1895,1043.75 1898,1042 1900,1041.25 1902,1038 1903.75,1035 1907.5,1034 1912.5,1033 1920,1031.5 1930,1030.5 1936.25,1031.5 1937.5,1035.5 1941.25,1036.5 1945,1034.5 1948.75,1031.5 1952.5,1033 1956.25,1034.5 1961.25,1033.5 1965,1031.5 1971.25,1031 1975,1032.5 1980,1031.5 1982.5,1028.75" fill="#cc0c0c"/>
<polygon points="2023,1028.75 2025,1033 2027.5,1028.75" fill="#cc0c0c"/>
<polygon points="1582.5,1028.75 1587.5,1032 1592.5,1028.75" fill="#f9c30a"/>
<polygon points="1775,1028.75 1780,1032.5 1785,1028.75" fill="#f9c30a"/>
<polygon points="1805,1028.75 1808.75,1031.5 1812.5,1028.75" fill="#f9c30a"/>
<polygon points="1878.75,1028.75 1882.5,1034 1887.5,1034.5 1895,1032.5 1902.5,1031 1905,1028.75" fill="#f9c30a"/>
<polygon points="1936.25,1028.75 1938.75,1033 1943.75,1032.5 1946.25,1028.75" fill="#f9c30a"/>
<polygon points="2023.75,1028.75 2025.5,1031.5 2027.5,1028.75" fill="#f9c30a"/>
<polygon points="1509.33,1028.4 1510.5,1045.48 1512.83,1046.94 1514.58,1028.4" fill="#cc0c0c"/>
<polygon points="1568.51,1028.4 1569.97,1049.85 1572.89,1052.19 1575.22,1028.4" fill="#cc0c0c"/>
<polygon points="1555.39,1028.4 1558.31,1044.02 1561.81,1048.4 1565.6,1038.19 1568.51,1028.4" fill="#f9c30a"/>
<polygon points="1529.15,1028.4 1532.07,1031.78 1536.44,1030.03 1543.73,1028.4 1545.19,1033.82 1547.23,1028.4" fill="#f9c30a"/>
<rect x="340" y="1179.4" width="100" height="7.1" fill="#fff"/>
</g>
<line x1="146" y1="1028.3" x2="2035" y2="1028.3" stroke="#000" stroke-width="4.2"/>
<path d="M135,1041.6 V1178.6 H146.5 M135,1189.8 V1247.2 H146.5" fill="none" stroke="#000" stroke-width="4"/>
<text x="126.8" y="1034.8" font-size="25.5">0</text>
<text x="158.7" y="1187.2" font-size="25.5">8</text>
<text x="158.7" y="1255.6" font-size="25.5">35</text>
<text text-anchor="middle" transform="translate(57.2,1131.5) rotate(-90)" font-size="24.6">Reverse read depth</text>
<text text-anchor="middle" transform="translate(87.3,1132) rotate(-90)" font-size="24.6">(×1,000,000)</text>
<rect x="1912.2" y="1160.7" width="22.2" height="33.3" fill="#ffcc00"/>
<rect x="1912.2" y="1212.1" width="22.2" height="33.7" fill="#cc0000"/>
<text x="1947.4" y="1189.4" font-size="28.4">Input</text>
<text x="1946.6" y="1240.6" font-size="28.4">meRIP</text>
<text x="-2" y="1335.9" font-weight="bold" font-size="42">b</text>
<text x="336.2" y="1349.2" text-anchor="middle" font-size="33.3">Mock infected motif</text>
<line x1="86.5" y1="1363" x2="590" y2="1363" stroke="#000" stroke-width="3"/>
<rect x="243.3" y="1389.7" width="310.9" height="136.7" fill="#d2d3d5"/>
<text transform="matrix(0.89 0 0 1.2863 119.58 1481)" font-size="100" font-weight="bold" fill="#c40000">A</text>
<text transform="matrix(0.88 0 0 0.3390 118.18 1504.66)" font-size="100" font-weight="bold" fill="#ffb000">G</text>
<text transform="matrix(0.91 0 0 0.1907 118.06 1518.31)" font-size="100" font-weight="bold" fill="#2b5f9e">C</text>
<text transform="matrix(0.99 0 0 0.1074 115.84 1525.89)" font-size="100" font-weight="bold" fill="#000000">U</text>
<text transform="matrix(0.89 0 0 0.8721 181.83 1452.5)" font-size="100" font-weight="bold" fill="#c40000">A</text>
<text transform="matrix(0.99 0 0 0.6447 178.09 1496.86)" font-size="100" font-weight="bold" fill="#000000">U</text>
<text transform="matrix(0.91 0 0 0.2825 180.31 1517.22)" font-size="100" font-weight="bold" fill="#2b5f9e">C</text>
<text transform="matrix(0.88 0 0 0.1201 180.43 1525.88)" font-size="100" font-weight="bold" fill="#ffb000">G</text>
<text transform="matrix(0.88 0 0 1.2924 242.68 1482.71)" font-size="100" font-weight="bold" fill="#ffb000">G</text>
<text transform="matrix(0.89 0 0 0.5233 244.08 1520)" font-size="100" font-weight="bold" fill="#c40000">A</text>
<text transform="matrix(0.99 0 0 0.0501 240.34 1523.45)" font-size="100" font-weight="bold" fill="#000000">U</text>
<text transform="matrix(0.91 0 0 0.0353 242.56 1525.96)" font-size="100" font-weight="bold" fill="#2b5f9e">C</text>
<text transform="matrix(0.88 0 0 1.4336 304.93 1492.57)" font-size="100" font-weight="bold" fill="#ffb000">G</text>
<text transform="matrix(0.89 0 0 0.3052 306.33 1515)" font-size="100" font-weight="bold" fill="#c40000">A</text>
<text transform="matrix(0.99 0 0 0.1218 302.59 1523.38)" font-size="100" font-weight="bold" fill="#000000">U</text>
<text transform="matrix(0.91 0 0 0.0353 304.81 1525.96)" font-size="100" font-weight="bold" fill="#2b5f9e">C</text>
<text transform="matrix(0.89 0 0 1.5262 368.58 1497.5)" font-size="100" font-weight="bold" fill="#c40000">A</text>
<text transform="matrix(0.91 0 0 0.1766 367.06 1509.82)" font-size="100" font-weight="bold" fill="#2b5f9e">C</text>
<text transform="matrix(0.99 0 0 0.1791 364.84 1522.32)" font-size="100" font-weight="bold" fill="#000000">U</text>
<text transform="matrix(0.88 0 0 0.0494 367.18 1525.95)" font-size="100" font-weight="bold" fill="#ffb000">G</text>
<text transform="matrix(0.91 0 0 1.7444 429.31 1514.26)" font-size="100" font-weight="bold" fill="#2b5f9e">C</text>
<text transform="matrix(0.99 0 0 0.0716 427.09 1520.93)" font-size="100" font-weight="bold" fill="#000000">U</text>
<text transform="matrix(0.89 0 0 0.0727 430.83 1526)" font-size="100" font-weight="bold" fill="#c40000">A</text>
<text transform="matrix(0.99 0 0 1.4327 489.34 1491.07)" font-size="100" font-weight="bold" fill="#000000">U</text>
<text transform="matrix(0.89 0 0 0.3125 493.08 1514)" font-size="100" font-weight="bold" fill="#c40000">A</text>
<text transform="matrix(0.88 0 0 0.0847 491.68 1519.92)" font-size="100" font-weight="bold" fill="#ffb000">G</text>
<text transform="matrix(0.91 0 0 0.0847 491.56 1525.92)" font-size="100" font-weight="bold" fill="#2b5f9e">C</text>
<line x1="115.6" y1="1396.4" x2="115.6" y2="1526.9" stroke="#000" stroke-width="2.9"/>
<text x="69.2" y="1412.9" font-size="24.3">1.0</text>
<text x="69.2" y="1469.4" font-size="24.3">0.5</text>
<text x="69.2" y="1526.4" font-size="24.3">0.0</text>
<text x="150.82" y="1556" text-anchor="middle" font-size="23.5">1</text>
<text x="213.07" y="1556" text-anchor="middle" font-size="23.5">2</text>
<text x="275.32" y="1556" text-anchor="middle" font-size="23.5">3</text>
<text x="337.57" y="1556" text-anchor="middle" font-size="23.5">4</text>
<text x="399.82" y="1556" text-anchor="middle" font-size="23.5">5</text>
<text x="462.07" y="1556" text-anchor="middle" font-size="23.5">6</text>
<text x="524.33" y="1556" text-anchor="middle" font-size="23.5">7</text>
<text text-anchor="middle" transform="translate(42.8,1460.9) rotate(-90)" font-size="29">Probability</text>
<text x="242.5" y="1594.9" font-size="29">Rank</text>
<text x="331.5" y="1594.9" font-size="29"><tspan font-style="italic">p</tspan> value</text>
<line x1="242.3" y1="1610.2" x2="310" y2="1610.2" stroke="#000" stroke-width="2.6"/>
<line x1="331.1" y1="1610.2" x2="428.4" y2="1610.2" stroke="#000" stroke-width="2.6"/>
<text x="274.6" y="1657.6" text-anchor="middle" font-size="31">1</text>
<text x="332.7" y="1657.6" font-size="31">1e<tspan dy="-12.9" font-size="27.5">–833</tspan></text>
<text x="902.8" y="1349.2" text-anchor="middle" font-size="33.3">Ad5 infected motif</text>
<line x1="652.5" y1="1363" x2="1156" y2="1363" stroke="#000" stroke-width="3"/>
<rect x="794.3" y="1389.7" width="273.3" height="136.7" fill="#d2d3d5"/>
<text transform="matrix(0.77 0 0 1.3445 686.17 1485)" font-size="100" font-weight="bold" fill="#c40000">A</text>
<text transform="matrix(0.77 0 0 0.2331 684.95 1501.27)" font-size="100" font-weight="bold" fill="#ffb000">G</text>
<text transform="matrix(0.79 0 0 0.2472 684.85 1518.75)" font-size="100" font-weight="bold" fill="#2b5f9e">C</text>
<text transform="matrix(0.86 0 0 0.1003 682.93 1525.9)" font-size="100" font-weight="bold" fill="#000000">U</text>
<text transform="matrix(0.86 0 0 1.1605 737.33 1472.34)" font-size="100" font-weight="bold" fill="#000000">U</text>
<text transform="matrix(0.77 0 0 0.3706 740.57 1499)" font-size="100" font-weight="bold" fill="#c40000">A</text>
<text transform="matrix(0.79 0 0 0.2966 739.25 1519.7)" font-size="100" font-weight="bold" fill="#2b5f9e">C</text>
<text transform="matrix(0.77 0 0 0.0847 739.35 1525.92)" font-size="100" font-weight="bold" fill="#ffb000">G</text>
<text transform="matrix(0.77 0 0 1.4831 793.75 1496.02)" font-size="100" font-weight="bold" fill="#ffb000">G</text>
<text transform="matrix(0.77 0 0 0.2180 794.97 1512.5)" font-size="100" font-weight="bold" fill="#c40000">A</text>
<text transform="matrix(0.86 0 0 0.1074 791.73 1519.89)" font-size="100" font-weight="bold" fill="#000000">U</text>
<text transform="matrix(0.79 0 0 0.0847 793.65 1525.92)" font-size="100" font-weight="bold" fill="#2b5f9e">C</text>
<text transform="matrix(0.77 0 0 1.4831 848.15 1496.02)" font-size="100" font-weight="bold" fill="#ffb000">G</text>
<text transform="matrix(0.77 0 0 0.2907 849.37 1517.5)" font-size="100" font-weight="bold" fill="#c40000">A</text>
<text transform="matrix(0.86 0 0 0.0716 846.13 1522.43)" font-size="100" font-weight="bold" fill="#000000">U</text>
<text transform="matrix(0.79 0 0 0.0494 848.05 1525.95)" font-size="100" font-weight="bold" fill="#2b5f9e">C</text>
<text transform="matrix(0.77 0 0 1.8314 903.77 1518.5)" font-size="100" font-weight="bold" fill="#c40000">A</text>
<text transform="matrix(0.79 0 0 0.0424 902.45 1521.46)" font-size="100" font-weight="bold" fill="#2b5f9e">C</text>
<text transform="matrix(0.77 0 0 0.0282 902.55 1523.47)" font-size="100" font-weight="bold" fill="#ffb000">G</text>
<text transform="matrix(0.86 0 0 0.0358 900.53 1525.96)" font-size="100" font-weight="bold" fill="#000000">U</text>
<text transform="matrix(0.79 0 0 1.7302 956.85 1513.27)" font-size="100" font-weight="bold" fill="#2b5f9e">C</text>
<text transform="matrix(0.86 0 0 0.1074 954.93 1522.39)" font-size="100" font-weight="bold" fill="#000000">U</text>
<text transform="matrix(0.77 0 0 0.0291 958.17 1524.5)" font-size="100" font-weight="bold" fill="#c40000">A</text>
<text transform="matrix(0.77 0 0 0.0212 956.95 1525.98)" font-size="100" font-weight="bold" fill="#ffb000">G</text>
<text transform="matrix(0.86 0 0 1.2178 1009.33 1476.28)" font-size="100" font-weight="bold" fill="#000000">U</text>
<text transform="matrix(0.77 0 0 0.3270 1012.57 1500)" font-size="100" font-weight="bold" fill="#c40000">A</text>
<text transform="matrix(0.79 0 0 0.2119 1011.25 1514.79)" font-size="100" font-weight="bold" fill="#2b5f9e">C</text>
<text transform="matrix(0.77 0 0 0.1554 1011.35 1525.84)" font-size="100" font-weight="bold" fill="#ffb000">G</text>
<text transform="matrix(0.77 0 0 1.2147 1065.75 1477.29)" font-size="100" font-weight="bold" fill="#ffb000">G</text>
<text transform="matrix(0.86 0 0 0.3080 1063.73 1499.69)" font-size="100" font-weight="bold" fill="#000000">U</text>
<text transform="matrix(0.77 0 0 0.2398 1066.97 1516.5)" font-size="100" font-weight="bold" fill="#c40000">A</text>
<text transform="matrix(0.79 0 0 0.1342 1065.65 1525.87)" font-size="100" font-weight="bold" fill="#2b5f9e">C</text>
<line x1="682.3" y1="1396.4" x2="682.3" y2="1526.9" stroke="#000" stroke-width="2.9"/>
<text x="635.2" y="1412.9" font-size="24.3">1.0</text>
<text x="635.2" y="1469.4" font-size="24.3">0.5</text>
<text x="635.2" y="1526.4" font-size="24.3">0.0</text>
<text x="713.5" y="1556" text-anchor="middle" font-size="23.5">1</text>
<text x="767.9" y="1556" text-anchor="middle" font-size="23.5">2</text>
<text x="822.3" y="1556" text-anchor="middle" font-size="23.5">3</text>
<text x="876.7" y="1556" text-anchor="middle" font-size="23.5">4</text>
<text x="931.1" y="1556" text-anchor="middle" font-size="23.5">5</text>
<text x="985.5" y="1556" text-anchor="middle" font-size="23.5">6</text>
<text x="1039.9" y="1556" text-anchor="middle" font-size="23.5">7</text>
<text x="1094.3" y="1556" text-anchor="middle" font-size="23.5">8</text>
<text x="814" y="1594.9" font-size="29">Rank</text>
<text x="904.5" y="1594.9" font-size="29"><tspan font-style="italic">p</tspan> value</text>
<line x1="814" y1="1610.2" x2="881.5" y2="1610.2" stroke="#000" stroke-width="2.6"/>
<line x1="903" y1="1610.2" x2="1000" y2="1610.2" stroke="#000" stroke-width="2.6"/>
<text x="845.6" y="1657.6" text-anchor="middle" font-size="31">1</text>
<text x="904" y="1657.6" font-size="31">1e<tspan dy="-12.9" font-size="27.5">–338</tspan></text>
<text x="-1.2" y="1711.7" font-weight="bold" font-size="42">c</text>
<text x="627.9" y="1723.3" font-size="33.4" text-anchor="middle">Cellular m<tspan dy="-10" font-size="20">6</tspan><tspan dy="10">A distribution</tspan></text>
<line x1="110" y1="1736" x2="1150.7" y2="1736" stroke="#000" stroke-width="3"/>
<text x="112.3" y="1768.8" font-size="29">Mock infected</text>
<text x="684.3" y="1768.8" font-size="29">Ad5 infected</text>
<text transform="translate(22.5,1942.5) rotate(-90)" font-size="29.2" text-anchor="middle">% of m<tspan dy="-9" font-size="17.5">6</tspan><tspan dy="9">A peaks</tspan></text>
<rect x="111.2" y="1776.3" width="467.2" height="331.7" fill="none" stroke="#6e6e6e" stroke-width="2.5"/>
<line x1="274.3" y1="1780.7" x2="274.3" y2="2103.8" stroke="#5a5a5a" stroke-width="2" stroke-dasharray="2 3.2"/>
<line x1="416" y1="1780.7" x2="416" y2="2103.8" stroke="#5a5a5a" stroke-width="2" stroke-dasharray="2 3.2"/>
<path d="M133.6,2092.3 V2086.24 H134.6 V2087.15 H135.6 V2086.8 H136.6 V2087.28 H137.6 V2087.98 H138.6 V2088.59 H139.6 V2088.82 H140.6 V2089.18 H141.6 V2088.44 H142.6 V2089.08 H143.6 V2088.8 H144.6 V2088.64 H145.6 V2088.66 H146.6 V2089.02 H147.6 V2089.21 H148.6 V2088.98 H149.6 V2089.41 H150.6 V2088.73 H151.6 V2089.21 H152.6 V2088.75 H153.6 V2089.32 H154.6 V2089.23 H155.6 V2089.37 H156.6 V2089.22 H157.6 V2089.46 H158.6 V2089.64 H159.6 V2088.99 H160.6 V2089.41 H161.6 V2089.46 H162.6 V2089.42 H163.6 V2089.27 H164.6 V2089.33 H165.6 V2089.16 H166.6 V2089.15 H167.6 V2089.43 H168.6 V2088.94 H169.6 V2089.02 H170.6 V2089.74 H171.6 V2089.08 H172.6 V2089.02 H173.6 V2089.15 H174.6 V2089.72 H175.6 V2089.14 H176.6 V2089.32 H177.6 V2089.86 H178.6 V2089.88 H179.6 V2089.09 H180.6 V2089.36 H181.6 V2089.71 H182.6 V2089.85 H183.6 V2089.83 H184.6 V2089.76 H185.6 V2089.33 H186.6 V2089.7 H187.6 V2089.87 H188.6 V2089.27 H189.6 V2089.37 H190.6 V2089.89 H191.6 V2089.32 H192.6 V2089.56 H193.6 V2089.44 H194.6 V2089.54 H195.6 V2089.38 H196.6 V2089.47 H197.6 V2089.45 H198.6 V2089.96 H199.6 V2089.58 H200.6 V2089.7 H201.6 V2089.53 H202.6 V2089.76 H203.6 V2089.41 H204.6 V2089.66 H205.6 V2089.88 H206.6 V2089.9 H207.6 V2089.97 H208.6 V2089.69 H209.6 V2090.03 H210.6 V2089.7 H211.6 V2089.95 H212.6 V2089.67 H213.6 V2089.66 H214.6 V2089.62 H215.6 V2089.36 H216.6 V2090.03 H217.6 V2089.36 H218.6 V2089.65 H219.6 V2089.57 H220.6 V2089.48 H221.6 V2089.34 H222.6 V2089.71 H223.6 V2089.67 H224.6 V2089.22 H225.6 V2089.93 H226.6 V2089.47 H227.6 V2089.47 H228.6 V2089.96 H229.6 V2089.48 H230.6 V2089.41 H231.6 V2089.2 H232.6 V2089.69 H233.6 V2089.14 H234.6 V2089.53 H235.6 V2089.54 H236.6 V2089.19 H237.6 V2089.91 H238.6 V2089.33 H239.6 V2089.4 H240.6 V2089.64 H241.6 V2089.19 H242.6 V2089.6 H243.6 V2089.51 H244.6 V2089.46 H245.6 V2089.24 H246.6 V2089.71 H247.6 V2089.52 H248.6 V2089.52 H249.6 V2089.4 H250.6 V2089.16 H251.6 V2089.61 H252.6 V2089.15 H253.6 V2089.51 H254.6 V2089.42 H255.6 V2089.61 H256.6 V2089.4 H257.6 V2088.99 H258.6 V2089.26 H259.6 V2089.13 H260.6 V2089.53 H261.6 V2089.54 H262.6 V2089.55 H263.6 V2089.29 H264.6 V2089.24 H265.6 V2089.1 H266.6 V2089.75 H267.6 V2089.14 H268.6 V2088.99 H269.6 V2089.29 H270.6 V2089.72 H271.6 V2089.49 H272.6 V2089.75 H273.6 V1957.54 H274.6 V1957.54 H275.6 V2037 H276.6 V2040.21 H277.6 V2047.16 H278.6 V2050.34 H279.6 V2060.52 H280.6 V2065.04 H281.6 V2068.53 H282.6 V2068.25 H283.6 V2070.01 H284.6 V2069.56 H285.6 V2075.39 H286.6 V2070.79 H287.6 V2073.64 H288.6 V2071.96 H289.6 V2079.51 H290.6 V2079.75 H291.6 V2081.8 H292.6 V2077 H293.6 V2075.98 H294.6 V2077.92 H295.6 V2080.06 H296.6 V2076.72 H297.6 V2077.01 H298.6 V2078.68 H299.6 V2080.93 H300.6 V2080.62 H301.6 V2079.76 H302.6 V2080.53 H303.6 V2079.72 H304.6 V2078.19 H305.6 V2076.08 H306.6 V2082.51 H307.6 V2078.79 H308.6 V2082.65 H309.6 V2082.08 H310.6 V2077.07 H311.6 V2078.8 H312.6 V2076.32 H313.6 V2079.76 H314.6 V2082.9 H315.6 V2080.22 H316.6 V2078.76 H317.6 V2076.28 H318.6 V2075.99 H319.6 V2079.64 H320.6 V2080.03 H321.6 V2082.23 H322.6 V2078.23 H323.6 V2081.33 H324.6 V2081.73 H325.6 V2082.68 H326.6 V2082.72 H327.6 V2077.61 H328.6 V2081.76 H329.6 V2075.35 H330.6 V2081.91 H331.6 V2075.93 H332.6 V2081.51 H333.6 V2082.31 H334.6 V2076.86 H335.6 V2080.48 H336.6 V2076.61 H337.6 V2080.8 H338.6 V2081.83 H339.6 V2076.08 H340.6 V2076.48 H341.6 V2075.28 H342.6 V2076.21 H343.6 V2081.31 H344.6 V2076.87 H345.6 V2076.15 H346.6 V2078.1 H347.6 V2074.18 H348.6 V2079.66 H349.6 V2073.75 H350.6 V2075.71 H351.6 V2081.51 H352.6 V2081.43 H353.6 V2076.04 H354.6 V2074.56 H355.6 V2080.73 H356.6 V2078.71 H357.6 V2075.07 H358.6 V2079.83 H359.6 V2073.77 H360.6 V2076.9 H361.6 V2080.52 H362.6 V2077.73 H363.6 V2075.79 H364.6 V2076.89 H365.6 V2074.63 H366.6 V2079.33 H367.6 V2073.29 H368.6 V2077.14 H369.6 V2074.43 H370.6 V2074.45 H371.6 V2076.31 H372.6 V2076.5 H373.6 V2072.58 H374.6 V2070.92 H375.6 V2072.31 H376.6 V2074.29 H377.6 V2076.85 H378.6 V2079.03 H379.6 V2069.87 H380.6 V2072.41 H381.6 V2071.02 H382.6 V2075.9 H383.6 V2072.99 H384.6 V2069.03 H385.6 V2070.38 H386.6 V2072.63 H387.6 V2075.56 H388.6 V2074.17 H389.6 V2069.15 H390.6 V2074.47 H391.6 V2071.02 H392.6 V2071.77 H393.6 V2068.41 H394.6 V2069.16 H395.6 V2074.37 H396.6 V2077.09 H397.6 V2073.39 H398.6 V2070.74 H399.6 V2067.87 H400.6 V2063.95 H401.6 V2061.91 H402.6 V2072.5 H403.6 V2058.6 H404.6 V2056.73 H405.6 V2053.2 H406.6 V2054.75 H407.6 V2057.22 H408.6 V2037.69 H409.6 V2030.7 H410.6 V2025.96 H411.6 V2006.06 H412.6 V2001.19 H413.6 V1995.76 H414.6 V1790.7 H415.6 V1790.7 H416.6 V2062.46 H417.6 V2052.57 H418.6 V2050.25 H419.6 V2064.29 H420.6 V2058.37 H421.6 V2057.84 H422.6 V2062.21 H423.6 V2067.2 H424.6 V2066.94 H425.6 V2059.47 H426.6 V2059.68 H427.6 V2066.69 H428.6 V2073.47 H429.6 V2065.5 H430.6 V2067.67 H431.6 V2075.25 H432.6 V2071.9 H433.6 V2069.06 H434.6 V2069.79 H435.6 V2074.05 H436.6 V2074.97 H437.6 V2074.35 H438.6 V2078.55 H439.6 V2078.86 H440.6 V2079.12 H441.6 V2074.64 H442.6 V2077.82 H443.6 V2076.23 H444.6 V2077.8 H445.6 V2076.99 H446.6 V2080.26 H447.6 V2081.26 H448.6 V2073.58 H449.6 V2078.84 H450.6 V2081.14 H451.6 V2077.1 H452.6 V2076.06 H453.6 V2081.13 H454.6 V2077.87 H455.6 V2079.83 H456.6 V2078.52 H457.6 V2082.35 H458.6 V2082.27 H459.6 V2075.03 H460.6 V2076.01 H461.6 V2078.91 H462.6 V2078.33 H463.6 V2080.66 H464.6 V2076.8 H465.6 V2079.47 H466.6 V2075.61 H467.6 V2076.98 H468.6 V2076.63 H469.6 V2075.58 H470.6 V2080.88 H471.6 V2082.5 H472.6 V2081.32 H473.6 V2081.49 H474.6 V2082.23 H475.6 V2082.49 H476.6 V2078.8 H477.6 V2076.53 H478.6 V2079.58 H479.6 V2076.04 H480.6 V2076.35 H481.6 V2082.51 H482.6 V2078.67 H483.6 V2080.15 H484.6 V2082.17 H485.6 V2076.15 H486.6 V2081.23 H487.6 V2079.05 H488.6 V2078.53 H489.6 V2076.31 H490.6 V2078.38 H491.6 V2080.37 H492.6 V2080.01 H493.6 V2082.07 H494.6 V2076.4 H495.6 V2076.25 H496.6 V2081.7 H497.6 V2083.01 H498.6 V2081.51 H499.6 V2080.86 H500.6 V2077.04 H501.6 V2077.06 H502.6 V2077.56 H503.6 V2083.06 H504.6 V2077.97 H505.6 V2078.53 H506.6 V2078.99 H507.6 V2076.69 H508.6 V2083.1 H509.6 V2082.51 H510.6 V2078.36 H511.6 V2077.13 H512.6 V2078.95 H513.6 V2081.54 H514.6 V2079.58 H515.6 V2078.48 H516.6 V2082.91 H517.6 V2081.46 H518.6 V2081.93 H519.6 V2082.85 H520.6 V2080.55 H521.6 V2082.71 H522.6 V2082.33 H523.6 V2083.02 H524.6 V2079.66 H525.6 V2084.01 H526.6 V2079.61 H527.6 V2082.99 H528.6 V2084.06 H529.6 V2078.6 H530.6 V2083.05 H531.6 V2078.78 H532.6 V2079.3 H533.6 V2079.27 H534.6 V2083.82 H535.6 V2082.08 H536.6 V2084.21 H537.6 V2079.45 H538.6 V2080.05 H539.6 V2081.37 H540.6 V2082.45 H541.6 V2083.16 H542.6 V2080.54 H543.6 V2082.54 H544.6 V2081.8 H545.6 V2084.52 H546.6 V2084.16 H547.6 V2085.11 H548.6 V2081.67 H549.6 V2082.6 H550.6 V2084.82 H551.6 V2081.11 H552.6 V2084.31 H553.6 V2083.63 H554.6 V2085 H555.6 V2084.47 H556 V2092.3 Z" fill="#5a5a5a"/>
<text x="96.3" y="1843.5" text-anchor="end" font-size="25">0.06</text>
<line x1="106.7" y1="1835.6" x2="110.2" y2="1835.6" stroke="#333" stroke-width="1.8"/>
<text x="96.3" y="1929.3" text-anchor="end" font-size="25">0.04</text>
<line x1="106.7" y1="1921.4" x2="110.2" y2="1921.4" stroke="#333" stroke-width="1.8"/>
<text x="96.3" y="2015.1" text-anchor="end" font-size="25">0.02</text>
<line x1="106.7" y1="2007.2" x2="110.2" y2="2007.2" stroke="#333" stroke-width="1.8"/>
<text x="96.3" y="2100.2" text-anchor="end" font-size="25">0.00</text>
<line x1="106.7" y1="2092.3" x2="110.2" y2="2092.3" stroke="#333" stroke-width="1.8"/>
<path d="M132.5,2130 V2114.7 H556 V2130 M274.3,2114.7 V2130 M416,2114.7 V2130" fill="none" stroke="#000" stroke-width="2.7"/>
<text x="200.9" y="2144.6" text-anchor="middle" font-size="25">5’ UTR</text>
<text x="346.8" y="2144.6" text-anchor="middle" font-size="25">CDS</text>
<text x="490.3" y="2144.6" text-anchor="middle" font-size="25">3’ UTR</text>
<rect x="683" y="1776.3" width="466.5" height="331.7" fill="none" stroke="#6e6e6e" stroke-width="2.5"/>
<line x1="845.6" y1="1780.7" x2="845.6" y2="2103.8" stroke="#5a5a5a" stroke-width="2" stroke-dasharray="2 3.2"/>
<line x1="987.4" y1="1780.7" x2="987.4" y2="2103.8" stroke="#5a5a5a" stroke-width="2" stroke-dasharray="2 3.2"/>
<path d="M704.8,2092.3 V2086.84 H705.8 V2088.12 H706.8 V2088.69 H707.8 V2088.42 H708.8 V2088.9 H709.8 V2088.28 H710.8 V2089.53 H711.8 V2088.62 H712.8 V2089.9 H713.8 V2089.12 H714.8 V2089.49 H715.8 V2089.98 H716.8 V2089.71 H717.8 V2089.92 H718.8 V2089.96 H719.8 V2090.03 H720.8 V2089.87 H721.8 V2089.24 H722.8 V2089.25 H723.8 V2089.34 H724.8 V2090.18 H725.8 V2090 H726.8 V2089.4 H727.8 V2090.25 H728.8 V2089.6 H729.8 V2090.04 H730.8 V2089.37 H731.8 V2090.33 H732.8 V2089.57 H733.8 V2090.03 H734.8 V2090.24 H735.8 V2090.38 H736.8 V2089.59 H737.8 V2089.89 H738.8 V2090.23 H739.8 V2090 H740.8 V2089.56 H741.8 V2090.22 H742.8 V2089.91 H743.8 V2090.32 H744.8 V2090.29 H745.8 V2089.75 H746.8 V2089.82 H747.8 V2090.3 H748.8 V2090.41 H749.8 V2090.42 H750.8 V2089.96 H751.8 V2090.07 H752.8 V2090.27 H753.8 V2090.34 H754.8 V2089.99 H755.8 V2089.92 H756.8 V2089.84 H757.8 V2090.05 H758.8 V2090.39 H759.8 V2090.52 H760.8 V2089.95 H761.8 V2090.24 H762.8 V2089.98 H763.8 V2090.56 H764.8 V2089.93 H765.8 V2090.34 H766.8 V2089.92 H767.8 V2089.91 H768.8 V2090.23 H769.8 V2090.63 H770.8 V2089.91 H771.8 V2090.27 H772.8 V2089.96 H773.8 V2090.46 H774.8 V2090.53 H775.8 V2090.02 H776.8 V2090.4 H777.8 V2090.57 H778.8 V2090.42 H779.8 V2090.24 H780.8 V2090.7 H781.8 V2090.28 H782.8 V2090.34 H783.8 V2090.27 H784.8 V2090.58 H785.8 V2090.09 H786.8 V2090 H787.8 V2089.95 H788.8 V2090.39 H789.8 V2090.05 H790.8 V2090.32 H791.8 V2090 H792.8 V2090.57 H793.8 V2089.88 H794.8 V2089.8 H795.8 V2090.18 H796.8 V2090.15 H797.8 V2090.13 H798.8 V2090.11 H799.8 V2090.55 H800.8 V2089.72 H801.8 V2090.36 H802.8 V2090.38 H803.8 V2090.45 H804.8 V2090.31 H805.8 V2089.79 H806.8 V2090.49 H807.8 V2090.42 H808.8 V2089.87 H809.8 V2090.31 H810.8 V2090.47 H811.8 V2089.93 H812.8 V2089.94 H813.8 V2089.98 H814.8 V2089.8 H815.8 V2090.35 H816.8 V2089.62 H817.8 V2089.75 H818.8 V2090.37 H819.8 V2090.29 H820.8 V2089.93 H821.8 V2089.91 H822.8 V2090.11 H823.8 V2090.26 H824.8 V2089.97 H825.8 V2090.22 H826.8 V2089.77 H827.8 V2089.5 H828.8 V2090.19 H829.8 V2089.76 H830.8 V2089.57 H831.8 V2090.14 H832.8 V2089.47 H833.8 V2089.34 H834.8 V2089.88 H835.8 V2089.84 H836.8 V2089.4 H837.8 V2089.71 H838.8 V2089.83 H839.8 V2089.26 H840.8 V2089.42 H841.8 V2089.86 H842.8 V2089.95 H843.8 V2089.84 H844.8 V2088.82 H845.8 V2003.24 H846.8 V2003.24 H847.8 V2047.64 H848.8 V2060.8 H849.8 V2066.92 H850.8 V2082.1 H851.8 V2077.95 H852.8 V2074.58 H853.8 V2076.01 H854.8 V2082.93 H855.8 V2081.64 H856.8 V2080.11 H857.8 V2082.78 H858.8 V2081.69 H859.8 V2085.72 H860.8 V2083.09 H861.8 V2082.83 H862.8 V2086.61 H863.8 V2085.75 H864.8 V2079.65 H865.8 V2081.09 H866.8 V2079.94 H867.8 V2082.19 H868.8 V2080.92 H869.8 V2080.4 H870.8 V2080.42 H871.8 V2086.61 H872.8 V2082.23 H873.8 V2084.96 H874.8 V2082 H875.8 V2084.94 H876.8 V2083.02 H877.8 V2080.3 H878.8 V2082.49 H879.8 V2085.16 H880.8 V2083.25 H881.8 V2083.89 H882.8 V2080.23 H883.8 V2084.95 H884.8 V2084.84 H885.8 V2082.44 H886.8 V2086.17 H887.8 V2082.86 H888.8 V2080.34 H889.8 V2083.46 H890.8 V2085.19 H891.8 V2083.82 H892.8 V2083.37 H893.8 V2086.06 H894.8 V2086.25 H895.8 V2086.21 H896.8 V2085.1 H897.8 V2084.34 H898.8 V2085.17 H899.8 V2085.47 H900.8 V2086.49 H901.8 V2083.23 H902.8 V2081.09 H903.8 V2082.63 H904.8 V2082.83 H905.8 V2082.18 H906.8 V2085.37 H907.8 V2081.56 H908.8 V2083.32 H909.8 V2082.6 H910.8 V2082.03 H911.8 V2083.04 H912.8 V2084.17 H913.8 V2084.63 H914.8 V2084.73 H915.8 V2082.38 H916.8 V2083.32 H917.8 V2081.63 H918.8 V2086.16 H919.8 V2083.34 H920.8 V2079.1 H921.8 V2084.14 H922.8 V2081.42 H923.8 V2081.88 H924.8 V2083.55 H925.8 V2077.56 H926.8 V2083.4 H927.8 V2079.3 H928.8 V2084.52 H929.8 V2085.28 H930.8 V2078.32 H931.8 V2082 H932.8 V2085.25 H933.8 V2082.39 H934.8 V2081.9 H935.8 V2079.27 H936.8 V2084.74 H937.8 V2083.69 H938.8 V2077.15 H939.8 V2079.06 H940.8 V2084.23 H941.8 V2082.57 H942.8 V2082.4 H943.8 V2079.46 H944.8 V2079.95 H945.8 V2077.78 H946.8 V2078 H947.8 V2080.72 H948.8 V2078.66 H949.8 V2078.57 H950.8 V2078.37 H951.8 V2080.96 H952.8 V2078.04 H953.8 V2078.71 H954.8 V2076.73 H955.8 V2084.07 H956.8 V2077.04 H957.8 V2085.17 H958.8 V2077.93 H959.8 V2079.31 H960.8 V2079.19 H961.8 V2072.85 H962.8 V2076.07 H963.8 V2076.81 H964.8 V2070.31 H965.8 V2067.15 H966.8 V2069.92 H967.8 V2073.2 H968.8 V2071.44 H969.8 V2070.8 H970.8 V2065.4 H971.8 V2072.77 H972.8 V2070.38 H973.8 V2066.57 H974.8 V2069.36 H975.8 V2069.78 H976.8 V2057.73 H977.8 V2053.79 H978.8 V2060.09 H979.8 V2059.35 H980.8 V2060.44 H981.8 V2046.24 H982.8 V2040.89 H983.8 V1993.88 H984.8 V1988.43 H985.8 V1792.12 H986.8 V1792.12 H987.8 V2065.21 H988.8 V2053.99 H989.8 V2055.91 H990.8 V2054.99 H991.8 V2072.25 H992.8 V2068 H993.8 V2058.56 H994.8 V2077.1 H995.8 V2076.63 H996.8 V2066.89 H997.8 V2068.6 H998.8 V2061.08 H999.8 V2064.28 H1000.8 V2068.96 H1001.8 V2061.11 H1002.8 V2070.03 H1003.8 V2070.37 H1004.8 V2067.84 H1005.8 V2073.17 H1006.8 V2073.98 H1007.8 V2070.5 H1008.8 V2074.99 H1009.8 V2066.42 H1010.8 V2071.21 H1011.8 V2074.02 H1012.8 V2080.5 H1013.8 V2077.14 H1014.8 V2077.16 H1015.8 V2075.25 H1016.8 V2075.27 H1017.8 V2071.57 H1018.8 V2070.74 H1019.8 V2076.92 H1020.8 V2077.66 H1021.8 V2075.58 H1022.8 V2071.3 H1023.8 V2079.3 H1024.8 V2077.24 H1025.8 V2074.09 H1026.8 V2081.71 H1027.8 V2080.15 H1028.8 V2072.86 H1029.8 V2074.77 H1030.8 V2078.41 H1031.8 V2082.94 H1032.8 V2074.61 H1033.8 V2076.98 H1034.8 V2075.76 H1035.8 V2074.1 H1036.8 V2075.29 H1037.8 V2080.22 H1038.8 V2083.02 H1039.8 V2081.72 H1040.8 V2079.56 H1041.8 V2079.72 H1042.8 V2082.96 H1043.8 V2083.08 H1044.8 V2078.75 H1045.8 V2079.11 H1046.8 V2081.62 H1047.8 V2075.53 H1048.8 V2079.06 H1049.8 V2084.78 H1050.8 V2081.3 H1051.8 V2077.77 H1052.8 V2082.34 H1053.8 V2078.75 H1054.8 V2085.23 H1055.8 V2082.43 H1056.8 V2077.43 H1057.8 V2079.85 H1058.8 V2079.12 H1059.8 V2083.52 H1060.8 V2080.76 H1061.8 V2080.27 H1062.8 V2082.95 H1063.8 V2079.47 H1064.8 V2080.56 H1065.8 V2076.33 H1066.8 V2080.22 H1067.8 V2081.74 H1068.8 V2084.39 H1069.8 V2084.09 H1070.8 V2078.66 H1071.8 V2084.58 H1072.8 V2084.66 H1073.8 V2084.04 H1074.8 V2080.91 H1075.8 V2078.26 H1076.8 V2080.16 H1077.8 V2078.47 H1078.8 V2085.1 H1079.8 V2085.56 H1080.8 V2078.89 H1081.8 V2082.86 H1082.8 V2079.43 H1083.8 V2082.63 H1084.8 V2084.27 H1085.8 V2083.44 H1086.8 V2084.91 H1087.8 V2077.95 H1088.8 V2080.77 H1089.8 V2082.81 H1090.8 V2081.96 H1091.8 V2082.54 H1092.8 V2085.4 H1093.8 V2078.27 H1094.8 V2080.93 H1095.8 V2077.74 H1096.8 V2082.2 H1097.8 V2080.69 H1098.8 V2083.85 H1099.8 V2085.6 H1100.8 V2078.16 H1101.8 V2078.83 H1102.8 V2083.38 H1103.8 V2078.53 H1104.8 V2079.25 H1105.8 V2083.54 H1106.8 V2081.08 H1107.8 V2078.15 H1108.8 V2082.02 H1109.8 V2078.3 H1110.8 V2084.14 H1111.8 V2082.96 H1112.8 V2080.29 H1113.8 V2084.37 H1114.8 V2083.68 H1115.8 V2079.1 H1116.8 V2082.3 H1117.8 V2079.83 H1118.8 V2084.29 H1119.8 V2084.87 H1120.8 V2083.41 H1121.8 V2084.8 H1122.8 V2078.55 H1123.8 V2084.01 H1124.8 V2081.87 H1125.8 V2085.44 H1126.8 V2082.14 H1127 V2092.3 Z" fill="#5a5a5a"/>
<text x="666.3" y="1852.8" text-anchor="end" font-size="25">0.075</text>
<line x1="678.5" y1="1844.9" x2="682" y2="1844.9" stroke="#333" stroke-width="1.8"/>
<text x="666.3" y="1935.6" text-anchor="end" font-size="25">0.050</text>
<line x1="678.5" y1="1927.7" x2="682" y2="1927.7" stroke="#333" stroke-width="1.8"/>
<text x="666.3" y="2018.1" text-anchor="end" font-size="25">0.025</text>
<line x1="678.5" y1="2010.2" x2="682" y2="2010.2" stroke="#333" stroke-width="1.8"/>
<text x="666.3" y="2100.2" text-anchor="end" font-size="25">0.000</text>
<line x1="678.5" y1="2092.3" x2="682" y2="2092.3" stroke="#333" stroke-width="1.8"/>
<path d="M704.8,2130 V2114.7 H1127 V2130 M845.4,2114.7 V2130 M988.4,2114.7 V2130" fill="none" stroke="#000" stroke-width="2.7"/>
<text x="776" y="2144.6" text-anchor="middle" font-size="25">5’ UTR</text>
<text x="918.4" y="2144.6" text-anchor="middle" font-size="25">CDS</text>
<text x="1061.3" y="2144.6" text-anchor="middle" font-size="25">3’ UTR</text>
<text x="1198.3" y="1336" font-weight="bold" font-size="42">d</text>
<text x="1617" y="1351.3" text-anchor="middle" font-size="33.3">meRIP-qPCR</text>
<text text-anchor="middle" transform="translate(1258,1540) rotate(-90)" font-size="33.3">Fold over IgG</text>
<path d="M1364.3,1432 V1400.2 M1357.1,1400.2 H1371.5" fill="none" stroke="#000" stroke-width="2.6"/>
<rect x="1350.3" y="1431" width="28" height="289.3" fill="#000"/>
<path d="M1475,1434.6 V1407.4 M1467.8,1407.4 H1482.2" fill="none" stroke="#000" stroke-width="2.6"/>
<rect x="1461" y="1433.6" width="28" height="286.7" fill="#000"/>
<path d="M1586.5,1443.7 V1406.1 M1579.3,1406.1 H1593.7" fill="none" stroke="#000" stroke-width="2.6"/>
<rect x="1572.5" y="1442.7" width="28" height="277.6" fill="#000"/>
<path d="M1697,1691.5 V1686 M1689.8,1686 H1704.2" fill="none" stroke="#000" stroke-width="2.6"/>
<rect x="1683" y="1690.5" width="28" height="29.8" fill="#000"/>
<path d="M1808,1681.6 V1678.3 M1800.8,1678.3 H1815.2" fill="none" stroke="#000" stroke-width="2.6"/>
<rect x="1794" y="1680.6" width="28" height="39.7" fill="#000"/>
<path d="M1406.3,1523 V1510 M1399.1,1510 H1413.5" fill="none" stroke="#000" stroke-width="2.6"/>
<rect x="1393.3" y="1523.1" width="25.7" height="197.2" fill="#ff0000" stroke="#000" stroke-width="2.3"/>
<path d="M1517,1577.7 V1567.7 M1509.8,1567.7 H1524.2" fill="none" stroke="#000" stroke-width="2.6"/>
<rect x="1503.9" y="1577.8" width="25.7" height="142.5" fill="#ff0000" stroke="#000" stroke-width="2.3"/>
<path d="M1628,1554.3 V1516.7 M1620.8,1516.7 H1635.2" fill="none" stroke="#000" stroke-width="2.6"/>
<rect x="1614.9" y="1554.4" width="25.7" height="165.9" fill="#ff0000" stroke="#000" stroke-width="2.3"/>
<path d="M1738.5,1692 V1689.2 M1731.3,1689.2 H1745.7" fill="none" stroke="#000" stroke-width="2.6"/>
<rect x="1725.5" y="1692.1" width="25.6" height="28.2" fill="#ff0000" stroke="#000" stroke-width="2.3"/>
<path d="M1849.2,1685.6 V1681.5 M1842,1681.5 H1856.4" fill="none" stroke="#000" stroke-width="2.6"/>
<rect x="1836.2" y="1685.7" width="25.7" height="34.6" fill="#ff0000" stroke="#000" stroke-width="2.3"/>
<path d="M1336.7,1357.7 V1720.3 M1329.1,1720.3 H1878.6" fill="none" stroke="#000" stroke-width="2.9"/>
<line x1="1329.1" y1="1720.3" x2="1336.7" y2="1720.3" stroke="#000" stroke-width="2.9"/>
<text x="1316.8" y="1729.2" text-anchor="end" font-size="29">0</text>
<line x1="1329.1" y1="1660.1" x2="1336.7" y2="1660.1" stroke="#000" stroke-width="2.9"/>
<text x="1316.8" y="1669" text-anchor="end" font-size="29">5</text>
<line x1="1329.1" y1="1599.9" x2="1336.7" y2="1599.9" stroke="#000" stroke-width="2.9"/>
<text x="1316.8" y="1608.8" text-anchor="end" font-size="29">10</text>
<line x1="1329.1" y1="1539.7" x2="1336.7" y2="1539.7" stroke="#000" stroke-width="2.9"/>
<text x="1316.8" y="1548.6" text-anchor="end" font-size="29">15</text>
<line x1="1329.1" y1="1479.5" x2="1336.7" y2="1479.5" stroke="#000" stroke-width="2.9"/>
<text x="1316.8" y="1488.4" text-anchor="end" font-size="29">20</text>
<line x1="1329.1" y1="1419.3" x2="1336.7" y2="1419.3" stroke="#000" stroke-width="2.9"/>
<text x="1316.8" y="1428.2" text-anchor="end" font-size="29">25</text>
<line x1="1329.1" y1="1359.1" x2="1336.7" y2="1359.1" stroke="#000" stroke-width="2.9"/>
<text x="1316.8" y="1368" text-anchor="end" font-size="29">30</text>
<line x1="1385" y1="1720.3" x2="1385" y2="1727.4" stroke="#000" stroke-width="2.7"/>
<text x="1385" y="1762.8" text-anchor="middle" font-size="29">DBP</text>
<line x1="1495.7" y1="1720.3" x2="1495.7" y2="1727.4" stroke="#000" stroke-width="2.7"/>
<text x="1495.7" y="1762.8" text-anchor="middle" font-size="29">MLP</text>
<line x1="1606.3" y1="1720.3" x2="1606.3" y2="1727.4" stroke="#000" stroke-width="2.7"/>
<text x="1601" y="1762.8" text-anchor="middle" font-size="29">MALAT1</text>
<line x1="1717.8" y1="1720.3" x2="1717.8" y2="1727.4" stroke="#000" stroke-width="2.7"/>
<text x="1717.8" y="1762.8" text-anchor="middle" font-size="29">GAPDH</text>
<line x1="1828.4" y1="1720.3" x2="1828.4" y2="1727.4" stroke="#000" stroke-width="2.7"/>
<text x="1828.4" y="1762.8" text-anchor="middle" font-size="29">HPRT</text>
<circle cx="1364.3" cy="1371.3" r="4.5" fill="#9b9b9b"/>
<circle cx="1364.3" cy="1448.1" r="4.5" fill="#9b9b9b"/>
<circle cx="1364.3" cy="1472" r="4.5" fill="#9b9b9b"/>
<circle cx="1474.9" cy="1382.6" r="4.5" fill="#9b9b9b"/>
<circle cx="1474.9" cy="1447.6" r="4.5" fill="#9b9b9b"/>
<circle cx="1474.9" cy="1470.2" r="4.5" fill="#9b9b9b"/>
<circle cx="1586" cy="1388.9" r="4.5" fill="#9b9b9b"/>
<circle cx="1586" cy="1425.5" r="4.5" fill="#9b9b9b"/>
<circle cx="1586" cy="1511.7" r="4.5" fill="#9b9b9b"/>
<circle cx="1687.6" cy="1683.7" r="4.5" fill="#9b9b9b"/>
<circle cx="1687.6" cy="1695.9" r="4.5" fill="#9b9b9b"/>
<circle cx="1706.5" cy="1692.8" r="4.5" fill="#9b9b9b"/>
<circle cx="1798.2" cy="1686.5" r="4.5" fill="#9b9b9b"/>
<circle cx="1808.1" cy="1678.3" r="4.5" fill="#9b9b9b"/>
<circle cx="1817.6" cy="1678.3" r="4.5" fill="#9b9b9b"/>
<polygon points="1401.3,1493.3 1411.3,1493.3 1406.3,1501.9" fill="#9b9b9b"/>
<polygon points="1391.4,1530.3 1401.4,1530.3 1396.4,1538.9" fill="#9b9b9b"/>
<polygon points="1410.8,1529 1420.8,1529 1415.8,1537.6" fill="#9b9b9b"/>
<polygon points="1511.9,1557.4 1521.9,1557.4 1516.9,1566" fill="#9b9b9b"/>
<polygon points="1511.9,1569.1 1521.9,1569.1 1516.9,1577.7" fill="#9b9b9b"/>
<polygon points="1511.9,1589.5 1521.9,1589.5 1516.9,1598.1" fill="#9b9b9b"/>
<polygon points="1622.5,1506.8 1632.5,1506.8 1627.5,1515.4" fill="#9b9b9b"/>
<polygon points="1622.5,1517.2 1632.5,1517.2 1627.5,1525.8" fill="#9b9b9b"/>
<polygon points="1622.5,1620.6 1632.5,1620.6 1627.5,1629.2" fill="#9b9b9b"/>
<polygon points="1724.1,1689.7 1734.1,1689.7 1729.1,1698.3" fill="#9b9b9b"/>
<polygon points="1733.6,1683.4 1743.6,1683.4 1738.6,1692" fill="#9b9b9b"/>
<polygon points="1743.1,1688.8 1753.1,1688.8 1748.1,1697.4" fill="#9b9b9b"/>
<polygon points="1835.2,1675.2 1845.2,1675.2 1840.2,1683.8" fill="#9b9b9b"/>
<polygon points="1835.2,1686.1 1845.2,1686.1 1840.2,1694.7" fill="#9b9b9b"/>
<polygon points="1854.1,1679.7 1864.1,1679.7 1859.1,1688.3" fill="#9b9b9b"/>
<path d="M1364.3,1390 H1405.8 V1482.8 M1474.9,1390 H1517 V1550.6 M1586,1390 H1628 V1501 M1696.6,1661.2 H1738.6 M1807.2,1661.2 H1849.2" fill="none" stroke="#000" stroke-width="2.7"/>
<text x="1385" y="1393.5" text-anchor="middle" font-size="25">**</text>
<text x="1495.7" y="1393.5" text-anchor="middle" font-size="25">***</text>
<text x="1607" y="1393.5" text-anchor="middle" font-size="25">**</text>
<text x="1717.8" y="1654.4" text-anchor="middle" font-size="25">ns</text>
<text x="1828.4" y="1654.4" text-anchor="middle" font-size="25">ns</text>
<rect x="1708.8" y="1391.6" width="18.1" height="27.1" fill="#000"/>
<rect x="1709.7" y="1448.5" width="16.3" height="25.3" fill="#ff0000" stroke="#000" stroke-width="1.8"/>
<text x="1738.6" y="1418.6" font-size="33.3">siCTRL</text>
<text x="1738.6" y="1474" font-size="33.3">siMETTL3</text>
<text x="1198.7" y="1863.5" font-weight="bold" font-size="42">e</text>
<text x="1314.3" y="1915.2" text-anchor="middle" font-size="29">–</text>
<text x="1401.6" y="1917.5" text-anchor="middle" font-size="29">+</text>
<text x="1464.6" y="1912.1" font-size="29">:siRNA</text>
<text x="1203.4" y="1937.8" font-size="25">kDa:</text>
<text x="1210.8" y="1980.1" font-size="25">70</text>
<text x="1210.8" y="2033.4" font-size="25">40</text>
<text x="1462.7" y="1972.7" font-size="29">METTL3</text>
<text x="1463.4" y="2068.8" font-size="29">GAPDH</text>
<clipPath id="ce1"><rect x="1261.6" y="1925.5" width="188.6" height="77.2"/></clipPath>
<rect x="1261.6" y="1925.5" width="188.6" height="77.2" fill="#f8f8f8"/>
<g clip-path="url(#ce1)">
<rect x="1272" y="1949.3" width="82" height="24" rx="10" fill="#000" opacity="0.33" filter="url(#b5)"/>
<path d="M1271.5,1966.3 C1271.5,1952.3 1282,1953.8 1292,1957.8 C1300,1960.5 1306,1961.1 1313,1961.1 C1320,1961.1 1326,1960.5 1334,1957.8 C1344,1953.8 1354.5,1952.3 1354.5,1966.3 C1354.5,1980.8 1344,1979.3 1334,1974.8 C1326,1971.5 1320,1970.7 1313,1970.7 C1306,1970.7 1300,1971.5 1292,1974.8 C1282,1979.3 1271.5,1980.8 1271.5,1966.3 Z" fill="#000" filter="url(#b25)"/>
<ellipse cx="1405" cy="1968" rx="34" ry="6" fill="#000" opacity="0.015" filter="url(#b5)"/>
</g>
<rect x="1261.6" y="1925.5" width="188.6" height="77.2" fill="none" stroke="#000" stroke-width="3"/>
<clipPath id="ce2"><rect x="1261.6" y="2022.1" width="188.6" height="77.4"/></clipPath>
<rect x="1261.6" y="2022.1" width="188.6" height="77.4" fill="#f8f8f8"/>
<g clip-path="url(#ce2)">
<rect x="1268" y="2044" width="82" height="30" rx="10" fill="#000" opacity="0.42" filter="url(#b5)"/>
<rect x="1272" y="2057" width="74" height="14" rx="6" fill="#000" opacity="0.55" filter="url(#b5)"/>
<path d="M1360,2046 C1375,2048 1392,2054 1410,2050 S1436,2044 1444,2046 L1444,2070 C1430,2074 1400,2076 1384,2075 S1364,2068 1360,2064 Z" fill="#000" opacity="0.5" filter="url(#b5)"/>
<path d="M1362,2059 C1380,2068 1392,2070 1410,2065 S1436,2060 1442,2060" stroke="#000" stroke-width="9" fill="none" opacity="0.5" filter="url(#b5)"/>
<ellipse cx="1433" cy="2060.5" rx="9" ry="7" fill="#000" opacity="0.8" filter="url(#b3)"/>
</g>
<rect x="1261.6" y="2022.1" width="188.6" height="77.4" fill="none" stroke="#000" stroke-width="3"/>
<path d="M1251.9,1972.9 H1261 M1251.9,2027.1 H1261" fill="none" stroke="#000" stroke-width="4"/>
<text x="1606" y="1864" font-weight="bold" font-size="42">f</text>
<text x="1751.2" y="1873.8" font-size="29">METTL3 KO</text>
<line x1="1753" y1="1883.6" x2="1912.4" y2="1883.6" stroke="#000" stroke-width="3"/>
<text x="1668.5" y="1914" font-size="29">Parent</text>
<text x="1790" y="1914" text-anchor="middle" font-size="29">1</text>
<text x="1871.8" y="1914" text-anchor="middle" font-size="29">2</text>
<text x="1931.5" y="1914" font-size="29">:clone</text>
<text x="1606.4" y="1937.8" font-size="25">kDa:</text>
<text x="1617.4" y="1980.1" font-size="25">70</text>
<text x="1617.4" y="2033.4" font-size="25">40</text>
<text x="1932.3" y="1972.7" font-size="29">METTL3</text>
<text x="1933" y="2068.8" font-size="29">GAPDH</text>
<clipPath id="cf1"><rect x="1663.5" y="1924.5" width="257.1" height="78.8"/></clipPath>
<rect x="1663.5" y="1924.5" width="257.1" height="78.8" fill="#dedede"/>
<g clip-path="url(#cf1)">
<linearGradient id="lg1" x1="0" x2="1" y1="0" y2="0"><stop offset="0" stop-color="#fff" stop-opacity="0.35"/><stop offset="1" stop-color="#fff" stop-opacity="0"/></linearGradient>
<rect x="1663" y="1924" width="150" height="80" fill="url(#lg1)"/>
<rect x="1679" y="1951.8" width="67" height="22" rx="9" fill="#000" opacity="0.22" filter="url(#b5)"/>
<rect x="1680" y="1955.8" width="65" height="14" rx="7" fill="#000" opacity="0.45" filter="url(#b3)"/>
<path d="M1680,1962.8 C1680,1952.8 1695,1955.8 1712,1957.8 S1745,1951.8 1745,1962.8 C1745,1973.8 1728,1968.8 1712,1967.8 S1680,1972.8 1680,1962.8 Z" fill="#000" opacity="0.3" filter="url(#b3)"/>
<ellipse cx="1735" cy="1962.8" rx="9" ry="5" fill="#000" opacity="0.55" filter="url(#b3)"/>
<ellipse cx="1688" cy="1962.8" rx="6" ry="4" fill="#000" opacity="0.2" filter="url(#b3)"/>
<ellipse cx="1882.8" cy="1952.3" rx="2.4" ry="4" fill="#000" opacity="0.85" filter="url(#b1)"/>
<ellipse cx="1882.8" cy="1952.3" rx="3.5" ry="5.5" fill="#000" opacity="0.3" filter="url(#b2)"/>
<rect x="1842" y="1931" width="71" height="13" rx="6" fill="#000" opacity="0.09" filter="url(#b3)"/>
<rect x="1760" y="1934" width="67" height="12" rx="6" fill="#000" opacity="0.05" filter="url(#b3)"/>
</g>
<rect x="1663.5" y="1924.5" width="257.1" height="78.8" fill="none" stroke="#000" stroke-width="3"/>
<clipPath id="cf2"><rect x="1663.5" y="2020" width="257.1" height="81.5"/></clipPath>
<rect x="1663.5" y="2020" width="257.1" height="81.5" fill="#f6f6f6"/>
<g clip-path="url(#cf2)">
<rect x="1684" y="2046.5" width="70" height="26" rx="8" fill="#000" opacity="0.5" filter="url(#b5)"/>
<rect x="1760" y="2046.5" width="68" height="26" rx="8" fill="#000" opacity="0.5" filter="url(#b5)"/>
<rect x="1834.5" y="2046.5" width="69.5" height="26" rx="8" fill="#000" opacity="0.5" filter="url(#b5)"/>
<rect x="1686" y="2052.5" width="66" height="20" rx="7" fill="#000" opacity="0.75" filter="url(#b3)"/>
<rect x="1686" y="2062.5" width="66" height="10" rx="5" fill="#000" opacity="0.9" filter="url(#b3)"/>
<rect x="1762" y="2062" width="64" height="11" rx="5" fill="#000" opacity="0.92" filter="url(#b3)"/>
<rect x="1837" y="2059.5" width="65" height="14" rx="6" fill="#000" opacity="0.8" filter="url(#b3)"/>
<ellipse cx="1871" cy="2065" rx="27" ry="6.5" fill="#000" filter="url(#b2)"/>
</g>
<rect x="1663.5" y="2020" width="257.1" height="81.5" fill="none" stroke="#000" stroke-width="3"/>
<path d="M1654.8,1972.9 H1663 M1654.8,2026.9 H1663" fill="none" stroke="#000" stroke-width="4"/>
</svg>
</body></html>
